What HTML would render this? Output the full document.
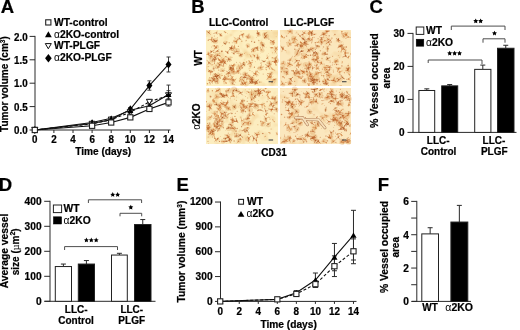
<!DOCTYPE html>
<html><head><meta charset="utf-8"><style>
html,body{margin:0;padding:0;background:#fff;width:520px;height:330px;overflow:hidden}
svg{display:block}
text{stroke:#000;stroke-width:0.22px}
</style></head><body>
<svg width="520" height="330" viewBox="0 0 520 330" font-family="Liberation Sans" font-weight="bold" fill="#000">
<defs><filter id="bl" x="-5%" y="-5%" width="110%" height="110%"><feGaussianBlur stdDeviation="0.45"/></filter><filter id="bl2" x="-5%" y="-5%" width="110%" height="110%"><feGaussianBlur stdDeviation="0.7"/></filter><filter id="gbl" x="0" y="0" width="100%" height="100%"><feGaussianBlur stdDeviation="0.3"/></filter></defs>
<rect width="520" height="330" fill="#fff"/>
<g filter="url(#gbl)">
<rect width="520" height="330" fill="#fff"/>
<text x="0.64" y="12.90" font-size="18.5" text-anchor="start" >A</text>
<text x="191.20" y="12.90" font-size="18.5" text-anchor="start" >B</text>
<text x="369.40" y="12.80" font-size="18.5" text-anchor="start" >C</text>
<text x="-1.24" y="190.60" font-size="18.5" text-anchor="start" >D</text>
<text x="176.40" y="190.90" font-size="18.5" text-anchor="start" >E</text>
<text x="377.80" y="190.90" font-size="18.5" text-anchor="start" >F</text>
<line x1="35.00" y1="35.90" x2="35.00" y2="130.50" stroke="#2a2a2a" stroke-width="1.0" />
<line x1="34.50" y1="130.00" x2="170.50" y2="130.00" stroke="#2a2a2a" stroke-width="1.0" />
<line x1="29.60" y1="36.40" x2="35.00" y2="36.40" stroke="#2a2a2a" stroke-width="1.0" />
<text transform="translate(27.60,40.60) scale(1,1.06)" font-size="9.8" text-anchor="end">2.0</text>
<line x1="29.60" y1="59.80" x2="35.00" y2="59.80" stroke="#2a2a2a" stroke-width="1.0" />
<text transform="translate(27.60,64.00) scale(1,1.06)" font-size="9.8" text-anchor="end">1.5</text>
<line x1="29.60" y1="83.20" x2="35.00" y2="83.20" stroke="#2a2a2a" stroke-width="1.0" />
<text transform="translate(27.60,87.40) scale(1,1.06)" font-size="9.8" text-anchor="end">1.0</text>
<line x1="29.60" y1="106.60" x2="35.00" y2="106.60" stroke="#2a2a2a" stroke-width="1.0" />
<text transform="translate(27.60,110.80) scale(1,1.06)" font-size="9.8" text-anchor="end">0.5</text>
<line x1="29.60" y1="130.00" x2="35.00" y2="130.00" stroke="#2a2a2a" stroke-width="1.0" />
<text transform="translate(27.60,134.20) scale(1,1.06)" font-size="9.8" text-anchor="end">0.0</text>
<line x1="34.80" y1="130.00" x2="34.80" y2="133.00" stroke="#2a2a2a" stroke-width="1.0" />
<text transform="translate(34.80,142.90) scale(1,1.06)" font-size="9.8" text-anchor="middle">0</text>
<line x1="53.90" y1="130.00" x2="53.90" y2="133.00" stroke="#2a2a2a" stroke-width="1.0" />
<text transform="translate(53.90,142.90) scale(1,1.06)" font-size="9.8" text-anchor="middle">2</text>
<line x1="73.00" y1="130.00" x2="73.00" y2="133.00" stroke="#2a2a2a" stroke-width="1.0" />
<text transform="translate(73.00,142.90) scale(1,1.06)" font-size="9.8" text-anchor="middle">4</text>
<line x1="92.10" y1="130.00" x2="92.10" y2="133.00" stroke="#2a2a2a" stroke-width="1.0" />
<text transform="translate(92.10,142.90) scale(1,1.06)" font-size="9.8" text-anchor="middle">6</text>
<line x1="111.20" y1="130.00" x2="111.20" y2="133.00" stroke="#2a2a2a" stroke-width="1.0" />
<text transform="translate(111.20,142.90) scale(1,1.06)" font-size="9.8" text-anchor="middle">8</text>
<line x1="130.30" y1="130.00" x2="130.30" y2="133.00" stroke="#2a2a2a" stroke-width="1.0" />
<text transform="translate(130.30,142.90) scale(1,1.06)" font-size="9.8" text-anchor="middle">10</text>
<line x1="149.40" y1="130.00" x2="149.40" y2="133.00" stroke="#2a2a2a" stroke-width="1.0" />
<text transform="translate(149.40,142.90) scale(1,1.06)" font-size="9.8" text-anchor="middle">12</text>
<line x1="168.50" y1="130.00" x2="168.50" y2="133.00" stroke="#2a2a2a" stroke-width="1.0" />
<text transform="translate(168.50,142.90) scale(1,1.06)" font-size="9.8" text-anchor="middle">14</text>
<text x="103.20" y="155.30" font-size="10.1" text-anchor="middle" >Time (days)</text>
<text transform="translate(8.20,84.10) rotate(-90)" x="0" y="0" font-size="10" text-anchor="middle" >Tumor volume (cm<tspan dy="-3.5" font-size="6.5">3</tspan><tspan dy="3.5">)</tspan></text>
<polyline points="34.80,130.00 92.10,125.79 111.20,122.51 130.30,117.36 149.40,108.94 168.50,102.39" fill="none" stroke="#111" stroke-width="1.1" />
<polyline points="34.80,130.00 92.10,122.51 111.20,118.30 130.30,110.34 149.40,105.66 168.50,94.43" fill="none" stroke="#111" stroke-width="1.1" />
<polyline points="34.80,130.00 92.10,123.92 111.20,119.70 130.30,112.22 149.40,101.92 168.50,95.37" fill="none" stroke="#111" stroke-width="1.1" stroke-dasharray="3,2"/>
<polyline points="34.80,130.00 92.10,123.45 111.20,119.70 130.30,109.41 149.40,85.54 168.50,64.48" fill="none" stroke="#111" stroke-width="1.1" />
<line x1="149.40" y1="106.60" x2="149.40" y2="111.28" stroke="#2a2a2a" stroke-width="0.9" />
<line x1="147.40" y1="106.60" x2="151.40" y2="106.60" stroke="#2a2a2a" stroke-width="0.9" />
<line x1="147.40" y1="111.28" x2="151.40" y2="111.28" stroke="#2a2a2a" stroke-width="0.9" />
<line x1="168.50" y1="98.64" x2="168.50" y2="106.13" stroke="#2a2a2a" stroke-width="0.9" />
<line x1="166.50" y1="98.64" x2="170.50" y2="98.64" stroke="#2a2a2a" stroke-width="0.9" />
<line x1="166.50" y1="106.13" x2="170.50" y2="106.13" stroke="#2a2a2a" stroke-width="0.9" />
<line x1="130.30" y1="108.00" x2="130.30" y2="112.68" stroke="#2a2a2a" stroke-width="0.9" />
<line x1="128.30" y1="108.00" x2="132.30" y2="108.00" stroke="#2a2a2a" stroke-width="0.9" />
<line x1="128.30" y1="112.68" x2="132.30" y2="112.68" stroke="#2a2a2a" stroke-width="0.9" />
<line x1="149.40" y1="102.86" x2="149.40" y2="108.47" stroke="#2a2a2a" stroke-width="0.9" />
<line x1="147.40" y1="102.86" x2="151.40" y2="102.86" stroke="#2a2a2a" stroke-width="0.9" />
<line x1="147.40" y1="108.47" x2="151.40" y2="108.47" stroke="#2a2a2a" stroke-width="0.9" />
<line x1="168.50" y1="85.07" x2="168.50" y2="103.79" stroke="#2a2a2a" stroke-width="0.9" />
<line x1="166.50" y1="85.07" x2="170.50" y2="85.07" stroke="#2a2a2a" stroke-width="0.9" />
<line x1="166.50" y1="103.79" x2="170.50" y2="103.79" stroke="#2a2a2a" stroke-width="0.9" />
<line x1="130.30" y1="110.34" x2="130.30" y2="114.09" stroke="#2a2a2a" stroke-width="0.9" />
<line x1="128.30" y1="110.34" x2="132.30" y2="110.34" stroke="#2a2a2a" stroke-width="0.9" />
<line x1="128.30" y1="114.09" x2="132.30" y2="114.09" stroke="#2a2a2a" stroke-width="0.9" />
<line x1="149.40" y1="99.58" x2="149.40" y2="104.26" stroke="#2a2a2a" stroke-width="0.9" />
<line x1="147.40" y1="99.58" x2="151.40" y2="99.58" stroke="#2a2a2a" stroke-width="0.9" />
<line x1="147.40" y1="104.26" x2="151.40" y2="104.26" stroke="#2a2a2a" stroke-width="0.9" />
<line x1="168.50" y1="90.69" x2="168.50" y2="100.05" stroke="#2a2a2a" stroke-width="0.9" />
<line x1="166.50" y1="90.69" x2="170.50" y2="90.69" stroke="#2a2a2a" stroke-width="0.9" />
<line x1="166.50" y1="100.05" x2="170.50" y2="100.05" stroke="#2a2a2a" stroke-width="0.9" />
<line x1="130.30" y1="107.54" x2="130.30" y2="111.28" stroke="#2a2a2a" stroke-width="0.9" />
<line x1="128.30" y1="107.54" x2="132.30" y2="107.54" stroke="#2a2a2a" stroke-width="0.9" />
<line x1="128.30" y1="111.28" x2="132.30" y2="111.28" stroke="#2a2a2a" stroke-width="0.9" />
<line x1="149.40" y1="80.86" x2="149.40" y2="90.22" stroke="#2a2a2a" stroke-width="0.9" />
<line x1="147.40" y1="80.86" x2="151.40" y2="80.86" stroke="#2a2a2a" stroke-width="0.9" />
<line x1="147.40" y1="90.22" x2="151.40" y2="90.22" stroke="#2a2a2a" stroke-width="0.9" />
<line x1="168.50" y1="56.99" x2="168.50" y2="71.97" stroke="#2a2a2a" stroke-width="0.9" />
<line x1="166.50" y1="56.99" x2="170.50" y2="56.99" stroke="#2a2a2a" stroke-width="0.9" />
<line x1="166.50" y1="71.97" x2="170.50" y2="71.97" stroke="#2a2a2a" stroke-width="0.9" />
<polygon points="34.80,125.90 37.80,130.00 34.80,134.10 31.80,130.00" fill="#000"/>
<polygon points="92.10,119.35 95.10,123.45 92.10,127.55 89.10,123.45" fill="#000"/>
<polygon points="111.20,115.60 114.20,119.70 111.20,123.80 108.20,119.70" fill="#000"/>
<polygon points="130.30,105.31 133.30,109.41 130.30,113.51 127.30,109.41" fill="#000"/>
<polygon points="149.40,81.44 152.40,85.54 149.40,89.64 146.40,85.54" fill="#000"/>
<polygon points="168.50,60.38 171.50,64.48 168.50,68.58 165.50,64.48" fill="#000"/>
<polygon points="31.80,127.39 37.80,127.39 34.80,132.61" fill="#fff" stroke="#111" stroke-width="1"/>
<polygon points="89.10,121.31 95.10,121.31 92.10,126.53" fill="#fff" stroke="#111" stroke-width="1"/>
<polygon points="108.20,117.09 114.20,117.09 111.20,122.31" fill="#fff" stroke="#111" stroke-width="1"/>
<polygon points="127.30,109.61 133.30,109.61 130.30,114.83" fill="#fff" stroke="#111" stroke-width="1"/>
<polygon points="146.40,99.31 152.40,99.31 149.40,104.53" fill="#fff" stroke="#111" stroke-width="1"/>
<polygon points="165.50,92.76 171.50,92.76 168.50,97.98" fill="#fff" stroke="#111" stroke-width="1"/>
<polygon points="31.80,132.61 37.80,132.61 34.80,127.39" fill="#000" stroke="#111" stroke-width="0"/>
<polygon points="89.10,125.12 95.10,125.12 92.10,119.90" fill="#000" stroke="#111" stroke-width="0"/>
<polygon points="108.20,120.91 114.20,120.91 111.20,115.69" fill="#000" stroke="#111" stroke-width="0"/>
<polygon points="127.30,112.95 133.30,112.95 130.30,107.73" fill="#000" stroke="#111" stroke-width="0"/>
<polygon points="146.40,108.27 152.40,108.27 149.40,103.05" fill="#000" stroke="#111" stroke-width="0"/>
<polygon points="165.50,97.04 171.50,97.04 168.50,91.82" fill="#000" stroke="#111" stroke-width="0"/>
<rect x="32.20" y="127.40" width="5.20" height="5.20" fill="#fff" stroke="#222" stroke-width="1.1"/>
<rect x="89.50" y="123.19" width="5.20" height="5.20" fill="#fff" stroke="#222" stroke-width="1.1"/>
<rect x="108.60" y="119.91" width="5.20" height="5.20" fill="#fff" stroke="#222" stroke-width="1.1"/>
<rect x="127.70" y="114.76" width="5.20" height="5.20" fill="#fff" stroke="#222" stroke-width="1.1"/>
<rect x="146.80" y="106.34" width="5.20" height="5.20" fill="#fff" stroke="#222" stroke-width="1.1"/>
<rect x="165.90" y="99.79" width="5.20" height="5.20" fill="#fff" stroke="#222" stroke-width="1.1"/>
<rect x="45.70" y="19.80" width="5.20" height="5.20" fill="#fff" stroke="#222" stroke-width="1.1"/>
<text x="54.00" y="25.80" font-size="10.25" text-anchor="start" >WT-control</text>
<polygon points="45.00,37.26 51.80,37.26 48.40,31.34" fill="#000" stroke="#111" stroke-width="0"/>
<text x="54.00" y="37.50" font-size="10.25" text-anchor="start" ><tspan font-family="Liberation Sans" font-weight="normal" style="stroke-width:0">α</tspan>2KO-control</text>
<polygon points="45.30,43.59 51.30,43.59 48.30,48.81" fill="#fff" stroke="#111" stroke-width="1"/>
<text x="54.00" y="49.30" font-size="10.25" text-anchor="start" >WT-PLGF</text>
<polygon points="48.40,54.00 51.70,58.30 48.40,62.60 45.10,58.30" fill="#000"/>
<text x="54.00" y="61.30" font-size="10.25" text-anchor="start" ><tspan font-family="Liberation Sans" font-weight="normal" style="stroke-width:0">α</tspan>2KO-PLGF</text>
<defs><filter id="tx0" x="0" y="0" width="100%" height="100%" color-interpolation-filters="sRGB">
 <feTurbulence type="fractalNoise" baseFrequency="0.25" numOctaves="2" seed="10" result="n3"/>
 <feColorMatrix in="n3" type="matrix" values="0 0 0 0 0.86  0 0 0 0 0.60  0 0 0 0 0.36  5 -2.5 -2.5 0 -1.2" result="spots2"/>
 <feTurbulence type="fractalNoise" baseFrequency="0.1" numOctaves="2" seed="15" result="n2"/>
 <feColorMatrix in="n2" type="matrix" values="0 0 0 0 0.93  0 0 0 0 0.76  0 0 0 0 0.50  1.6 0 0 0 -0.85" result="mott"/>
 <feFlood flood-color="#fdefc0" result="bg"/>
 <feComposite in="mott" in2="bg" operator="over" result="m1"/>
 <feComposite in="spots2" in2="m1" operator="over" result="m2"/>
 <feGaussianBlur in="m2" stdDeviation="0.35"/>
</filter><filter id="tx1" x="0" y="0" width="100%" height="100%" color-interpolation-filters="sRGB">
 <feTurbulence type="fractalNoise" baseFrequency="0.25" numOctaves="2" seed="17" result="n3"/>
 <feColorMatrix in="n3" type="matrix" values="0 0 0 0 0.86  0 0 0 0 0.60  0 0 0 0 0.36  5 -2.5 -2.5 0 -1.2" result="spots2"/>
 <feTurbulence type="fractalNoise" baseFrequency="0.1" numOctaves="2" seed="22" result="n2"/>
 <feColorMatrix in="n2" type="matrix" values="0 0 0 0 0.93  0 0 0 0 0.76  0 0 0 0 0.50  1.6 0 0 0 -0.85" result="mott"/>
 <feFlood flood-color="#fbe7bc" result="bg"/>
 <feComposite in="mott" in2="bg" operator="over" result="m1"/>
 <feComposite in="spots2" in2="m1" operator="over" result="m2"/>
 <feGaussianBlur in="m2" stdDeviation="0.35"/>
</filter><filter id="tx2" x="0" y="0" width="100%" height="100%" color-interpolation-filters="sRGB">
 <feTurbulence type="fractalNoise" baseFrequency="0.25" numOctaves="2" seed="24" result="n3"/>
 <feColorMatrix in="n3" type="matrix" values="0 0 0 0 0.86  0 0 0 0 0.60  0 0 0 0 0.36  5 -2.5 -2.5 0 -1.2" result="spots2"/>
 <feTurbulence type="fractalNoise" baseFrequency="0.1" numOctaves="2" seed="29" result="n2"/>
 <feColorMatrix in="n2" type="matrix" values="0 0 0 0 0.93  0 0 0 0 0.76  0 0 0 0 0.50  1.6 0 0 0 -0.85" result="mott"/>
 <feFlood flood-color="#fcedc0" result="bg"/>
 <feComposite in="mott" in2="bg" operator="over" result="m1"/>
 <feComposite in="spots2" in2="m1" operator="over" result="m2"/>
 <feGaussianBlur in="m2" stdDeviation="0.35"/>
</filter><filter id="tx3" x="0" y="0" width="100%" height="100%" color-interpolation-filters="sRGB">
 <feTurbulence type="fractalNoise" baseFrequency="0.25" numOctaves="2" seed="31" result="n3"/>
 <feColorMatrix in="n3" type="matrix" values="0 0 0 0 0.86  0 0 0 0 0.60  0 0 0 0 0.36  5 -2.5 -2.5 0 -1.2" result="spots2"/>
 <feTurbulence type="fractalNoise" baseFrequency="0.1" numOctaves="2" seed="36" result="n2"/>
 <feColorMatrix in="n2" type="matrix" values="0 0 0 0 0.93  0 0 0 0 0.76  0 0 0 0 0.50  1.6 0 0 0 -0.85" result="mott"/>
 <feFlood flood-color="#fbe7be" result="bg"/>
 <feComposite in="mott" in2="bg" operator="over" result="m1"/>
 <feComposite in="spots2" in2="m1" operator="over" result="m2"/>
 <feGaussianBlur in="m2" stdDeviation="0.35"/>
</filter></defs>
<rect x="206.5" y="30.2" width="71.10" height="55.00" fill="#fdefc0" filter="url(#tx0)"/>
<g filter="url(#bl2)" fill="#dc9c58" opacity="0.3"><circle cx="216.9" cy="54.7" r="2.1"/><circle cx="252.3" cy="78.8" r="2.3"/><circle cx="216.9" cy="66.4" r="2.3"/><circle cx="250.5" cy="65.4" r="1.7"/><circle cx="221.9" cy="61.7" r="2.0"/><circle cx="276.3" cy="60.5" r="2.7"/><circle cx="217.7" cy="77.7" r="2.4"/><circle cx="248.3" cy="36.7" r="2.5"/><circle cx="262.2" cy="50.4" r="2.4"/><circle cx="260.2" cy="68.2" r="2.5"/><circle cx="237.3" cy="50.7" r="2.7"/><circle cx="231.1" cy="68.2" r="1.7"/><circle cx="275.7" cy="58.5" r="2.0"/><circle cx="243.2" cy="79.8" r="2.1"/><circle cx="219.0" cy="64.6" r="2.6"/><circle cx="275.7" cy="48.9" r="2.2"/><circle cx="214.6" cy="79.4" r="2.4"/><circle cx="225.1" cy="42.7" r="2.1"/><circle cx="275.8" cy="61.8" r="1.6"/><circle cx="244.7" cy="74.0" r="2.5"/><circle cx="238.8" cy="68.3" r="2.8"/><circle cx="241.4" cy="79.7" r="2.2"/><circle cx="271.3" cy="73.4" r="2.1"/><circle cx="214.9" cy="39.9" r="2.1"/><circle cx="243.8" cy="64.3" r="2.2"/><circle cx="235.5" cy="41.5" r="2.4"/><circle cx="222.0" cy="70.0" r="2.0"/><circle cx="210.6" cy="71.5" r="1.9"/><circle cx="210.8" cy="79.4" r="2.5"/><circle cx="231.0" cy="67.4" r="2.7"/><circle cx="222.8" cy="61.1" r="2.9"/><circle cx="251.4" cy="79.6" r="1.6"/><circle cx="269.5" cy="62.8" r="2.5"/><circle cx="238.3" cy="72.0" r="2.0"/><circle cx="258.7" cy="34.7" r="2.1"/><circle cx="231.4" cy="80.1" r="2.9"/><circle cx="216.9" cy="77.0" r="2.7"/><circle cx="232.4" cy="70.8" r="2.3"/><circle cx="248.4" cy="77.3" r="2.8"/><circle cx="242.9" cy="34.8" r="1.7"/><circle cx="253.8" cy="50.0" r="2.5"/><circle cx="256.7" cy="48.7" r="2.3"/><circle cx="233.5" cy="48.8" r="2.7"/><circle cx="211.2" cy="56.9" r="3.0"/><circle cx="217.0" cy="81.8" r="2.5"/><circle cx="213.9" cy="79.1" r="2.2"/><circle cx="220.9" cy="35.4" r="1.6"/><circle cx="263.1" cy="44.3" r="2.1"/><circle cx="233.7" cy="72.7" r="2.2"/><circle cx="215.5" cy="57.8" r="2.4"/><circle cx="241.9" cy="84.1" r="2.0"/><circle cx="215.4" cy="40.9" r="2.9"/><circle cx="250.0" cy="63.3" r="2.0"/><circle cx="256.1" cy="81.7" r="2.4"/><circle cx="232.9" cy="80.7" r="2.1"/><circle cx="266.1" cy="36.6" r="2.9"/><circle cx="219.5" cy="75.5" r="2.3"/><circle cx="251.1" cy="79.0" r="2.6"/><circle cx="245.9" cy="83.6" r="2.9"/><circle cx="264.7" cy="34.4" r="2.5"/><circle cx="258.4" cy="57.7" r="1.9"/><circle cx="215.0" cy="76.0" r="2.9"/><circle cx="240.8" cy="55.0" r="2.5"/><circle cx="221.9" cy="60.7" r="2.8"/><circle cx="231.4" cy="48.5" r="1.8"/><circle cx="229.4" cy="58.6" r="2.0"/><circle cx="247.9" cy="45.6" r="2.3"/><circle cx="262.3" cy="45.1" r="1.9"/><circle cx="272.4" cy="42.5" r="2.7"/><circle cx="251.9" cy="81.0" r="2.9"/><circle cx="274.6" cy="79.9" r="1.9"/><circle cx="211.9" cy="60.0" r="2.6"/><circle cx="269.5" cy="78.0" r="2.7"/><circle cx="217.3" cy="46.9" r="1.9"/><circle cx="232.1" cy="83.4" r="1.9"/><circle cx="225.3" cy="78.4" r="2.4"/></g>
<g filter="url(#bl)" stroke-linecap="round" fill="none"><path d="M217.6,55.3L218.0,54.0M217.6,55.3L218.8,55.6M217.6,55.3L215.3,57.4M217.6,55.3L215.8,55.1" stroke="#bc6832" stroke-width="0.72" opacity="0.58"/><circle cx="217.6" cy="55.3" r="0.77" fill="#bc6832" stroke="none" opacity="0.58"/><path d="M250.8,82.3L251.3,83.6M250.8,82.3L249.2,83.4M250.8,82.3L252.5,80.7" stroke="#ac5826" stroke-width="0.92" opacity="0.65"/><circle cx="250.8" cy="82.3" r="0.57" fill="#ac5826" stroke="none" opacity="0.65"/><path d="M251.6,79.0L251.8,76.8M251.6,79.0L252.6,81.2" stroke="#d07e40" stroke-width="0.62" opacity="0.74"/><circle cx="251.6" cy="79.0" r="0.68" fill="#d07e40" stroke="none" opacity="0.74"/><path d="M217.7,67.0L220.0,67.6M217.7,67.0L216.9,68.7M217.7,67.0L216.1,65.1M217.7,67.0L219.7,65.9" stroke="#b8602a" stroke-width="0.70" opacity="0.42"/><circle cx="217.7" cy="67.0" r="0.62" fill="#b8602a" stroke="none" opacity="0.42"/><path d="M250.2,66.2L251.1,65.2M250.2,66.2L250.3,67.9" stroke="#d07e40" stroke-width="0.76" opacity="0.42"/><circle cx="250.2" cy="66.2" r="0.53" fill="#d07e40" stroke="none" opacity="0.42"/><path d="M220.9,61.9L223.9,60.9M220.9,61.9L219.5,62.8" stroke="#b8602a" stroke-width="0.89" opacity="0.77"/><circle cx="220.9" cy="61.9" r="0.75" fill="#b8602a" stroke="none" opacity="0.77"/><path d="M276.1,60.8L274.6,58.3M276.1,60.8L277.1,60.3M276.1,60.8L277.0,62.7M276.1,60.8L274.6,61.4" stroke="#c4682e" stroke-width="0.68" opacity="0.69"/><circle cx="276.1" cy="60.8" r="0.84" fill="#c4682e" stroke="none" opacity="0.69"/><path d="M217.4,78.4L218.6,80.1M217.4,78.4L216.0,78.9M217.4,78.4L219.3,77.1" stroke="#bc6832" stroke-width="0.71" opacity="0.41"/><circle cx="217.4" cy="78.4" r="0.59" fill="#bc6832" stroke="none" opacity="0.41"/><path d="M247.9,37.1L248.4,35.2M247.9,37.1L248.1,38.4M247.9,37.1L245.9,36.5" stroke="#c4682e" stroke-width="0.68" opacity="0.66"/><circle cx="247.9" cy="37.1" r="0.70" fill="#c4682e" stroke="none" opacity="0.66"/><path d="M245.9,75.6L245.2,72.7M245.9,75.6L248.7,75.5M245.9,75.6L244.4,75.8" stroke="#d07e40" stroke-width="0.66" opacity="0.66"/><circle cx="245.9" cy="75.6" r="0.82" fill="#d07e40" stroke="none" opacity="0.66"/><path d="M261.4,49.7L262.1,50.7M261.4,49.7L259.8,48.1" stroke="#c4682e" stroke-width="0.64" opacity="0.50"/><circle cx="261.4" cy="49.7" r="0.57" fill="#c4682e" stroke="none" opacity="0.50"/><path d="M260.5,67.7L263.4,66.9M260.5,67.7L261.2,69.4M260.5,67.7L257.6,68.2M260.5,67.7L261.4,64.8" stroke="#d07e40" stroke-width="0.76" opacity="0.72"/><circle cx="260.5" cy="67.7" r="0.57" fill="#d07e40" stroke="none" opacity="0.72"/><path d="M272.1,69.0L270.6,66.7M272.1,69.0L274.8,70.3" stroke="#cc7636" stroke-width="0.71" opacity="0.67"/><circle cx="272.1" cy="69.0" r="0.56" fill="#cc7636" stroke="none" opacity="0.67"/><path d="M236.9,51.4L234.9,51.7M236.9,51.4L236.1,48.9M236.9,51.4L239.1,51.7" stroke="#b8602a" stroke-width="0.69" opacity="0.49"/><circle cx="236.9" cy="51.4" r="0.52" fill="#b8602a" stroke="none" opacity="0.49"/><path d="M224.0,81.5L224.2,78.4M224.0,81.5L224.1,83.9" stroke="#cc7636" stroke-width="0.77" opacity="0.42"/><circle cx="224.0" cy="81.5" r="0.70" fill="#cc7636" stroke="none" opacity="0.42"/><path d="M227.4,52.3L225.4,51.3M227.4,52.3L228.6,51.1M227.4,52.3L227.8,53.6" stroke="#b8602a" stroke-width="0.72" opacity="0.73"/><circle cx="227.4" cy="52.3" r="0.72" fill="#b8602a" stroke="none" opacity="0.73"/><path d="M230.6,67.8L229.7,65.1M230.6,67.8L232.6,67.8M230.6,67.8L230.2,69.8M230.6,67.8L228.7,70.3" stroke="#ac5826" stroke-width="0.72" opacity="0.55"/><circle cx="230.6" cy="67.8" r="0.83" fill="#ac5826" stroke="none" opacity="0.55"/><path d="M245.7,77.4L247.8,78.8M245.7,77.4L244.0,75.9" stroke="#bc6832" stroke-width="0.71" opacity="0.68"/><circle cx="245.7" cy="77.4" r="0.62" fill="#bc6832" stroke="none" opacity="0.68"/><path d="M275.8,58.0L277.1,55.9M275.8,58.0L275.2,61.1" stroke="#ac5826" stroke-width="0.80" opacity="0.48"/><circle cx="275.8" cy="58.0" r="0.50" fill="#ac5826" stroke="none" opacity="0.48"/><path d="M244.0,77.6L245.5,77.6M244.0,77.6L241.2,76.6" stroke="#b8602a" stroke-width="0.70" opacity="0.77"/><circle cx="244.0" cy="77.6" r="0.76" fill="#b8602a" stroke="none" opacity="0.77"/><path d="M217.4,75.5L216.6,77.3M217.4,75.5L215.5,73.7M217.4,75.5L218.8,75.6" stroke="#b8602a" stroke-width="0.89" opacity="0.77"/><circle cx="217.4" cy="75.5" r="0.70" fill="#b8602a" stroke="none" opacity="0.77"/><path d="M209.7,70.8L211.1,71.9M209.7,70.8L208.4,70.1" stroke="#ac5826" stroke-width="0.68" opacity="0.57"/><circle cx="209.7" cy="70.8" r="0.72" fill="#ac5826" stroke="none" opacity="0.57"/><path d="M275.6,51.7L274.6,50.3M275.6,51.7L276.9,49.5M275.6,51.7L276.6,53.9M275.6,51.7L274.6,52.7" stroke="#d07e40" stroke-width="0.73" opacity="0.42"/><circle cx="275.6" cy="51.7" r="0.54" fill="#d07e40" stroke="none" opacity="0.42"/><path d="M268.5,66.3L270.9,64.8M268.5,66.3L269.6,69.1M268.5,66.3L265.8,67.6M268.5,66.3L265.7,64.7" stroke="#c4682e" stroke-width="0.78" opacity="0.72"/><circle cx="268.5" cy="66.3" r="0.81" fill="#c4682e" stroke="none" opacity="0.72"/><path d="M243.3,80.6L244.8,82.0M243.3,80.6L242.4,79.2" stroke="#bc6832" stroke-width="0.71" opacity="0.54"/><circle cx="243.3" cy="80.6" r="0.58" fill="#bc6832" stroke="none" opacity="0.54"/><path d="M219.4,64.8L218.5,67.0M219.4,64.8L218.3,63.2M219.4,64.8L221.8,65.1" stroke="#b8602a" stroke-width="0.70" opacity="0.72"/><circle cx="219.4" cy="64.8" r="0.70" fill="#b8602a" stroke="none" opacity="0.72"/><path d="M276.0,48.6L277.1,49.3M276.0,48.6L275.5,49.8M276.0,48.6L274.9,46.6M276.0,48.6L277.1,46.8" stroke="#cc7636" stroke-width="0.80" opacity="0.59"/><circle cx="276.0" cy="48.6" r="0.61" fill="#cc7636" stroke="none" opacity="0.59"/><path d="M210.6,72.5L209.9,71.5M210.6,72.5L210.6,74.9" stroke="#c4682e" stroke-width="0.76" opacity="0.41"/><circle cx="210.6" cy="72.5" r="0.54" fill="#c4682e" stroke="none" opacity="0.41"/><path d="M214.3,78.5L211.6,78.2M214.3,78.5L215.5,78.9" stroke="#bc6832" stroke-width="0.64" opacity="0.65"/><circle cx="214.3" cy="78.5" r="0.77" fill="#bc6832" stroke="none" opacity="0.65"/><path d="M224.9,43.5L225.5,44.6M224.9,43.5L223.5,42.8M224.9,43.5L227.0,42.5" stroke="#ac5826" stroke-width="0.60" opacity="0.74"/><circle cx="224.9" cy="43.5" r="0.61" fill="#ac5826" stroke="none" opacity="0.74"/><path d="M274.9,62.1L272.2,61.4M274.9,62.1L275.4,60.5M274.9,62.1L276.7,61.8M274.9,62.1L276.0,64.7" stroke="#c4682e" stroke-width="0.74" opacity="0.81"/><circle cx="274.9" cy="62.1" r="0.83" fill="#c4682e" stroke="none" opacity="0.81"/><path d="M245.4,74.1L243.2,74.5M245.4,74.1L247.7,73.0M245.4,74.1L246.5,75.3" stroke="#bc6832" stroke-width="0.80" opacity="0.48"/><circle cx="245.4" cy="74.1" r="0.80" fill="#bc6832" stroke="none" opacity="0.48"/><path d="M239.5,68.1L238.3,71.0M239.5,68.1L238.7,65.0M239.5,68.1L242.0,67.8" stroke="#bc6832" stroke-width="0.77" opacity="0.51"/><circle cx="239.5" cy="68.1" r="0.68" fill="#bc6832" stroke="none" opacity="0.51"/><path d="M240.8,79.3L239.6,78.7M240.8,79.3L241.6,82.0" stroke="#cc7636" stroke-width="0.84" opacity="0.44"/><circle cx="240.8" cy="79.3" r="0.55" fill="#cc7636" stroke="none" opacity="0.44"/><path d="M270.7,74.1L271.8,72.4M270.7,74.1L271.3,75.8M270.7,74.1L267.6,73.6" stroke="#bc6832" stroke-width="0.80" opacity="0.71"/><circle cx="270.7" cy="74.1" r="0.51" fill="#bc6832" stroke="none" opacity="0.71"/><path d="M264.0,61.5L265.7,60.9M264.0,61.5L262.0,60.6" stroke="#ac5826" stroke-width="0.65" opacity="0.69"/><circle cx="264.0" cy="61.5" r="0.73" fill="#ac5826" stroke="none" opacity="0.69"/><path d="M214.5,40.6L217.0,40.5M214.5,40.6L212.1,41.9" stroke="#b8602a" stroke-width="0.61" opacity="0.79"/><circle cx="214.5" cy="40.6" r="0.83" fill="#b8602a" stroke="none" opacity="0.79"/><path d="M243.8,64.4L243.9,62.6M243.8,64.4L244.7,65.8M243.8,64.4L242.1,63.9" stroke="#ac5826" stroke-width="0.63" opacity="0.77"/><circle cx="243.8" cy="64.4" r="0.61" fill="#ac5826" stroke="none" opacity="0.77"/><path d="M236.2,41.5L233.8,41.1M236.2,41.5L237.8,38.9M236.2,41.5L236.6,43.2" stroke="#cc7636" stroke-width="0.86" opacity="0.78"/><circle cx="236.2" cy="41.5" r="0.72" fill="#cc7636" stroke="none" opacity="0.78"/><path d="M213.7,68.7L214.1,70.1M213.7,68.7L212.2,69.0M213.7,68.7L215.7,67.7" stroke="#bc6832" stroke-width="0.65" opacity="0.46"/><circle cx="213.7" cy="68.7" r="0.75" fill="#bc6832" stroke="none" opacity="0.46"/><path d="M222.7,70.9L220.3,71.3M222.7,70.9L222.0,70.0M222.7,70.9L224.3,70.4M222.7,70.9L224.1,71.9" stroke="#cc7636" stroke-width="0.70" opacity="0.44"/><circle cx="222.7" cy="70.9" r="0.63" fill="#cc7636" stroke="none" opacity="0.44"/><path d="M250.7,56.1L249.8,54.6M250.7,56.1L251.2,57.2" stroke="#cc7636" stroke-width="0.67" opacity="0.48"/><circle cx="250.7" cy="56.1" r="0.72" fill="#cc7636" stroke="none" opacity="0.48"/><path d="M211.3,71.4L214.4,70.8M211.3,71.4L208.9,71.2" stroke="#d07e40" stroke-width="0.62" opacity="0.45"/><circle cx="211.3" cy="71.4" r="0.79" fill="#d07e40" stroke="none" opacity="0.45"/><path d="M257.0,71.6L259.1,73.0M257.0,71.6L256.0,72.4M257.0,71.6L257.1,70.1" stroke="#d07e40" stroke-width="0.74" opacity="0.50"/><circle cx="257.0" cy="71.6" r="0.68" fill="#d07e40" stroke="none" opacity="0.50"/><path d="M210.1,80.4L211.7,81.1M210.1,80.4L208.3,80.2" stroke="#cc7636" stroke-width="0.91" opacity="0.70"/><circle cx="210.1" cy="80.4" r="0.73" fill="#cc7636" stroke="none" opacity="0.70"/><path d="M231.1,68.2L231.1,70.6M231.1,68.2L229.3,67.5M231.1,68.2L232.6,65.7M231.1,68.2L232.4,69.1" stroke="#ac5826" stroke-width="0.72" opacity="0.46"/><circle cx="231.1" cy="68.2" r="0.63" fill="#ac5826" stroke="none" opacity="0.46"/><path d="M216.6,32.9L217.1,34.1M216.6,32.9L213.6,33.5M216.6,32.9L217.1,31.1" stroke="#bc6832" stroke-width="0.64" opacity="0.54"/><circle cx="216.6" cy="32.9" r="0.67" fill="#bc6832" stroke="none" opacity="0.54"/><path d="M214.6,45.9L215.6,46.7M214.6,45.9L213.0,45.9" stroke="#cc7636" stroke-width="0.70" opacity="0.84"/><circle cx="214.6" cy="45.9" r="0.60" fill="#cc7636" stroke="none" opacity="0.84"/><path d="M222.1,62.1L224.4,60.8M222.1,62.1L223.9,63.2M222.1,62.1L220.5,64.3M222.1,62.1L220.7,60.5" stroke="#c4682e" stroke-width="0.94" opacity="0.43"/><circle cx="222.1" cy="62.1" r="0.75" fill="#c4682e" stroke="none" opacity="0.43"/><path d="M251.9,79.7L253.5,79.4M251.9,79.7L248.9,78.6" stroke="#c4682e" stroke-width="0.70" opacity="0.80"/><circle cx="251.9" cy="79.7" r="0.56" fill="#c4682e" stroke="none" opacity="0.80"/><path d="M211.4,51.7L210.3,50.7M211.4,51.7L214.0,50.4M211.4,51.7L209.3,53.3" stroke="#bc6832" stroke-width="0.62" opacity="0.85"/><circle cx="211.4" cy="51.7" r="0.83" fill="#bc6832" stroke="none" opacity="0.85"/><path d="M269.6,63.7L269.5,61.9M269.6,63.7L271.2,64.6M269.6,63.7L266.7,62.9" stroke="#c4682e" stroke-width="0.69" opacity="0.51"/><circle cx="269.6" cy="63.7" r="0.84" fill="#c4682e" stroke="none" opacity="0.51"/><path d="M255.4,73.9L255.6,71.1M255.4,73.9L256.5,76.2M255.4,73.9L253.7,73.2" stroke="#bc6832" stroke-width="0.83" opacity="0.49"/><circle cx="255.4" cy="73.9" r="0.55" fill="#bc6832" stroke="none" opacity="0.49"/><path d="M237.9,71.3L236.9,70.1M237.9,71.3L240.5,69.6M237.9,71.3L238.4,73.3M237.9,71.3L235.9,73.7" stroke="#c4682e" stroke-width="0.65" opacity="0.73"/><circle cx="237.9" cy="71.3" r="0.78" fill="#c4682e" stroke="none" opacity="0.73"/><path d="M231.5,49.0L231.2,50.5M231.5,49.0L232.4,47.8" stroke="#d07e40" stroke-width="0.92" opacity="0.52"/><circle cx="231.5" cy="49.0" r="0.51" fill="#d07e40" stroke="none" opacity="0.52"/><path d="M219.0,59.7L221.5,61.4M219.0,59.7L218.4,58.0" stroke="#d07e40" stroke-width="0.82" opacity="0.82"/><circle cx="219.0" cy="59.7" r="0.80" fill="#d07e40" stroke="none" opacity="0.82"/><path d="M258.3,34.2L258.5,32.7M258.3,34.2L257.9,36.1" stroke="#c4682e" stroke-width="0.75" opacity="0.60"/><circle cx="258.3" cy="34.2" r="0.50" fill="#c4682e" stroke="none" opacity="0.60"/><path d="M231.0,79.4L232.1,78.0M231.0,79.4L231.3,80.7M231.0,79.4L228.0,78.7" stroke="#d07e40" stroke-width="0.75" opacity="0.51"/><circle cx="231.0" cy="79.4" r="0.60" fill="#d07e40" stroke="none" opacity="0.51"/><path d="M254.4,55.8L254.6,57.0M254.4,55.8L253.0,54.4" stroke="#c4682e" stroke-width="0.69" opacity="0.67"/><circle cx="254.4" cy="55.8" r="0.72" fill="#c4682e" stroke="none" opacity="0.67"/><path d="M215.9,76.4L213.6,76.7M215.9,76.4L214.6,74.2M215.9,76.4L217.7,76.0M215.9,76.4L217.5,79.1" stroke="#ac5826" stroke-width="0.82" opacity="0.76"/><circle cx="215.9" cy="76.4" r="0.65" fill="#ac5826" stroke="none" opacity="0.76"/><path d="M232.0,70.2L230.5,69.4M232.0,70.2L233.9,68.2M232.0,70.2L232.4,72.9M232.0,70.2L231.1,71.3" stroke="#c4682e" stroke-width="0.67" opacity="0.52"/><circle cx="232.0" cy="70.2" r="0.68" fill="#c4682e" stroke="none" opacity="0.52"/><path d="M249.3,76.4L247.8,74.2M249.3,76.4L250.7,77.2M249.3,76.4L247.3,78.0" stroke="#d07e40" stroke-width="0.80" opacity="0.54"/><circle cx="249.3" cy="76.4" r="0.68" fill="#d07e40" stroke="none" opacity="0.54"/><path d="M242.2,34.7L242.9,37.3M242.2,34.7L239.8,35.4M242.2,34.7L243.8,33.9" stroke="#c4682e" stroke-width="0.85" opacity="0.53"/><circle cx="242.2" cy="34.7" r="0.80" fill="#c4682e" stroke="none" opacity="0.53"/><path d="M253.4,50.1L252.5,50.9M253.4,50.1L253.0,48.7M253.4,50.1L255.4,47.8M253.4,50.1L253.6,51.6" stroke="#c4682e" stroke-width="0.94" opacity="0.59"/><circle cx="253.4" cy="50.1" r="0.69" fill="#c4682e" stroke="none" opacity="0.59"/><path d="M255.6,83.6L257.3,83.3M255.6,83.6L254.9,84.7M255.6,83.6L252.9,82.7M255.6,83.6L256.4,81.8" stroke="#c4682e" stroke-width="0.72" opacity="0.79"/><circle cx="255.6" cy="83.6" r="0.75" fill="#c4682e" stroke="none" opacity="0.79"/><path d="M257.0,48.1L254.8,47.9M257.0,48.1L257.6,46.7M257.0,48.1L258.0,50.6" stroke="#bc6832" stroke-width="0.84" opacity="0.78"/><circle cx="257.0" cy="48.1" r="0.80" fill="#bc6832" stroke="none" opacity="0.78"/><path d="M267.4,57.9L268.9,56.6M267.4,57.9L268.7,59.1M267.4,57.9L266.4,58.6M267.4,57.9L267.1,55.1" stroke="#c4682e" stroke-width="0.67" opacity="0.44"/><circle cx="267.4" cy="57.9" r="0.61" fill="#c4682e" stroke="none" opacity="0.44"/><path d="M228.5,73.0L230.3,73.7M228.5,73.0L226.2,74.3M228.5,73.0L226.6,71.1M228.5,73.0L229.5,71.5" stroke="#b8602a" stroke-width="0.70" opacity="0.81"/><circle cx="228.5" cy="73.0" r="0.55" fill="#b8602a" stroke="none" opacity="0.81"/><path d="M233.8,53.4L234.1,54.6M233.8,53.4L231.8,52.6M233.8,53.4L234.4,51.0M233.8,53.4L236.2,51.8" stroke="#b8602a" stroke-width="0.63" opacity="0.54"/><circle cx="233.8" cy="53.4" r="0.60" fill="#b8602a" stroke="none" opacity="0.54"/><path d="M234.1,48.0L234.6,45.1M234.1,48.0L232.8,50.6" stroke="#c4682e" stroke-width="0.64" opacity="0.65"/><circle cx="234.1" cy="48.0" r="0.61" fill="#c4682e" stroke="none" opacity="0.65"/><path d="M211.1,56.5L212.3,56.8M211.1,56.5L209.8,57.9M211.1,56.5L211.4,54.9" stroke="#d07e40" stroke-width="0.65" opacity="0.45"/><circle cx="211.1" cy="56.5" r="0.73" fill="#d07e40" stroke="none" opacity="0.45"/><path d="M217.0,81.3L217.8,80.4M217.0,81.3L217.7,83.2M217.0,81.3L214.4,81.8M217.0,81.3L216.9,78.7" stroke="#bc6832" stroke-width="0.77" opacity="0.54"/><circle cx="217.0" cy="81.3" r="0.73" fill="#bc6832" stroke="none" opacity="0.54"/><path d="M213.3,79.9L211.8,77.5M213.3,79.9L214.9,79.4M213.3,79.9L215.8,81.2M213.3,79.9L212.0,82.5" stroke="#bc6832" stroke-width="0.85" opacity="0.81"/><circle cx="213.3" cy="79.9" r="0.50" fill="#bc6832" stroke="none" opacity="0.81"/><path d="M220.5,35.0L219.0,33.4M220.5,35.0L221.8,35.8" stroke="#b8602a" stroke-width="0.69" opacity="0.79"/><circle cx="220.5" cy="35.0" r="0.69" fill="#b8602a" stroke="none" opacity="0.79"/><path d="M262.9,45.0L262.6,43.7M262.9,45.0L264.0,45.7M262.9,45.0L262.9,46.4M262.9,45.0L261.8,44.3" stroke="#ac5826" stroke-width="0.90" opacity="0.53"/><circle cx="262.9" cy="45.0" r="0.79" fill="#ac5826" stroke="none" opacity="0.53"/><path d="M233.7,71.7L233.1,68.6M233.7,71.7L235.9,72.1M233.7,71.7L234.0,73.8M233.7,71.7L230.9,72.2" stroke="#cc7636" stroke-width="0.89" opacity="0.54"/><circle cx="233.7" cy="71.7" r="0.82" fill="#cc7636" stroke="none" opacity="0.54"/><path d="M215.1,57.7L212.8,58.9M215.1,57.7L214.6,55.4M215.1,57.7L216.0,59.2" stroke="#bc6832" stroke-width="0.75" opacity="0.76"/><circle cx="215.1" cy="57.7" r="0.58" fill="#bc6832" stroke="none" opacity="0.76"/><path d="M242.6,83.7L241.0,84.3M242.6,83.7L242.3,82.3M242.6,83.7L243.9,83.8" stroke="#bc6832" stroke-width="0.89" opacity="0.68"/><circle cx="242.6" cy="83.7" r="0.57" fill="#bc6832" stroke="none" opacity="0.68"/><path d="M239.5,38.7L239.5,35.9M239.5,38.7L240.8,39.4M239.5,38.7L237.8,40.3" stroke="#bc6832" stroke-width="0.73" opacity="0.62"/><circle cx="239.5" cy="38.7" r="0.66" fill="#bc6832" stroke="none" opacity="0.62"/><path d="M215.8,41.5L217.1,40.5M215.8,41.5L213.8,42.0" stroke="#b8602a" stroke-width="0.82" opacity="0.85"/><circle cx="215.8" cy="41.5" r="0.68" fill="#b8602a" stroke="none" opacity="0.85"/><path d="M250.3,63.0L247.7,64.2M250.3,63.0L248.8,60.5M250.3,63.0L252.4,62.6M250.3,63.0L251.0,64.4" stroke="#d07e40" stroke-width="0.69" opacity="0.77"/><circle cx="250.3" cy="63.0" r="0.78" fill="#d07e40" stroke="none" opacity="0.77"/><path d="M256.1,81.8L258.5,79.9M256.1,81.8L257.4,83.0M256.1,81.8L254.4,82.3" stroke="#ac5826" stroke-width="0.67" opacity="0.83"/><circle cx="256.1" cy="81.8" r="0.62" fill="#ac5826" stroke="none" opacity="0.83"/><path d="M233.9,80.6L232.1,80.6M233.9,80.6L236.2,78.7M233.9,80.6L235.3,82.3" stroke="#c4682e" stroke-width="0.69" opacity="0.41"/><circle cx="233.9" cy="80.6" r="0.57" fill="#c4682e" stroke="none" opacity="0.41"/><path d="M265.5,36.5L266.7,35.0M265.5,36.5L266.8,37.2M265.5,36.5L264.8,38.1M265.5,36.5L264.3,34.2" stroke="#b8602a" stroke-width="0.92" opacity="0.84"/><circle cx="265.5" cy="36.5" r="0.60" fill="#b8602a" stroke="none" opacity="0.84"/><path d="M218.6,75.5L220.2,78.1M218.6,75.5L216.9,75.2M218.6,75.5L219.4,74.6" stroke="#b8602a" stroke-width="0.76" opacity="0.73"/><circle cx="218.6" cy="75.5" r="0.56" fill="#b8602a" stroke="none" opacity="0.73"/><path d="M210.9,56.1L213.1,54.6M210.9,56.1L211.9,57.4M210.9,56.1L210.6,58.8M210.9,56.1L208.6,55.7" stroke="#d07e40" stroke-width="0.79" opacity="0.49"/><circle cx="210.9" cy="56.1" r="0.58" fill="#d07e40" stroke="none" opacity="0.49"/><path d="M232.8,69.0L229.8,69.9M232.8,69.0L233.1,67.8M232.8,69.0L234.6,70.2M232.8,69.0L232.1,70.4" stroke="#b8602a" stroke-width="0.61" opacity="0.64"/><circle cx="232.8" cy="69.0" r="0.75" fill="#b8602a" stroke="none" opacity="0.64"/><path d="M251.8,79.5L250.6,77.3M251.8,79.5L252.5,77.1M251.8,79.5L252.6,80.8M251.8,79.5L250.8,82.3" stroke="#bc6832" stroke-width="0.85" opacity="0.82"/><circle cx="251.8" cy="79.5" r="0.60" fill="#bc6832" stroke="none" opacity="0.82"/><path d="M208.4,54.1L208.2,52.1M208.4,54.1L209.1,55.2M208.4,54.1L207.0,54.4" stroke="#cc7636" stroke-width="0.94" opacity="0.74"/><circle cx="208.4" cy="54.1" r="0.77" fill="#cc7636" stroke="none" opacity="0.74"/><path d="M211.3,39.8L212.0,41.3M211.3,39.8L208.9,39.4M211.3,39.8L211.7,38.1M211.3,39.8L212.5,39.8" stroke="#d07e40" stroke-width="0.73" opacity="0.70"/><circle cx="211.3" cy="39.8" r="0.59" fill="#d07e40" stroke="none" opacity="0.70"/><path d="M233.0,79.7L234.3,79.9M233.0,79.7L232.9,82.7M233.0,79.7L231.6,78.1" stroke="#bc6832" stroke-width="0.76" opacity="0.71"/><circle cx="233.0" cy="79.7" r="0.69" fill="#bc6832" stroke="none" opacity="0.71"/><path d="M245.0,83.1L243.7,82.2M245.0,83.1L246.5,82.2M245.0,83.1L245.7,84.7M245.0,83.1L243.2,84.7" stroke="#cc7636" stroke-width="0.94" opacity="0.74"/><circle cx="245.0" cy="83.1" r="0.83" fill="#cc7636" stroke="none" opacity="0.74"/><path d="M264.9,33.5L267.1,32.3M264.9,33.5L264.8,35.6" stroke="#b8602a" stroke-width="0.64" opacity="0.53"/><circle cx="264.9" cy="33.5" r="0.78" fill="#b8602a" stroke="none" opacity="0.53"/><path d="M255.7,73.8L257.9,75.0M255.7,73.8L254.1,75.4M255.7,73.8L253.9,73.3M255.7,73.8L255.9,72.3" stroke="#d07e40" stroke-width="0.82" opacity="0.81"/><circle cx="255.7" cy="73.8" r="0.54" fill="#d07e40" stroke="none" opacity="0.81"/><path d="M257.8,57.5L257.5,54.8M257.8,57.5L259.4,60.1M257.8,57.5L256.6,57.5" stroke="#b8602a" stroke-width="0.79" opacity="0.49"/><circle cx="257.8" cy="57.5" r="0.74" fill="#b8602a" stroke="none" opacity="0.49"/><path d="M209.0,62.8L207.6,60.7M209.0,62.8L211.1,64.2M209.0,62.8L208.0,64.3" stroke="#b8602a" stroke-width="0.86" opacity="0.53"/><circle cx="209.0" cy="62.8" r="0.82" fill="#b8602a" stroke="none" opacity="0.53"/><path d="M215.4,75.8L215.4,73.9M215.4,75.8L216.3,77.0" stroke="#bc6832" stroke-width="0.85" opacity="0.51"/><circle cx="215.4" cy="75.8" r="0.57" fill="#bc6832" stroke="none" opacity="0.51"/><path d="M217.3,51.0L218.7,51.3M217.3,51.0L214.8,52.6M217.3,51.0L218.7,49.6" stroke="#bc6832" stroke-width="0.89" opacity="0.59"/><circle cx="217.3" cy="51.0" r="0.85" fill="#bc6832" stroke="none" opacity="0.59"/><path d="M240.7,54.9L240.1,53.7M240.7,54.9L242.5,54.2M240.7,54.9L241.3,56.1M240.7,54.9L239.4,55.6" stroke="#bc6832" stroke-width="0.78" opacity="0.68"/><circle cx="240.7" cy="54.9" r="0.85" fill="#bc6832" stroke="none" opacity="0.68"/><path d="M222.8,59.9L222.3,61.1M222.8,59.9L224.1,58.0" stroke="#d07e40" stroke-width="0.75" opacity="0.76"/><circle cx="222.8" cy="59.9" r="0.81" fill="#d07e40" stroke="none" opacity="0.76"/><path d="M231.2,48.1L232.5,48.5M231.2,48.1L229.4,50.0M231.2,48.1L229.6,47.8M231.2,48.1L232.0,45.8" stroke="#ac5826" stroke-width="0.91" opacity="0.80"/><circle cx="231.2" cy="48.1" r="0.81" fill="#ac5826" stroke="none" opacity="0.80"/><path d="M228.0,79.3L229.4,79.3M228.0,79.3L225.4,79.7" stroke="#cc7636" stroke-width="0.87" opacity="0.52"/><circle cx="228.0" cy="79.3" r="0.51" fill="#cc7636" stroke="none" opacity="0.52"/><path d="M228.9,59.2L228.1,57.9M228.9,59.2L230.4,59.3M228.9,59.2L227.5,61.4" stroke="#bc6832" stroke-width="0.94" opacity="0.74"/><circle cx="228.9" cy="59.2" r="0.82" fill="#bc6832" stroke="none" opacity="0.74"/><path d="M247.7,46.1L246.7,45.1M247.7,46.1L249.1,46.7M247.7,46.1L247.4,47.8" stroke="#c4682e" stroke-width="0.63" opacity="0.56"/><circle cx="247.7" cy="46.1" r="0.76" fill="#c4682e" stroke="none" opacity="0.56"/><path d="M232.9,65.7L231.3,65.2M232.9,65.7L234.0,63.9M232.9,65.7L234.7,64.6M232.9,65.7L233.6,68.8" stroke="#cc7636" stroke-width="0.84" opacity="0.82"/><circle cx="232.9" cy="65.7" r="0.79" fill="#cc7636" stroke="none" opacity="0.82"/><path d="M241.1,66.1L240.0,66.8M241.1,66.1L240.5,63.1M241.1,66.1L242.3,65.4M241.1,66.1L242.3,67.2" stroke="#d07e40" stroke-width="0.82" opacity="0.44"/><circle cx="241.1" cy="66.1" r="0.75" fill="#d07e40" stroke="none" opacity="0.44"/><path d="M214.8,59.7L217.0,58.7M214.8,59.7L214.6,62.5M214.8,59.7L213.5,59.3" stroke="#ac5826" stroke-width="0.77" opacity="0.58"/><circle cx="214.8" cy="59.7" r="0.59" fill="#ac5826" stroke="none" opacity="0.58"/><path d="M263.1,45.5L261.1,44.8M263.1,45.5L264.8,47.0" stroke="#bc6832" stroke-width="0.79" opacity="0.51"/><circle cx="263.1" cy="45.5" r="0.83" fill="#bc6832" stroke="none" opacity="0.51"/><path d="M272.9,41.8L273.3,44.4M272.9,41.8L270.3,40.3M272.9,41.8L274.0,40.3M272.9,41.8L274.7,42.8" stroke="#c4682e" stroke-width="0.84" opacity="0.72"/><circle cx="272.9" cy="41.8" r="0.63" fill="#c4682e" stroke="none" opacity="0.72"/><path d="M252.3,81.8L250.3,79.5M252.3,81.8L255.0,82.3M252.3,81.8L252.4,83.1" stroke="#ac5826" stroke-width="0.81" opacity="0.84"/><circle cx="252.3" cy="81.8" r="0.51" fill="#ac5826" stroke="none" opacity="0.84"/><path d="M274.3,79.6L272.2,80.2M274.3,79.6L276.1,79.0" stroke="#c4682e" stroke-width="0.91" opacity="0.61"/><circle cx="274.3" cy="79.6" r="0.66" fill="#c4682e" stroke="none" opacity="0.61"/><path d="M212.6,60.0L214.7,59.4M212.6,60.0L211.8,60.9" stroke="#ac5826" stroke-width="0.70" opacity="0.56"/><circle cx="212.6" cy="60.0" r="0.58" fill="#ac5826" stroke="none" opacity="0.56"/><path d="M271.8,47.8L270.3,47.5M271.8,47.8L273.3,47.9" stroke="#d07e40" stroke-width="0.69" opacity="0.79"/><circle cx="271.8" cy="47.8" r="0.69" fill="#d07e40" stroke="none" opacity="0.79"/><path d="M258.0,33.4L257.3,30.8M258.0,33.4L259.7,32.9M258.0,33.4L259.6,35.0M258.0,33.4L256.6,33.2" stroke="#b8602a" stroke-width="0.80" opacity="0.75"/><circle cx="258.0" cy="33.4" r="0.82" fill="#b8602a" stroke="none" opacity="0.75"/><path d="M208.7,32.6L210.2,34.2M208.7,32.6L207.0,31.5M208.7,32.6L209.7,30.7" stroke="#bc6832" stroke-width="0.79" opacity="0.80"/><circle cx="208.7" cy="32.6" r="0.57" fill="#bc6832" stroke="none" opacity="0.80"/><path d="M269.1,77.1L271.7,76.7M269.1,77.1L267.0,79.4M269.1,77.1L267.1,75.2M269.1,77.1L269.7,74.5" stroke="#cc7636" stroke-width="0.79" opacity="0.71"/><circle cx="269.1" cy="77.1" r="0.69" fill="#cc7636" stroke="none" opacity="0.71"/><path d="M224.5,62.5L226.1,63.8M224.5,62.5L223.5,64.6M224.5,62.5L223.2,60.3M224.5,62.5L225.5,61.2" stroke="#b8602a" stroke-width="0.90" opacity="0.69"/><circle cx="224.5" cy="62.5" r="0.75" fill="#b8602a" stroke="none" opacity="0.69"/><path d="M216.3,47.8L214.4,48.8M216.3,47.8L216.9,45.8" stroke="#c4682e" stroke-width="0.86" opacity="0.75"/><circle cx="216.3" cy="47.8" r="0.52" fill="#c4682e" stroke="none" opacity="0.75"/><path d="M232.4,83.7L232.0,82.5M232.4,83.7L234.7,84.7" stroke="#bc6832" stroke-width="0.69" opacity="0.62"/><circle cx="232.4" cy="83.7" r="0.55" fill="#bc6832" stroke="none" opacity="0.62"/><path d="M225.7,78.4L224.7,79.7M225.7,78.4L224.7,75.8M225.7,78.4L227.4,78.2" stroke="#d07e40" stroke-width="0.77" opacity="0.77"/><circle cx="225.7" cy="78.4" r="0.81" fill="#d07e40" stroke="none" opacity="0.77"/><circle cx="235.5" cy="79.8" r="0.57" fill="#d08848" opacity="0.77"/><circle cx="272.2" cy="47.5" r="0.48" fill="#c8783c" opacity="0.85"/><circle cx="228.4" cy="76.5" r="0.74" fill="#c06c38" opacity="0.53"/><circle cx="227.0" cy="59.6" r="0.53" fill="#d08848" opacity="0.76"/><circle cx="219.6" cy="55.5" r="0.77" fill="#c06c38" opacity="0.75"/><circle cx="213.6" cy="52.3" r="0.66" fill="#b86430" opacity="0.54"/><circle cx="268.9" cy="39.0" r="0.60" fill="#b86430" opacity="0.75"/><circle cx="249.0" cy="34.1" r="0.57" fill="#d08848" opacity="0.58"/><circle cx="251.4" cy="49.4" r="0.52" fill="#c06c38" opacity="0.47"/><circle cx="222.0" cy="51.0" r="0.64" fill="#d08848" opacity="0.76"/><circle cx="240.6" cy="77.4" r="0.72" fill="#d08848" opacity="0.80"/><circle cx="221.1" cy="33.6" r="0.59" fill="#d08848" opacity="0.57"/><circle cx="241.8" cy="41.2" r="0.72" fill="#d08848" opacity="0.69"/><circle cx="212.2" cy="71.7" r="0.69" fill="#b86430" opacity="0.81"/><circle cx="212.6" cy="41.2" r="0.65" fill="#c06c38" opacity="0.67"/><circle cx="251.6" cy="41.5" r="0.67" fill="#c06c38" opacity="0.63"/><circle cx="232.5" cy="57.3" r="0.48" fill="#d08848" opacity="0.44"/><circle cx="242.3" cy="68.0" r="0.80" fill="#c06c38" opacity="0.58"/><circle cx="251.6" cy="51.7" r="0.52" fill="#c06c38" opacity="0.71"/><circle cx="213.7" cy="77.9" r="0.50" fill="#d08848" opacity="0.72"/><circle cx="224.5" cy="31.8" r="0.71" fill="#b86430" opacity="0.52"/><circle cx="226.6" cy="56.8" r="0.64" fill="#c8783c" opacity="0.64"/><circle cx="224.4" cy="77.7" r="0.59" fill="#b86430" opacity="0.81"/><circle cx="213.7" cy="67.1" r="0.65" fill="#c06c38" opacity="0.45"/><circle cx="258.7" cy="40.6" r="0.74" fill="#b86430" opacity="0.42"/><circle cx="272.0" cy="82.4" r="0.77" fill="#b86430" opacity="0.68"/><circle cx="259.5" cy="82.0" r="0.56" fill="#b86430" opacity="0.83"/><circle cx="212.8" cy="61.6" r="0.66" fill="#d08848" opacity="0.51"/><circle cx="273.2" cy="57.9" r="0.51" fill="#b86430" opacity="0.55"/><circle cx="221.8" cy="57.6" r="0.50" fill="#c06c38" opacity="0.44"/><circle cx="213.6" cy="39.5" r="0.78" fill="#c8783c" opacity="0.76"/><circle cx="260.6" cy="47.2" r="0.53" fill="#d08848" opacity="0.82"/><circle cx="210.2" cy="83.8" r="0.60" fill="#b86430" opacity="0.62"/><circle cx="251.4" cy="64.5" r="0.48" fill="#c06c38" opacity="0.42"/><circle cx="260.9" cy="82.1" r="0.72" fill="#d08848" opacity="0.58"/><circle cx="219.3" cy="60.4" r="0.58" fill="#c06c38" opacity="0.80"/><circle cx="238.2" cy="37.9" r="0.73" fill="#c06c38" opacity="0.51"/><circle cx="229.2" cy="42.7" r="0.69" fill="#c8783c" opacity="0.55"/><circle cx="218.1" cy="73.0" r="0.53" fill="#d08848" opacity="0.68"/><circle cx="214.3" cy="60.7" r="0.58" fill="#c06c38" opacity="0.66"/><circle cx="264.6" cy="37.4" r="0.67" fill="#c06c38" opacity="0.70"/><circle cx="253.5" cy="75.3" r="0.50" fill="#c06c38" opacity="0.72"/><circle cx="260.9" cy="63.2" r="0.58" fill="#b86430" opacity="0.52"/><circle cx="250.3" cy="79.1" r="0.60" fill="#c06c38" opacity="0.77"/><circle cx="231.8" cy="76.5" r="0.69" fill="#c8783c" opacity="0.63"/><circle cx="224.1" cy="70.1" r="0.58" fill="#b86430" opacity="0.46"/><circle cx="224.6" cy="79.7" r="0.76" fill="#b86430" opacity="0.42"/><circle cx="219.6" cy="53.2" r="0.72" fill="#d08848" opacity="0.53"/><circle cx="210.3" cy="54.0" r="0.71" fill="#c8783c" opacity="0.46"/><circle cx="242.8" cy="67.4" r="0.43" fill="#c8783c" opacity="0.78"/><circle cx="269.1" cy="62.1" r="0.57" fill="#c8783c" opacity="0.67"/><circle cx="243.5" cy="33.7" r="0.51" fill="#c06c38" opacity="0.55"/><circle cx="209.6" cy="82.4" r="0.75" fill="#b86430" opacity="0.48"/><circle cx="211.8" cy="54.5" r="0.58" fill="#b86430" opacity="0.53"/><circle cx="212.5" cy="83.3" r="0.49" fill="#c8783c" opacity="0.53"/><circle cx="213.1" cy="67.4" r="0.43" fill="#b86430" opacity="0.41"/><circle cx="218.8" cy="70.1" r="0.59" fill="#c8783c" opacity="0.81"/><circle cx="223.6" cy="78.9" r="0.78" fill="#b86430" opacity="0.71"/><circle cx="224.9" cy="79.5" r="0.53" fill="#b86430" opacity="0.76"/><circle cx="246.6" cy="62.0" r="0.79" fill="#d08848" opacity="0.68"/><circle cx="213.3" cy="77.4" r="0.77" fill="#d08848" opacity="0.43"/><circle cx="242.3" cy="79.2" r="0.59" fill="#d08848" opacity="0.69"/><circle cx="269.2" cy="65.0" r="0.76" fill="#c06c38" opacity="0.52"/><circle cx="249.5" cy="77.8" r="0.66" fill="#d08848" opacity="0.49"/><circle cx="225.5" cy="56.6" r="0.62" fill="#c8783c" opacity="0.81"/><circle cx="215.4" cy="82.8" r="0.41" fill="#b86430" opacity="0.73"/><circle cx="239.6" cy="81.0" r="0.73" fill="#c8783c" opacity="0.62"/><circle cx="231.1" cy="60.1" r="0.66" fill="#b86430" opacity="0.62"/><circle cx="224.8" cy="68.4" r="0.44" fill="#b86430" opacity="0.49"/><circle cx="217.4" cy="37.7" r="0.56" fill="#c8783c" opacity="0.57"/><circle cx="229.7" cy="61.0" r="0.78" fill="#c8783c" opacity="0.57"/><circle cx="224.8" cy="61.5" r="0.69" fill="#d08848" opacity="0.73"/><circle cx="256.0" cy="82.3" r="0.49" fill="#b86430" opacity="0.76"/><circle cx="212.0" cy="38.6" r="0.74" fill="#d08848" opacity="0.49"/><circle cx="217.3" cy="63.0" r="0.54" fill="#d08848" opacity="0.78"/><circle cx="249.7" cy="37.1" r="0.60" fill="#c06c38" opacity="0.55"/><circle cx="225.3" cy="62.9" r="0.73" fill="#c8783c" opacity="0.56"/><circle cx="236.9" cy="68.2" r="0.48" fill="#b86430" opacity="0.63"/><circle cx="270.2" cy="76.9" r="0.63" fill="#c06c38" opacity="0.46"/><circle cx="275.0" cy="61.8" r="0.64" fill="#c06c38" opacity="0.48"/><circle cx="234.3" cy="46.5" r="0.71" fill="#d08848" opacity="0.47"/><circle cx="208.2" cy="66.6" r="0.51" fill="#c8783c" opacity="0.68"/><circle cx="270.7" cy="48.2" r="0.41" fill="#d08848" opacity="0.55"/><circle cx="222.8" cy="79.6" r="0.73" fill="#c06c38" opacity="0.49"/><circle cx="252.2" cy="60.5" r="0.69" fill="#c8783c" opacity="0.58"/><circle cx="257.1" cy="58.7" r="0.55" fill="#b86430" opacity="0.62"/><circle cx="215.0" cy="61.0" r="0.48" fill="#c06c38" opacity="0.60"/><circle cx="222.2" cy="65.9" r="0.77" fill="#d08848" opacity="0.48"/><circle cx="228.1" cy="53.0" r="0.73" fill="#c8783c" opacity="0.48"/><circle cx="240.8" cy="74.0" r="0.54" fill="#c06c38" opacity="0.65"/><circle cx="246.7" cy="79.8" r="0.56" fill="#c06c38" opacity="0.72"/><circle cx="207.5" cy="83.8" r="0.75" fill="#d08848" opacity="0.83"/><circle cx="230.1" cy="68.9" r="0.43" fill="#b86430" opacity="0.43"/><circle cx="208.3" cy="40.3" r="0.71" fill="#c06c38" opacity="0.61"/><circle cx="266.8" cy="58.4" r="0.52" fill="#c06c38" opacity="0.55"/><circle cx="232.5" cy="69.5" r="0.78" fill="#d08848" opacity="0.65"/><circle cx="221.8" cy="51.5" r="0.72" fill="#b86430" opacity="0.82"/><circle cx="212.0" cy="37.4" r="0.43" fill="#c8783c" opacity="0.45"/><circle cx="242.0" cy="65.7" r="0.78" fill="#c06c38" opacity="0.47"/><circle cx="215.4" cy="47.5" r="0.60" fill="#b86430" opacity="0.76"/><circle cx="232.3" cy="42.8" r="0.41" fill="#b86430" opacity="0.73"/><circle cx="220.3" cy="78.1" r="0.69" fill="#c8783c" opacity="0.58"/><circle cx="233.3" cy="48.0" r="0.51" fill="#d08848" opacity="0.42"/><circle cx="222.1" cy="75.4" r="0.64" fill="#d08848" opacity="0.78"/><circle cx="225.8" cy="77.0" r="0.45" fill="#c8783c" opacity="0.73"/><circle cx="224.5" cy="79.6" r="0.79" fill="#c06c38" opacity="0.65"/><circle cx="231.0" cy="34.9" r="0.40" fill="#c06c38" opacity="0.59"/><circle cx="238.4" cy="46.2" r="0.56" fill="#c06c38" opacity="0.79"/><circle cx="251.6" cy="81.2" r="0.49" fill="#d08848" opacity="0.64"/><circle cx="244.3" cy="77.1" r="0.76" fill="#b86430" opacity="0.65"/><circle cx="249.3" cy="61.2" r="0.79" fill="#d08848" opacity="0.52"/><circle cx="212.0" cy="37.4" r="0.63" fill="#c06c38" opacity="0.50"/><circle cx="220.3" cy="56.6" r="0.71" fill="#d08848" opacity="0.55"/><circle cx="240.1" cy="56.2" r="0.62" fill="#c8783c" opacity="0.41"/><circle cx="236.6" cy="71.8" r="0.51" fill="#d08848" opacity="0.84"/><circle cx="254.4" cy="67.2" r="0.61" fill="#b86430" opacity="0.79"/><circle cx="239.8" cy="62.3" r="0.60" fill="#d08848" opacity="0.43"/><circle cx="231.7" cy="73.7" r="0.53" fill="#d08848" opacity="0.58"/><circle cx="214.5" cy="63.6" r="0.65" fill="#d08848" opacity="0.83"/><circle cx="273.9" cy="79.6" r="0.66" fill="#d08848" opacity="0.52"/><circle cx="252.1" cy="71.8" r="0.45" fill="#b86430" opacity="0.58"/><circle cx="254.5" cy="42.3" r="0.76" fill="#b86430" opacity="0.79"/><circle cx="209.5" cy="77.3" r="0.42" fill="#b86430" opacity="0.74"/><circle cx="211.6" cy="46.9" r="0.49" fill="#b86430" opacity="0.56"/><circle cx="218.1" cy="68.0" r="0.50" fill="#b86430" opacity="0.43"/><circle cx="250.5" cy="83.7" r="0.41" fill="#d08848" opacity="0.61"/><circle cx="240.8" cy="39.3" r="0.45" fill="#c8783c" opacity="0.45"/><circle cx="276.1" cy="65.1" r="0.68" fill="#c8783c" opacity="0.75"/><circle cx="237.2" cy="53.2" r="0.50" fill="#d08848" opacity="0.77"/><circle cx="229.5" cy="72.7" r="0.70" fill="#c06c38" opacity="0.65"/><circle cx="263.2" cy="74.1" r="0.57" fill="#d08848" opacity="0.57"/><circle cx="224.6" cy="75.9" r="0.45" fill="#b86430" opacity="0.80"/><circle cx="221.9" cy="73.2" r="0.49" fill="#d08848" opacity="0.55"/><circle cx="223.4" cy="65.9" r="0.72" fill="#c06c38" opacity="0.82"/><circle cx="214.4" cy="36.1" r="0.50" fill="#b86430" opacity="0.55"/><circle cx="262.7" cy="47.6" r="0.60" fill="#d08848" opacity="0.63"/><circle cx="269.9" cy="75.6" r="0.66" fill="#c8783c" opacity="0.59"/><circle cx="228.2" cy="74.9" r="0.72" fill="#d08848" opacity="0.73"/><circle cx="276.2" cy="36.8" r="0.44" fill="#c8783c" opacity="0.48"/><circle cx="249.1" cy="68.7" r="0.53" fill="#c06c38" opacity="0.54"/><circle cx="255.5" cy="61.8" r="0.41" fill="#c8783c" opacity="0.62"/><circle cx="241.5" cy="55.9" r="0.42" fill="#b86430" opacity="0.42"/><circle cx="243.7" cy="62.5" r="0.65" fill="#c8783c" opacity="0.78"/><circle cx="249.8" cy="81.2" r="0.74" fill="#c06c38" opacity="0.62"/><circle cx="236.5" cy="62.3" r="0.54" fill="#c06c38" opacity="0.53"/><circle cx="230.5" cy="75.4" r="0.80" fill="#c06c38" opacity="0.41"/><circle cx="246.2" cy="40.5" r="0.65" fill="#b86430" opacity="0.47"/><circle cx="221.0" cy="62.4" r="0.54" fill="#c8783c" opacity="0.46"/><circle cx="238.5" cy="53.3" r="0.46" fill="#c06c38" opacity="0.67"/><circle cx="208.7" cy="71.4" r="0.77" fill="#c8783c" opacity="0.69"/></g>
<line x1="268.60" y1="81.70" x2="273.10" y2="81.70" stroke="#444" stroke-width="1.1" />
<rect x="280.4" y="30.2" width="70.60" height="55.00" fill="#fbe7bc" filter="url(#tx1)"/>
<g filter="url(#bl2)" fill="#dc9c58" opacity="0.3"><circle cx="320.6" cy="41.4" r="2.4"/><circle cx="294.4" cy="73.2" r="1.6"/><circle cx="313.5" cy="59.5" r="2.3"/><circle cx="343.5" cy="48.2" r="2.3"/><circle cx="304.1" cy="81.2" r="2.4"/><circle cx="290.3" cy="59.5" r="1.6"/><circle cx="327.2" cy="71.2" r="2.3"/><circle cx="293.6" cy="38.7" r="2.6"/><circle cx="311.8" cy="79.9" r="3.0"/><circle cx="339.5" cy="79.6" r="2.8"/><circle cx="282.9" cy="68.0" r="2.7"/><circle cx="341.5" cy="77.7" r="2.2"/><circle cx="317.3" cy="67.9" r="1.7"/><circle cx="296.4" cy="73.2" r="1.8"/><circle cx="327.2" cy="59.1" r="1.9"/><circle cx="308.1" cy="78.7" r="1.8"/><circle cx="318.1" cy="46.6" r="1.9"/><circle cx="348.3" cy="70.8" r="2.7"/><circle cx="317.5" cy="53.3" r="1.7"/><circle cx="303.5" cy="38.3" r="2.2"/><circle cx="301.6" cy="46.8" r="2.7"/><circle cx="316.5" cy="75.0" r="2.4"/><circle cx="312.6" cy="78.7" r="3.0"/><circle cx="323.5" cy="33.6" r="2.1"/><circle cx="325.3" cy="81.7" r="3.0"/><circle cx="305.7" cy="42.5" r="2.1"/><circle cx="334.3" cy="81.1" r="2.3"/><circle cx="325.6" cy="82.9" r="2.5"/><circle cx="309.5" cy="74.5" r="2.8"/><circle cx="345.5" cy="34.0" r="2.1"/><circle cx="289.1" cy="43.7" r="2.6"/><circle cx="316.3" cy="60.8" r="2.9"/><circle cx="297.2" cy="51.7" r="2.6"/><circle cx="343.6" cy="36.3" r="2.1"/><circle cx="340.7" cy="45.9" r="2.3"/><circle cx="303.7" cy="55.5" r="3.0"/><circle cx="312.1" cy="48.9" r="2.4"/><circle cx="348.2" cy="69.1" r="2.8"/><circle cx="326.2" cy="31.6" r="1.9"/><circle cx="328.7" cy="75.3" r="3.0"/><circle cx="308.8" cy="68.0" r="2.2"/><circle cx="312.6" cy="83.3" r="2.2"/><circle cx="328.7" cy="39.3" r="1.9"/><circle cx="283.2" cy="84.4" r="2.2"/><circle cx="309.4" cy="50.5" r="2.2"/><circle cx="290.8" cy="30.9" r="1.8"/><circle cx="309.5" cy="64.8" r="2.8"/><circle cx="286.2" cy="72.0" r="2.8"/><circle cx="294.1" cy="42.2" r="1.8"/><circle cx="303.2" cy="72.0" r="2.6"/><circle cx="313.1" cy="79.8" r="2.7"/><circle cx="297.3" cy="53.5" r="2.9"/><circle cx="325.4" cy="66.8" r="1.9"/><circle cx="327.3" cy="48.8" r="1.9"/><circle cx="313.2" cy="83.5" r="1.8"/><circle cx="311.4" cy="33.6" r="2.4"/><circle cx="321.5" cy="43.1" r="1.7"/><circle cx="283.4" cy="63.4" r="2.6"/><circle cx="311.4" cy="77.5" r="1.9"/><circle cx="317.2" cy="79.1" r="2.8"/><circle cx="313.6" cy="80.3" r="2.8"/><circle cx="323.9" cy="53.5" r="2.2"/><circle cx="305.6" cy="64.7" r="2.8"/><circle cx="308.8" cy="39.9" r="2.2"/><circle cx="314.8" cy="54.5" r="2.3"/><circle cx="290.8" cy="30.9" r="2.4"/><circle cx="336.3" cy="60.9" r="2.6"/><circle cx="289.6" cy="82.8" r="2.5"/><circle cx="289.0" cy="64.7" r="2.7"/><circle cx="338.5" cy="68.8" r="1.9"/><circle cx="298.1" cy="73.3" r="2.8"/></g>
<g filter="url(#bl)" stroke-linecap="round" fill="none"><path d="M321.3,41.5L320.4,39.5M321.3,41.5L322.3,43.1" stroke="#cc7636" stroke-width="0.83" opacity="0.61"/><circle cx="321.3" cy="41.5" r="0.65" fill="#cc7636" stroke="none" opacity="0.61"/><path d="M294.5,72.9L294.9,75.7M294.5,72.9L293.4,70.6M294.5,72.9L296.5,73.4" stroke="#ac5826" stroke-width="0.62" opacity="0.59"/><circle cx="294.5" cy="72.9" r="0.63" fill="#ac5826" stroke="none" opacity="0.59"/><path d="M313.2,59.6L312.0,59.6M313.2,59.6L313.9,58.4M313.2,59.6L314.6,61.8" stroke="#c4682e" stroke-width="0.73" opacity="0.57"/><circle cx="313.2" cy="59.6" r="0.75" fill="#c4682e" stroke="none" opacity="0.57"/><path d="M328.8,67.4L331.7,67.7M328.8,67.4L330.7,69.3M328.8,67.4L326.0,67.4M328.8,67.4L328.8,65.9" stroke="#c4682e" stroke-width="0.80" opacity="0.43"/><circle cx="328.8" cy="67.4" r="0.56" fill="#c4682e" stroke="none" opacity="0.43"/><path d="M342.1,49.1L344.9,49.4M342.1,49.1L340.9,51.9M342.1,49.1L341.4,47.7" stroke="#d07e40" stroke-width="0.95" opacity="0.65"/><circle cx="342.1" cy="49.1" r="0.54" fill="#d07e40" stroke="none" opacity="0.65"/><path d="M343.2,48.1L342.6,46.1M343.2,48.1L344.9,50.3" stroke="#bc6832" stroke-width="0.66" opacity="0.84"/><circle cx="343.2" cy="48.1" r="0.58" fill="#bc6832" stroke="none" opacity="0.84"/><path d="M304.3,80.9L305.7,80.9M304.3,80.9L304.5,82.3M304.3,80.9L302.4,80.6M304.3,80.9L305.0,78.4" stroke="#bc6832" stroke-width="0.74" opacity="0.56"/><circle cx="304.3" cy="80.9" r="0.74" fill="#bc6832" stroke="none" opacity="0.56"/><path d="M290.1,60.1L289.4,62.7M290.1,60.1L287.8,60.3M290.1,60.1L291.7,57.6" stroke="#bc6832" stroke-width="0.69" opacity="0.54"/><circle cx="290.1" cy="60.1" r="0.65" fill="#bc6832" stroke="none" opacity="0.54"/><path d="M327.2,72.0L329.1,73.5M327.2,72.0L325.8,72.3" stroke="#ac5826" stroke-width="0.90" opacity="0.74"/><circle cx="327.2" cy="72.0" r="0.72" fill="#ac5826" stroke="none" opacity="0.74"/><path d="M348.3,37.0L350.5,37.4M348.3,37.0L345.7,38.4" stroke="#cc7636" stroke-width="0.88" opacity="0.50"/><circle cx="348.3" cy="37.0" r="0.77" fill="#cc7636" stroke="none" opacity="0.50"/><path d="M294.6,38.5L292.3,39.1M294.6,38.5L295.6,36.9M294.6,38.5L297.1,40.1M294.6,38.5L294.2,40.6" stroke="#d07e40" stroke-width="0.88" opacity="0.82"/><circle cx="294.6" cy="38.5" r="0.55" fill="#d07e40" stroke="none" opacity="0.82"/><path d="M309.0,38.3L309.1,40.9M309.0,38.3L309.4,36.0" stroke="#cc7636" stroke-width="0.62" opacity="0.71"/><circle cx="309.0" cy="38.3" r="0.55" fill="#cc7636" stroke="none" opacity="0.71"/><path d="M304.2,32.9L302.4,31.7M304.2,32.9L305.9,33.4" stroke="#b8602a" stroke-width="0.67" opacity="0.61"/><circle cx="304.2" cy="32.9" r="0.51" fill="#b8602a" stroke="none" opacity="0.61"/><path d="M304.0,33.2L302.9,35.7M304.0,33.2L305.3,31.2" stroke="#cc7636" stroke-width="0.91" opacity="0.42"/><circle cx="304.0" cy="33.2" r="0.77" fill="#cc7636" stroke="none" opacity="0.42"/><path d="M312.8,80.7L310.9,78.5M312.8,80.7L315.6,82.1" stroke="#c4682e" stroke-width="0.71" opacity="0.60"/><circle cx="312.8" cy="80.7" r="0.52" fill="#c4682e" stroke="none" opacity="0.60"/><path d="M338.7,79.8L337.0,81.8M338.7,79.8L337.6,78.4M338.7,79.8L341.0,78.4" stroke="#bc6832" stroke-width="0.86" opacity="0.70"/><circle cx="338.7" cy="79.8" r="0.68" fill="#bc6832" stroke="none" opacity="0.70"/><path d="M282.1,68.1L283.3,67.2M282.1,68.1L282.0,69.4M282.1,68.1L280.9,67.5" stroke="#bc6832" stroke-width="0.70" opacity="0.57"/><circle cx="282.1" cy="68.1" r="0.53" fill="#bc6832" stroke="none" opacity="0.57"/><path d="M338.4,39.9L336.6,38.8M338.4,39.9L338.6,38.4M338.4,39.9L340.1,40.8M338.4,39.9L337.5,41.0" stroke="#b8602a" stroke-width="0.90" opacity="0.79"/><circle cx="338.4" cy="39.9" r="0.56" fill="#b8602a" stroke="none" opacity="0.79"/><path d="M317.7,62.0L318.9,63.0M317.7,62.0L316.8,59.8" stroke="#b8602a" stroke-width="0.86" opacity="0.65"/><circle cx="317.7" cy="62.0" r="0.67" fill="#b8602a" stroke="none" opacity="0.65"/><path d="M314.4,34.4L315.9,34.1M314.4,34.4L311.5,35.2" stroke="#c4682e" stroke-width="0.66" opacity="0.66"/><circle cx="314.4" cy="34.4" r="0.56" fill="#c4682e" stroke="none" opacity="0.66"/><path d="M303.4,72.2L302.5,73.7M303.4,72.2L301.0,70.2M303.4,72.2L304.7,72.9" stroke="#cc7636" stroke-width="0.90" opacity="0.82"/><circle cx="303.4" cy="72.2" r="0.82" fill="#cc7636" stroke="none" opacity="0.82"/><path d="M342.3,77.5L344.5,78.8M342.3,77.5L340.9,74.9" stroke="#ac5826" stroke-width="0.80" opacity="0.62"/><circle cx="342.3" cy="77.5" r="0.50" fill="#ac5826" stroke="none" opacity="0.62"/><path d="M328.5,42.1L331.0,40.0M328.5,42.1L326.2,43.5" stroke="#bc6832" stroke-width="0.87" opacity="0.77"/><circle cx="328.5" cy="42.1" r="0.72" fill="#bc6832" stroke="none" opacity="0.77"/><path d="M317.7,68.3L316.2,66.7M317.7,68.3L319.0,66.1M317.7,68.3L319.6,70.6M317.7,68.3L315.8,68.8" stroke="#cc7636" stroke-width="0.77" opacity="0.48"/><circle cx="317.7" cy="68.3" r="0.51" fill="#cc7636" stroke="none" opacity="0.48"/><path d="M296.7,73.5L293.8,74.1M296.7,73.5L295.7,71.1M296.7,73.5L299.1,73.3M296.7,73.5L295.3,75.5" stroke="#d07e40" stroke-width="0.94" opacity="0.49"/><circle cx="296.7" cy="73.5" r="0.73" fill="#d07e40" stroke="none" opacity="0.49"/><path d="M327.5,58.7L330.0,57.6M327.5,58.7L326.5,59.6M327.5,58.7L326.9,56.9" stroke="#ac5826" stroke-width="0.61" opacity="0.85"/><circle cx="327.5" cy="58.7" r="0.61" fill="#ac5826" stroke="none" opacity="0.85"/><path d="M308.9,78.7L308.6,81.4M308.9,78.7L308.2,77.2" stroke="#cc7636" stroke-width="0.62" opacity="0.73"/><circle cx="308.9" cy="78.7" r="0.51" fill="#cc7636" stroke="none" opacity="0.73"/><path d="M317.5,46.1L314.7,47.5M317.5,46.1L315.3,44.5M317.5,46.1L319.8,46.7" stroke="#ac5826" stroke-width="0.66" opacity="0.43"/><circle cx="317.5" cy="46.1" r="0.75" fill="#ac5826" stroke="none" opacity="0.43"/><path d="M347.7,70.1L348.7,67.3M347.7,70.1L349.0,69.3M347.7,70.1L348.9,71.6M347.7,70.1L345.8,70.6" stroke="#c4682e" stroke-width="0.75" opacity="0.70"/><circle cx="347.7" cy="70.1" r="0.79" fill="#c4682e" stroke="none" opacity="0.70"/><path d="M316.6,52.9L315.0,51.2M316.6,52.9L317.4,54.1" stroke="#ac5826" stroke-width="0.83" opacity="0.70"/><circle cx="316.6" cy="52.9" r="0.54" fill="#ac5826" stroke="none" opacity="0.70"/><path d="M281.8,47.6L280.9,46.0M281.8,47.6L282.9,48.6" stroke="#ac5826" stroke-width="0.62" opacity="0.44"/><circle cx="281.8" cy="47.6" r="0.79" fill="#ac5826" stroke="none" opacity="0.44"/><path d="M339.8,71.9L342.1,71.0M339.8,71.9L339.8,74.8M339.8,71.9L338.5,72.3" stroke="#cc7636" stroke-width="0.81" opacity="0.48"/><circle cx="339.8" cy="71.9" r="0.81" fill="#cc7636" stroke="none" opacity="0.48"/><path d="M340.3,46.3L341.7,47.3M340.3,46.3L337.9,47.6M340.3,46.3L339.0,45.6M340.3,46.3L341.3,44.5" stroke="#c4682e" stroke-width="0.65" opacity="0.80"/><circle cx="340.3" cy="46.3" r="0.71" fill="#c4682e" stroke="none" opacity="0.80"/><path d="M303.4,39.0L302.2,38.1M303.4,39.0L304.7,40.0" stroke="#ac5826" stroke-width="0.69" opacity="0.83"/><circle cx="303.4" cy="39.0" r="0.67" fill="#ac5826" stroke="none" opacity="0.83"/><path d="M300.6,45.9L302.2,46.0M300.6,45.9L301.1,47.8M300.6,45.9L298.7,44.1" stroke="#ac5826" stroke-width="0.81" opacity="0.55"/><circle cx="300.6" cy="45.9" r="0.71" fill="#ac5826" stroke="none" opacity="0.55"/><path d="M298.7,71.9L297.1,69.3M298.7,71.9L299.7,71.1M298.7,71.9L299.9,74.1M298.7,71.9L295.9,72.4" stroke="#bc6832" stroke-width="0.68" opacity="0.56"/><circle cx="298.7" cy="71.9" r="0.74" fill="#bc6832" stroke="none" opacity="0.56"/><path d="M346.1,34.7L347.3,35.3M346.1,34.7L344.9,36.3M346.1,34.7L343.4,33.8M346.1,34.7L347.3,32.9" stroke="#cc7636" stroke-width="0.80" opacity="0.72"/><circle cx="346.1" cy="34.7" r="0.58" fill="#cc7636" stroke="none" opacity="0.72"/><path d="M345.3,53.0L343.7,51.2M345.3,53.0L345.9,50.0M345.3,53.0L348.4,53.0M345.3,53.0L344.3,54.4" stroke="#cc7636" stroke-width="0.94" opacity="0.65"/><circle cx="345.3" cy="53.0" r="0.85" fill="#cc7636" stroke="none" opacity="0.65"/><path d="M316.3,74.1L315.9,71.9M316.3,74.1L318.1,73.7M316.3,74.1L314.2,75.5" stroke="#cc7636" stroke-width="0.71" opacity="0.59"/><circle cx="316.3" cy="74.1" r="0.77" fill="#cc7636" stroke="none" opacity="0.59"/><path d="M326.1,83.8L328.3,83.1M326.1,83.8L326.5,84.7M326.1,83.8L323.5,83.5" stroke="#bc6832" stroke-width="0.94" opacity="0.74"/><circle cx="326.1" cy="83.8" r="0.58" fill="#bc6832" stroke="none" opacity="0.74"/><path d="M312.6,78.7L313.7,76.7M312.6,78.7L314.7,81.1M312.6,78.7L310.7,79.1" stroke="#ac5826" stroke-width="0.79" opacity="0.57"/><circle cx="312.6" cy="78.7" r="0.70" fill="#ac5826" stroke="none" opacity="0.57"/><path d="M286.8,68.5L288.1,69.5M286.8,68.5L285.1,68.4" stroke="#c4682e" stroke-width="0.68" opacity="0.50"/><circle cx="286.8" cy="68.5" r="0.67" fill="#c4682e" stroke="none" opacity="0.50"/><path d="M298.8,77.1L295.9,76.0M298.8,77.1L300.8,77.9" stroke="#cc7636" stroke-width="0.80" opacity="0.42"/><circle cx="298.8" cy="77.1" r="0.74" fill="#cc7636" stroke="none" opacity="0.42"/><path d="M324.2,33.7L327.3,33.1M324.2,33.7L323.5,36.4M324.2,33.7L322.5,34.1M324.2,33.7L323.1,32.4" stroke="#d07e40" stroke-width="0.85" opacity="0.48"/><circle cx="324.2" cy="33.7" r="0.67" fill="#d07e40" stroke="none" opacity="0.48"/><path d="M325.6,80.8L324.7,78.7M325.6,80.8L325.9,79.5M325.6,80.8L327.1,82.3M325.6,80.8L325.5,82.7" stroke="#cc7636" stroke-width="0.78" opacity="0.68"/><circle cx="325.6" cy="80.8" r="0.78" fill="#cc7636" stroke="none" opacity="0.68"/><path d="M304.7,42.5L304.8,43.8M304.7,42.5L303.0,43.2M304.7,42.5L305.0,39.8M304.7,42.5L306.8,41.2" stroke="#ac5826" stroke-width="0.86" opacity="0.67"/><circle cx="304.7" cy="42.5" r="0.56" fill="#ac5826" stroke="none" opacity="0.67"/><path d="M321.4,38.0L322.4,38.8M321.4,38.0L320.6,39.7M321.4,38.0L319.5,36.8M321.4,38.0L323.7,37.3" stroke="#b8602a" stroke-width="0.60" opacity="0.59"/><circle cx="321.4" cy="38.0" r="0.66" fill="#b8602a" stroke="none" opacity="0.59"/><path d="M312.6,68.3L312.6,66.4M312.6,68.3L314.9,67.4M312.6,68.3L312.2,70.2" stroke="#bc6832" stroke-width="0.80" opacity="0.44"/><circle cx="312.6" cy="68.3" r="0.78" fill="#bc6832" stroke="none" opacity="0.44"/><path d="M333.6,80.5L334.3,77.9M333.6,80.5L335.8,81.4M333.6,80.5L331.0,80.3" stroke="#c4682e" stroke-width="0.89" opacity="0.84"/><circle cx="333.6" cy="80.5" r="0.56" fill="#c4682e" stroke="none" opacity="0.84"/><path d="M325.9,82.8L327.6,84.7M325.9,82.8L324.4,84.1M325.9,82.8L323.2,81.3M325.9,82.8L326.2,81.4" stroke="#bc6832" stroke-width="0.70" opacity="0.51"/><circle cx="325.9" cy="82.8" r="0.76" fill="#bc6832" stroke="none" opacity="0.51"/><path d="M299.0,65.0L298.5,67.5M299.0,65.0L297.5,63.8M299.0,65.0L301.0,64.1" stroke="#c4682e" stroke-width="0.93" opacity="0.61"/><circle cx="299.0" cy="65.0" r="0.65" fill="#c4682e" stroke="none" opacity="0.61"/><path d="M311.2,76.6L310.8,78.1M311.2,76.6L309.8,76.7M311.2,76.6L310.1,73.8M311.2,76.6L313.0,74.9" stroke="#c4682e" stroke-width="0.69" opacity="0.54"/><circle cx="311.2" cy="76.6" r="0.82" fill="#c4682e" stroke="none" opacity="0.54"/><path d="M310.5,74.5L309.6,71.6M310.5,74.5L312.2,73.9M310.5,74.5L309.4,76.0" stroke="#c4682e" stroke-width="0.84" opacity="0.79"/><circle cx="310.5" cy="74.5" r="0.71" fill="#c4682e" stroke="none" opacity="0.79"/><path d="M346.3,34.9L346.8,36.3M346.3,34.9L345.4,32.8" stroke="#cc7636" stroke-width="0.87" opacity="0.51"/><circle cx="346.3" cy="34.9" r="0.65" fill="#cc7636" stroke="none" opacity="0.51"/><path d="M289.7,43.8L291.0,43.3M289.7,43.8L290.8,45.2M289.7,43.8L288.4,42.6" stroke="#d07e40" stroke-width="0.85" opacity="0.54"/><circle cx="289.7" cy="43.8" r="0.52" fill="#d07e40" stroke="none" opacity="0.54"/><path d="M315.9,59.9L318.6,58.4M315.9,59.9L314.3,59.8" stroke="#bc6832" stroke-width="0.78" opacity="0.82"/><circle cx="315.9" cy="59.9" r="0.78" fill="#bc6832" stroke="none" opacity="0.82"/><path d="M298.2,50.9L299.4,49.3M298.2,50.9L297.0,53.8" stroke="#ac5826" stroke-width="0.77" opacity="0.62"/><circle cx="298.2" cy="50.9" r="0.53" fill="#ac5826" stroke="none" opacity="0.62"/><path d="M343.5,35.9L342.1,33.7M343.5,35.9L343.9,37.2" stroke="#c4682e" stroke-width="0.68" opacity="0.49"/><circle cx="343.5" cy="35.9" r="0.51" fill="#c4682e" stroke="none" opacity="0.49"/><path d="M327.9,79.5L326.9,78.2M327.9,79.5L329.0,80.6" stroke="#b8602a" stroke-width="0.74" opacity="0.73"/><circle cx="327.9" cy="79.5" r="0.71" fill="#b8602a" stroke="none" opacity="0.73"/><path d="M341.3,45.9L338.5,46.8M341.3,45.9L343.1,44.9" stroke="#b8602a" stroke-width="0.75" opacity="0.81"/><circle cx="341.3" cy="45.9" r="0.61" fill="#b8602a" stroke="none" opacity="0.81"/><path d="M304.5,56.4L306.6,54.4M304.5,56.4L302.7,58.9M304.5,56.4L302.9,55.8" stroke="#c4682e" stroke-width="0.64" opacity="0.79"/><circle cx="304.5" cy="56.4" r="0.76" fill="#c4682e" stroke="none" opacity="0.79"/><path d="M306.8,71.4L306.8,69.1M306.8,71.4L307.1,72.9" stroke="#bc6832" stroke-width="0.80" opacity="0.77"/><circle cx="306.8" cy="71.4" r="0.60" fill="#bc6832" stroke="none" opacity="0.77"/><path d="M297.0,45.4L295.0,46.5M297.0,45.4L296.8,43.2M297.0,45.4L298.3,44.2M297.0,45.4L297.8,46.9" stroke="#d07e40" stroke-width="0.67" opacity="0.52"/><circle cx="297.0" cy="45.4" r="0.82" fill="#d07e40" stroke="none" opacity="0.52"/><path d="M323.5,34.2L322.9,33.0M323.5,34.2L326.4,35.4M323.5,34.2L320.9,35.3" stroke="#b8602a" stroke-width="0.73" opacity="0.71"/><circle cx="323.5" cy="34.2" r="0.54" fill="#b8602a" stroke="none" opacity="0.71"/><path d="M345.7,55.8L342.8,57.0M345.7,55.8L345.4,54.3M345.7,55.8L347.8,58.1" stroke="#b8602a" stroke-width="0.76" opacity="0.78"/><circle cx="345.7" cy="55.8" r="0.64" fill="#b8602a" stroke="none" opacity="0.78"/><path d="M312.6,48.5L314.0,48.2M312.6,48.5L310.7,47.9" stroke="#cc7636" stroke-width="0.67" opacity="0.58"/><circle cx="312.6" cy="48.5" r="0.84" fill="#cc7636" stroke="none" opacity="0.58"/><path d="M348.1,68.9L347.7,70.7M348.1,68.9L346.3,68.2M348.1,68.9L349.4,68.2" stroke="#b8602a" stroke-width="0.79" opacity="0.80"/><circle cx="348.1" cy="68.9" r="0.63" fill="#b8602a" stroke="none" opacity="0.80"/><path d="M326.9,31.4L329.1,30.7M326.9,31.4L329.1,31.4M326.9,31.4L325.5,33.3M326.9,31.4L325.6,31.1" stroke="#c4682e" stroke-width="0.68" opacity="0.82"/><circle cx="326.9" cy="31.4" r="0.78" fill="#c4682e" stroke="none" opacity="0.82"/><path d="M328.7,75.3L326.2,74.3M328.7,75.3L331.5,74.6M328.7,75.3L329.6,77.8M328.7,75.3L326.8,76.0" stroke="#d07e40" stroke-width="0.81" opacity="0.71"/><circle cx="328.7" cy="75.3" r="0.52" fill="#d07e40" stroke="none" opacity="0.71"/><path d="M301.4,51.2L300.0,52.3M301.4,51.2L303.2,50.8" stroke="#ac5826" stroke-width="0.80" opacity="0.79"/><circle cx="301.4" cy="51.2" r="0.84" fill="#ac5826" stroke="none" opacity="0.79"/><path d="M308.3,67.9L308.9,70.2M308.3,67.9L306.8,68.6M308.3,67.9L308.2,65.8M308.3,67.9L310.4,67.2" stroke="#b8602a" stroke-width="0.92" opacity="0.71"/><circle cx="308.3" cy="67.9" r="0.60" fill="#b8602a" stroke="none" opacity="0.71"/><path d="M312.7,82.4L313.5,84.7M312.7,82.4L310.5,81.0" stroke="#bc6832" stroke-width="0.78" opacity="0.59"/><circle cx="312.7" cy="82.4" r="0.54" fill="#bc6832" stroke="none" opacity="0.59"/><path d="M326.5,69.5L328.2,71.7M326.5,69.5L324.6,70.0M326.5,69.5L325.9,68.2M326.5,69.5L328.3,69.2" stroke="#cc7636" stroke-width="0.73" opacity="0.46"/><circle cx="326.5" cy="69.5" r="0.52" fill="#cc7636" stroke="none" opacity="0.46"/><path d="M328.2,39.4L330.4,40.2M328.2,39.4L326.7,41.8M328.2,39.4L326.8,37.8" stroke="#c4682e" stroke-width="0.73" opacity="0.51"/><circle cx="328.2" cy="39.4" r="0.62" fill="#c4682e" stroke="none" opacity="0.51"/><path d="M282.5,83.8L280.9,84.7M282.5,83.8L281.5,81.1M282.5,83.8L284.1,84.4" stroke="#cc7636" stroke-width="0.65" opacity="0.83"/><circle cx="282.5" cy="83.8" r="0.51" fill="#cc7636" stroke="none" opacity="0.83"/><path d="M308.9,50.2L307.4,52.0M308.9,50.2L308.1,49.2M308.9,50.2L311.5,49.4" stroke="#ac5826" stroke-width="0.94" opacity="0.85"/><circle cx="308.9" cy="50.2" r="0.56" fill="#ac5826" stroke="none" opacity="0.85"/><path d="M290.7,79.1L292.7,77.3M290.7,79.1L292.0,81.3M290.7,79.1L289.1,78.8" stroke="#b8602a" stroke-width="0.83" opacity="0.78"/><circle cx="290.7" cy="79.1" r="0.75" fill="#b8602a" stroke="none" opacity="0.78"/><path d="M318.8,72.8L321.3,72.1M318.8,72.8L317.3,72.7" stroke="#cc7636" stroke-width="0.75" opacity="0.78"/><circle cx="318.8" cy="72.8" r="0.62" fill="#cc7636" stroke="none" opacity="0.78"/><path d="M289.9,31.4L290.9,30.7M289.9,31.4L292.0,31.1M289.9,31.4L288.1,33.8M289.9,31.4L287.5,30.8" stroke="#d07e40" stroke-width="0.72" opacity="0.62"/><circle cx="289.9" cy="31.4" r="0.74" fill="#d07e40" stroke="none" opacity="0.62"/><path d="M309.8,64.8L311.2,63.2M309.8,64.8L311.0,67.7M309.8,64.8L307.6,64.8" stroke="#cc7636" stroke-width="0.61" opacity="0.53"/><circle cx="309.8" cy="64.8" r="0.74" fill="#cc7636" stroke="none" opacity="0.53"/><path d="M300.0,35.9L298.1,34.1M300.0,35.9L301.2,35.5M300.0,35.9L301.5,37.8" stroke="#b8602a" stroke-width="0.72" opacity="0.44"/><circle cx="300.0" cy="35.9" r="0.77" fill="#b8602a" stroke="none" opacity="0.44"/><path d="M286.7,72.2L283.9,71.6M286.7,72.2L287.6,71.3M286.7,72.2L287.5,73.8M286.7,72.2L286.6,74.8" stroke="#b8602a" stroke-width="0.62" opacity="0.77"/><circle cx="286.7" cy="72.2" r="0.70" fill="#b8602a" stroke="none" opacity="0.77"/><path d="M293.3,42.3L291.8,43.4M293.3,42.3L295.9,41.7" stroke="#cc7636" stroke-width="0.83" opacity="0.46"/><circle cx="293.3" cy="42.3" r="0.82" fill="#cc7636" stroke="none" opacity="0.46"/><path d="M304.0,44.3L306.0,43.0M304.0,44.3L302.7,45.3" stroke="#c4682e" stroke-width="0.91" opacity="0.51"/><circle cx="304.0" cy="44.3" r="0.81" fill="#c4682e" stroke="none" opacity="0.51"/><path d="M329.7,67.1L329.6,70.1M329.7,67.1L330.7,65.6" stroke="#bc6832" stroke-width="0.87" opacity="0.51"/><circle cx="329.7" cy="67.1" r="0.76" fill="#bc6832" stroke="none" opacity="0.51"/><path d="M302.9,71.3L300.5,70.9M302.9,71.3L304.9,71.5" stroke="#c4682e" stroke-width="0.94" opacity="0.58"/><circle cx="302.9" cy="71.3" r="0.65" fill="#c4682e" stroke="none" opacity="0.58"/><path d="M282.7,49.1L285.4,50.6M282.7,49.1L281.8,51.7M282.7,49.1L281.9,46.4M282.7,49.1L284.0,46.4" stroke="#cc7636" stroke-width="0.70" opacity="0.46"/><circle cx="282.7" cy="49.1" r="0.84" fill="#cc7636" stroke="none" opacity="0.46"/><path d="M311.6,32.3L309.0,30.7M311.6,32.3L312.5,30.7M311.6,32.3L311.7,33.6" stroke="#c4682e" stroke-width="0.66" opacity="0.84"/><circle cx="311.6" cy="32.3" r="0.58" fill="#c4682e" stroke="none" opacity="0.84"/><path d="M312.7,80.3L314.0,79.0M312.7,80.3L314.2,82.9M312.7,80.3L310.5,81.3M312.7,80.3L310.3,79.0" stroke="#b8602a" stroke-width="0.85" opacity="0.81"/><circle cx="312.7" cy="80.3" r="0.55" fill="#b8602a" stroke="none" opacity="0.81"/><path d="M296.9,54.4L297.9,53.1M296.9,54.4L295.7,55.5" stroke="#c4682e" stroke-width="0.90" opacity="0.62"/><circle cx="296.9" cy="54.4" r="0.52" fill="#c4682e" stroke="none" opacity="0.62"/><path d="M325.0,67.7L323.8,67.5M325.0,67.7L327.6,67.8M325.0,67.7L324.7,70.0" stroke="#d07e40" stroke-width="0.79" opacity="0.58"/><circle cx="325.0" cy="67.7" r="0.66" fill="#d07e40" stroke="none" opacity="0.58"/><path d="M314.0,52.8L316.2,54.4M314.0,52.8L312.7,55.0M314.0,52.8L312.1,50.4M314.0,52.8L315.2,51.9" stroke="#ac5826" stroke-width="0.78" opacity="0.60"/><circle cx="314.0" cy="52.8" r="0.69" fill="#ac5826" stroke="none" opacity="0.60"/><path d="M296.7,60.8L295.7,59.8M296.7,60.8L298.1,60.6M296.7,60.8L294.6,63.1" stroke="#bc6832" stroke-width="0.75" opacity="0.78"/><circle cx="296.7" cy="60.8" r="0.73" fill="#bc6832" stroke="none" opacity="0.78"/><path d="M327.8,48.7L327.5,51.3M327.8,48.7L327.3,46.7" stroke="#bc6832" stroke-width="0.89" opacity="0.47"/><circle cx="327.8" cy="48.7" r="0.82" fill="#bc6832" stroke="none" opacity="0.47"/><path d="M313.7,82.6L312.3,82.9M313.7,82.6L313.6,80.2M313.7,82.6L315.9,82.7M313.7,82.6L314.1,84.6" stroke="#bc6832" stroke-width="0.84" opacity="0.64"/><circle cx="313.7" cy="82.6" r="0.84" fill="#bc6832" stroke="none" opacity="0.64"/><path d="M329.7,44.3L328.0,46.9M329.7,44.3L328.5,41.7M329.7,44.3L330.8,45.4" stroke="#bc6832" stroke-width="0.62" opacity="0.52"/><circle cx="329.7" cy="44.3" r="0.65" fill="#bc6832" stroke="none" opacity="0.52"/><path d="M311.3,33.0L312.4,31.6M311.3,33.0L312.8,33.9M311.3,33.0L311.6,35.3M311.3,33.0L309.7,31.6" stroke="#ac5826" stroke-width="0.72" opacity="0.77"/><circle cx="311.3" cy="33.0" r="0.74" fill="#ac5826" stroke="none" opacity="0.77"/><path d="M321.4,42.5L320.6,41.0M321.4,42.5L324.0,41.5M321.4,42.5L321.3,44.9" stroke="#bc6832" stroke-width="0.71" opacity="0.56"/><circle cx="321.4" cy="42.5" r="0.70" fill="#bc6832" stroke="none" opacity="0.56"/><path d="M283.3,63.2L283.6,61.2M283.3,63.2L285.1,64.8M283.3,63.2L280.9,64.0" stroke="#d07e40" stroke-width="0.80" opacity="0.45"/><circle cx="283.3" cy="63.2" r="0.76" fill="#d07e40" stroke="none" opacity="0.45"/><path d="M312.2,77.1L309.9,76.7M312.2,77.1L313.4,76.4M312.2,77.1L313.4,78.7" stroke="#cc7636" stroke-width="0.73" opacity="0.44"/><circle cx="312.2" cy="77.1" r="0.81" fill="#cc7636" stroke="none" opacity="0.44"/><path d="M289.2,83.1L290.2,84.1M289.2,83.1L288.5,84.7M289.2,83.1L290.1,80.6" stroke="#c4682e" stroke-width="0.95" opacity="0.45"/><circle cx="289.2" cy="83.1" r="0.60" fill="#c4682e" stroke="none" opacity="0.45"/><path d="M316.4,65.2L317.3,64.2M316.4,65.2L316.4,66.5" stroke="#c4682e" stroke-width="0.90" opacity="0.48"/><circle cx="316.4" cy="65.2" r="0.77" fill="#c4682e" stroke="none" opacity="0.48"/><path d="M321.3,62.9L320.3,64.6M321.3,62.9L319.6,62.5M321.3,62.9L321.3,61.6M321.3,62.9L322.1,64.4" stroke="#cc7636" stroke-width="0.65" opacity="0.80"/><circle cx="321.3" cy="62.9" r="0.72" fill="#cc7636" stroke="none" opacity="0.80"/><path d="M316.9,80.1L317.7,82.2M316.9,80.1L315.9,82.3M316.9,80.1L315.1,79.5M316.9,80.1L319.1,79.2" stroke="#b8602a" stroke-width="0.61" opacity="0.51"/><circle cx="316.9" cy="80.1" r="0.72" fill="#b8602a" stroke="none" opacity="0.51"/><path d="M309.6,63.9L309.0,61.5M309.6,63.9L311.2,64.9M309.6,63.9L307.9,64.3" stroke="#c4682e" stroke-width="0.71" opacity="0.52"/><circle cx="309.6" cy="63.9" r="0.76" fill="#c4682e" stroke="none" opacity="0.52"/><path d="M314.4,79.7L317.6,79.8M314.4,79.7L311.5,80.9" stroke="#ac5826" stroke-width="0.69" opacity="0.75"/><circle cx="314.4" cy="79.7" r="0.85" fill="#ac5826" stroke="none" opacity="0.75"/><path d="M324.7,53.8L327.7,54.6M324.7,53.8L322.1,54.1M324.7,53.8L325.8,52.1" stroke="#b8602a" stroke-width="0.70" opacity="0.74"/><circle cx="324.7" cy="53.8" r="0.59" fill="#b8602a" stroke="none" opacity="0.74"/><path d="M306.1,65.6L305.7,64.3M306.1,65.6L306.9,67.6" stroke="#d07e40" stroke-width="0.69" opacity="0.81"/><circle cx="306.1" cy="65.6" r="0.51" fill="#d07e40" stroke="none" opacity="0.81"/><path d="M308.7,39.0L307.5,38.8M308.7,39.0L311.2,40.8" stroke="#b8602a" stroke-width="0.92" opacity="0.55"/><circle cx="308.7" cy="39.0" r="0.63" fill="#b8602a" stroke="none" opacity="0.55"/><path d="M315.2,55.4L312.7,55.3M315.2,55.4L316.4,53.4M315.2,55.4L317.5,57.0M315.2,55.4L312.8,56.9" stroke="#c4682e" stroke-width="0.68" opacity="0.55"/><circle cx="315.2" cy="55.4" r="0.68" fill="#c4682e" stroke="none" opacity="0.55"/><path d="M290.3,31.7L289.0,31.5M290.3,31.7L290.4,30.7M290.3,31.7L292.3,32.6" stroke="#d07e40" stroke-width="0.79" opacity="0.44"/><circle cx="290.3" cy="31.7" r="0.77" fill="#d07e40" stroke="none" opacity="0.44"/><path d="M336.1,61.0L335.5,63.0M336.1,61.0L334.8,61.1M336.1,61.0L337.6,60.0M336.1,61.0L337.9,61.3" stroke="#d07e40" stroke-width="0.85" opacity="0.72"/><circle cx="336.1" cy="61.0" r="0.67" fill="#d07e40" stroke="none" opacity="0.72"/><path d="M306.1,44.0L308.0,44.2M306.1,44.0L306.5,46.8M306.1,44.0L303.7,43.2M306.1,44.0L306.0,41.2" stroke="#bc6832" stroke-width="0.66" opacity="0.56"/><circle cx="306.1" cy="44.0" r="0.60" fill="#bc6832" stroke="none" opacity="0.56"/><path d="M290.5,83.4L288.7,84.2M290.5,83.4L290.1,81.9M290.5,83.4L291.9,83.9M290.5,83.4L290.1,84.7" stroke="#cc7636" stroke-width="0.69" opacity="0.82"/><circle cx="290.5" cy="83.4" r="0.62" fill="#cc7636" stroke="none" opacity="0.82"/><path d="M289.7,64.2L287.7,66.0M289.7,64.2L287.7,63.1M289.7,64.2L292.6,65.3" stroke="#cc7636" stroke-width="0.86" opacity="0.81"/><circle cx="289.7" cy="64.2" r="0.79" fill="#cc7636" stroke="none" opacity="0.81"/><path d="M338.5,68.8L336.1,67.6M338.5,68.8L339.0,67.6M338.5,68.8L341.0,68.0M338.5,68.8L337.6,71.2" stroke="#d07e40" stroke-width="0.78" opacity="0.80"/><circle cx="338.5" cy="68.8" r="0.64" fill="#d07e40" stroke="none" opacity="0.80"/><path d="M311.8,39.8L312.4,41.1M311.8,39.8L310.8,38.2" stroke="#d07e40" stroke-width="0.85" opacity="0.58"/><circle cx="311.8" cy="39.8" r="0.68" fill="#d07e40" stroke="none" opacity="0.58"/><path d="M297.9,72.6L299.7,74.5M297.9,72.6L296.7,70.6" stroke="#b8602a" stroke-width="0.76" opacity="0.64"/><circle cx="297.9" cy="72.6" r="0.58" fill="#b8602a" stroke="none" opacity="0.64"/><path d="M348.7,79.1L350.2,80.3M348.7,79.1L346.4,79.4M348.7,79.1L350.5,77.0" stroke="#cc7636" stroke-width="0.70" opacity="0.59"/><circle cx="348.7" cy="79.1" r="0.81" fill="#cc7636" stroke="none" opacity="0.59"/><path d="M301.2,78.3L303.2,76.7M301.2,78.3L298.6,78.0" stroke="#cc7636" stroke-width="0.63" opacity="0.69"/><circle cx="301.2" cy="78.3" r="0.71" fill="#cc7636" stroke="none" opacity="0.69"/><circle cx="305.2" cy="45.2" r="0.79" fill="#c06c38" opacity="0.63"/><circle cx="311.8" cy="42.2" r="0.52" fill="#d08848" opacity="0.65"/><circle cx="321.8" cy="63.2" r="0.53" fill="#b86430" opacity="0.61"/><circle cx="338.3" cy="55.6" r="0.46" fill="#b86430" opacity="0.81"/><circle cx="307.9" cy="44.4" r="0.54" fill="#b86430" opacity="0.57"/><circle cx="320.4" cy="50.7" r="0.74" fill="#c8783c" opacity="0.53"/><circle cx="288.2" cy="46.1" r="0.55" fill="#b86430" opacity="0.72"/><circle cx="315.5" cy="80.1" r="0.69" fill="#d08848" opacity="0.67"/><circle cx="331.9" cy="38.1" r="0.63" fill="#c8783c" opacity="0.84"/><circle cx="341.8" cy="52.0" r="0.44" fill="#d08848" opacity="0.60"/><circle cx="295.1" cy="67.1" r="0.48" fill="#c06c38" opacity="0.54"/><circle cx="304.7" cy="58.2" r="0.52" fill="#c06c38" opacity="0.68"/><circle cx="345.5" cy="56.1" r="0.67" fill="#b86430" opacity="0.64"/><circle cx="281.4" cy="71.7" r="0.72" fill="#b86430" opacity="0.60"/><circle cx="309.2" cy="51.2" r="0.51" fill="#c06c38" opacity="0.79"/><circle cx="294.8" cy="49.2" r="0.75" fill="#b86430" opacity="0.61"/><circle cx="307.4" cy="74.9" r="0.66" fill="#c8783c" opacity="0.80"/><circle cx="291.8" cy="70.7" r="0.66" fill="#b86430" opacity="0.59"/><circle cx="296.7" cy="65.9" r="0.53" fill="#b86430" opacity="0.70"/><circle cx="309.5" cy="80.6" r="0.45" fill="#c8783c" opacity="0.53"/><circle cx="315.4" cy="49.6" r="0.54" fill="#b86430" opacity="0.48"/><circle cx="325.7" cy="41.0" r="0.49" fill="#c8783c" opacity="0.67"/><circle cx="327.7" cy="66.6" r="0.79" fill="#d08848" opacity="0.46"/><circle cx="299.1" cy="48.7" r="0.64" fill="#d08848" opacity="0.78"/><circle cx="302.3" cy="67.8" r="0.41" fill="#b86430" opacity="0.41"/><circle cx="312.9" cy="67.3" r="0.46" fill="#c8783c" opacity="0.76"/><circle cx="302.1" cy="46.0" r="0.71" fill="#c06c38" opacity="0.63"/><circle cx="294.7" cy="81.3" r="0.61" fill="#c8783c" opacity="0.73"/><circle cx="306.3" cy="54.6" r="0.73" fill="#c8783c" opacity="0.67"/><circle cx="332.7" cy="62.7" r="0.57" fill="#b86430" opacity="0.55"/><circle cx="297.8" cy="44.5" r="0.75" fill="#b86430" opacity="0.74"/><circle cx="298.2" cy="34.1" r="0.59" fill="#d08848" opacity="0.69"/><circle cx="321.8" cy="39.6" r="0.73" fill="#b86430" opacity="0.77"/><circle cx="302.6" cy="38.5" r="0.67" fill="#c06c38" opacity="0.78"/><circle cx="315.3" cy="42.8" r="0.70" fill="#c06c38" opacity="0.76"/><circle cx="333.3" cy="70.1" r="0.62" fill="#c06c38" opacity="0.44"/><circle cx="324.8" cy="52.8" r="0.69" fill="#c06c38" opacity="0.58"/><circle cx="284.2" cy="37.6" r="0.80" fill="#d08848" opacity="0.70"/><circle cx="324.3" cy="53.4" r="0.67" fill="#d08848" opacity="0.77"/><circle cx="311.7" cy="32.8" r="0.70" fill="#b86430" opacity="0.41"/><circle cx="323.4" cy="75.8" r="0.70" fill="#c8783c" opacity="0.71"/><circle cx="313.2" cy="78.9" r="0.75" fill="#d08848" opacity="0.42"/><circle cx="309.3" cy="68.3" r="0.49" fill="#c8783c" opacity="0.50"/><circle cx="329.4" cy="80.4" r="0.69" fill="#d08848" opacity="0.45"/><circle cx="307.1" cy="71.4" r="0.52" fill="#c8783c" opacity="0.55"/><circle cx="289.3" cy="40.2" r="0.69" fill="#c8783c" opacity="0.53"/><circle cx="341.9" cy="65.9" r="0.65" fill="#c06c38" opacity="0.81"/><circle cx="327.9" cy="51.5" r="0.47" fill="#c06c38" opacity="0.43"/><circle cx="310.8" cy="33.4" r="0.41" fill="#d08848" opacity="0.77"/><circle cx="311.4" cy="43.0" r="0.43" fill="#b86430" opacity="0.60"/><circle cx="305.1" cy="68.5" r="0.76" fill="#c8783c" opacity="0.61"/><circle cx="328.0" cy="79.0" r="0.68" fill="#b86430" opacity="0.66"/><circle cx="322.0" cy="58.5" r="0.70" fill="#d08848" opacity="0.63"/><circle cx="316.1" cy="72.0" r="0.56" fill="#d08848" opacity="0.71"/><circle cx="306.8" cy="74.5" r="0.40" fill="#c06c38" opacity="0.73"/><circle cx="299.2" cy="60.7" r="0.62" fill="#c06c38" opacity="0.84"/><circle cx="343.1" cy="42.9" r="0.48" fill="#d08848" opacity="0.41"/><circle cx="329.4" cy="69.7" r="0.79" fill="#c06c38" opacity="0.79"/><circle cx="317.0" cy="45.9" r="0.55" fill="#b86430" opacity="0.69"/><circle cx="295.8" cy="70.8" r="0.69" fill="#c06c38" opacity="0.69"/><circle cx="343.6" cy="78.3" r="0.58" fill="#b86430" opacity="0.58"/><circle cx="324.0" cy="82.3" r="0.44" fill="#d08848" opacity="0.41"/><circle cx="325.4" cy="80.5" r="0.50" fill="#c06c38" opacity="0.45"/><circle cx="300.6" cy="69.3" r="0.45" fill="#b86430" opacity="0.43"/><circle cx="292.3" cy="56.2" r="0.49" fill="#b86430" opacity="0.48"/><circle cx="322.5" cy="41.1" r="0.45" fill="#c06c38" opacity="0.44"/><circle cx="317.0" cy="83.8" r="0.68" fill="#c8783c" opacity="0.74"/><circle cx="323.8" cy="76.9" r="0.71" fill="#c8783c" opacity="0.44"/><circle cx="292.0" cy="33.5" r="0.61" fill="#c06c38" opacity="0.53"/><circle cx="307.7" cy="83.8" r="0.78" fill="#d08848" opacity="0.55"/><circle cx="308.0" cy="55.5" r="0.70" fill="#b86430" opacity="0.79"/><circle cx="329.2" cy="35.8" r="0.66" fill="#b86430" opacity="0.77"/><circle cx="296.5" cy="68.9" r="0.55" fill="#b86430" opacity="0.64"/><circle cx="289.7" cy="44.6" r="0.64" fill="#c06c38" opacity="0.47"/><circle cx="310.3" cy="48.8" r="0.65" fill="#c06c38" opacity="0.76"/><circle cx="319.6" cy="81.3" r="0.68" fill="#c06c38" opacity="0.60"/><circle cx="286.6" cy="36.1" r="0.71" fill="#c06c38" opacity="0.75"/><circle cx="302.3" cy="34.6" r="0.75" fill="#b86430" opacity="0.85"/><circle cx="318.1" cy="38.7" r="0.65" fill="#b86430" opacity="0.43"/><circle cx="314.1" cy="37.3" r="0.59" fill="#b86430" opacity="0.49"/><circle cx="311.1" cy="75.9" r="0.63" fill="#c06c38" opacity="0.47"/><circle cx="316.4" cy="67.2" r="0.40" fill="#c8783c" opacity="0.56"/><circle cx="295.8" cy="45.6" r="0.68" fill="#d08848" opacity="0.42"/><circle cx="321.7" cy="75.4" r="0.73" fill="#d08848" opacity="0.62"/><circle cx="295.0" cy="45.6" r="0.52" fill="#c8783c" opacity="0.74"/><circle cx="338.2" cy="64.2" r="0.43" fill="#b86430" opacity="0.48"/><circle cx="282.3" cy="63.7" r="0.62" fill="#d08848" opacity="0.60"/><circle cx="298.2" cy="62.8" r="0.80" fill="#d08848" opacity="0.76"/><circle cx="300.5" cy="45.9" r="0.79" fill="#c8783c" opacity="0.45"/><circle cx="319.8" cy="60.5" r="0.55" fill="#d08848" opacity="0.42"/><circle cx="319.5" cy="81.8" r="0.50" fill="#b86430" opacity="0.81"/><circle cx="322.9" cy="81.2" r="0.58" fill="#d08848" opacity="0.66"/><circle cx="327.5" cy="53.2" r="0.48" fill="#c8783c" opacity="0.61"/><circle cx="314.6" cy="65.2" r="0.68" fill="#d08848" opacity="0.47"/><circle cx="310.5" cy="55.3" r="0.80" fill="#c06c38" opacity="0.80"/><circle cx="296.0" cy="33.1" r="0.47" fill="#c06c38" opacity="0.50"/><circle cx="312.4" cy="38.9" r="0.69" fill="#c8783c" opacity="0.64"/><circle cx="321.8" cy="39.7" r="0.41" fill="#c06c38" opacity="0.50"/><circle cx="302.8" cy="51.5" r="0.55" fill="#b86430" opacity="0.76"/><circle cx="301.2" cy="53.9" r="0.68" fill="#c06c38" opacity="0.45"/><circle cx="299.7" cy="73.5" r="0.48" fill="#b86430" opacity="0.80"/><circle cx="294.7" cy="56.4" r="0.53" fill="#d08848" opacity="0.70"/><circle cx="312.5" cy="37.5" r="0.56" fill="#d08848" opacity="0.79"/><circle cx="328.8" cy="70.3" r="0.65" fill="#c06c38" opacity="0.60"/><circle cx="323.1" cy="81.7" r="0.64" fill="#b86430" opacity="0.71"/><circle cx="348.2" cy="65.6" r="0.76" fill="#b86430" opacity="0.68"/><circle cx="324.5" cy="41.1" r="0.47" fill="#d08848" opacity="0.60"/><circle cx="332.5" cy="64.9" r="0.53" fill="#c06c38" opacity="0.46"/><circle cx="309.4" cy="76.2" r="0.58" fill="#b86430" opacity="0.47"/><circle cx="317.4" cy="64.9" r="0.68" fill="#b86430" opacity="0.42"/><circle cx="305.6" cy="82.6" r="0.72" fill="#d08848" opacity="0.58"/><circle cx="309.2" cy="64.0" r="0.63" fill="#c8783c" opacity="0.63"/><circle cx="318.9" cy="46.3" r="0.70" fill="#d08848" opacity="0.76"/><circle cx="315.9" cy="45.6" r="0.49" fill="#b86430" opacity="0.65"/><circle cx="316.5" cy="48.1" r="0.55" fill="#b86430" opacity="0.56"/><circle cx="331.1" cy="42.0" r="0.68" fill="#c06c38" opacity="0.82"/><circle cx="337.3" cy="71.5" r="0.41" fill="#d08848" opacity="0.68"/><circle cx="283.0" cy="48.2" r="0.79" fill="#b86430" opacity="0.83"/><circle cx="333.4" cy="71.9" r="0.55" fill="#c8783c" opacity="0.62"/><circle cx="297.8" cy="46.2" r="0.58" fill="#c06c38" opacity="0.41"/><circle cx="323.5" cy="46.9" r="0.71" fill="#d08848" opacity="0.72"/><circle cx="301.2" cy="57.3" r="0.41" fill="#c8783c" opacity="0.42"/><circle cx="307.0" cy="39.6" r="0.79" fill="#b86430" opacity="0.41"/><circle cx="299.6" cy="77.4" r="0.45" fill="#d08848" opacity="0.65"/><circle cx="324.3" cy="33.1" r="0.58" fill="#d08848" opacity="0.83"/><circle cx="332.6" cy="56.3" r="0.56" fill="#c8783c" opacity="0.71"/><circle cx="322.5" cy="69.2" r="0.65" fill="#c8783c" opacity="0.50"/><circle cx="349.1" cy="67.6" r="0.44" fill="#d08848" opacity="0.45"/><circle cx="334.4" cy="61.9" r="0.76" fill="#d08848" opacity="0.44"/><circle cx="315.5" cy="52.6" r="0.60" fill="#c06c38" opacity="0.53"/><circle cx="329.9" cy="43.0" r="0.46" fill="#c8783c" opacity="0.63"/><circle cx="315.2" cy="49.0" r="0.65" fill="#b86430" opacity="0.40"/><circle cx="302.3" cy="76.2" r="0.59" fill="#b86430" opacity="0.55"/><circle cx="330.2" cy="62.0" r="0.66" fill="#c8783c" opacity="0.50"/><circle cx="309.1" cy="65.8" r="0.78" fill="#b86430" opacity="0.48"/><circle cx="346.3" cy="47.0" r="0.78" fill="#b86430" opacity="0.73"/><circle cx="311.7" cy="65.8" r="0.44" fill="#c06c38" opacity="0.43"/><circle cx="325.9" cy="54.2" r="0.75" fill="#b86430" opacity="0.81"/><circle cx="296.8" cy="32.2" r="0.59" fill="#d08848" opacity="0.47"/><circle cx="283.0" cy="76.8" r="0.79" fill="#c8783c" opacity="0.84"/><circle cx="300.5" cy="42.4" r="0.64" fill="#c8783c" opacity="0.76"/><circle cx="292.3" cy="61.1" r="0.45" fill="#d08848" opacity="0.82"/><circle cx="310.1" cy="64.4" r="0.69" fill="#c8783c" opacity="0.41"/><circle cx="336.6" cy="64.6" r="0.76" fill="#c06c38" opacity="0.80"/><circle cx="289.7" cy="40.2" r="0.60" fill="#d08848" opacity="0.51"/><circle cx="321.1" cy="73.8" r="0.54" fill="#d08848" opacity="0.65"/><circle cx="318.9" cy="68.5" r="0.47" fill="#c06c38" opacity="0.55"/><circle cx="334.9" cy="34.5" r="0.68" fill="#b86430" opacity="0.74"/><circle cx="335.7" cy="61.9" r="0.59" fill="#c8783c" opacity="0.59"/><circle cx="324.1" cy="64.1" r="0.61" fill="#c06c38" opacity="0.46"/></g>
<line x1="342.00" y1="81.70" x2="346.50" y2="81.70" stroke="#444" stroke-width="1.1" />
<rect x="206.5" y="88.2" width="71.10" height="55.30" fill="#fcedc0" filter="url(#tx2)"/>
<g filter="url(#bl2)" fill="#dc9c58" opacity="0.3"><circle cx="217.2" cy="121.3" r="2.7"/><circle cx="242.9" cy="100.4" r="1.9"/><circle cx="248.7" cy="123.1" r="2.9"/><circle cx="272.8" cy="97.4" r="1.9"/><circle cx="225.9" cy="95.8" r="2.0"/><circle cx="228.9" cy="128.4" r="2.7"/><circle cx="252.1" cy="103.3" r="1.9"/><circle cx="209.2" cy="126.3" r="2.9"/><circle cx="218.0" cy="139.3" r="1.6"/><circle cx="208.4" cy="129.4" r="2.6"/><circle cx="219.6" cy="107.5" r="2.5"/><circle cx="233.0" cy="95.5" r="1.7"/><circle cx="222.0" cy="118.1" r="2.3"/><circle cx="222.8" cy="141.9" r="1.9"/><circle cx="275.6" cy="103.1" r="2.4"/><circle cx="230.2" cy="139.4" r="2.2"/><circle cx="236.7" cy="135.5" r="2.8"/><circle cx="211.6" cy="130.3" r="2.4"/><circle cx="276.4" cy="109.8" r="2.1"/><circle cx="234.4" cy="107.5" r="2.4"/><circle cx="262.7" cy="104.3" r="1.7"/><circle cx="228.8" cy="90.7" r="2.8"/><circle cx="232.6" cy="120.2" r="2.1"/><circle cx="233.5" cy="128.8" r="2.9"/><circle cx="249.0" cy="105.6" r="1.7"/><circle cx="268.7" cy="91.6" r="1.7"/><circle cx="217.1" cy="119.1" r="2.3"/><circle cx="243.6" cy="106.5" r="1.9"/><circle cx="255.9" cy="92.2" r="1.9"/><circle cx="231.4" cy="124.2" r="2.4"/><circle cx="256.2" cy="134.2" r="2.0"/><circle cx="222.6" cy="104.0" r="2.7"/><circle cx="215.6" cy="113.1" r="2.6"/><circle cx="211.9" cy="132.0" r="3.0"/><circle cx="239.0" cy="140.8" r="2.5"/><circle cx="245.2" cy="130.7" r="1.6"/><circle cx="224.2" cy="95.5" r="1.9"/><circle cx="228.2" cy="137.8" r="2.0"/><circle cx="237.2" cy="90.8" r="2.3"/><circle cx="246.2" cy="131.5" r="1.6"/><circle cx="212.4" cy="134.1" r="2.2"/><circle cx="228.1" cy="108.2" r="2.7"/><circle cx="210.1" cy="132.1" r="2.3"/><circle cx="214.8" cy="124.6" r="2.5"/><circle cx="242.5" cy="110.2" r="2.2"/><circle cx="220.1" cy="105.0" r="2.5"/><circle cx="225.0" cy="138.2" r="1.8"/><circle cx="247.6" cy="139.1" r="2.5"/><circle cx="219.2" cy="129.5" r="1.8"/><circle cx="218.6" cy="89.9" r="2.5"/><circle cx="221.1" cy="125.6" r="2.9"/><circle cx="207.9" cy="91.3" r="1.6"/><circle cx="209.4" cy="118.1" r="2.3"/><circle cx="226.1" cy="116.6" r="2.6"/><circle cx="222.2" cy="95.7" r="2.3"/><circle cx="217.0" cy="96.4" r="2.6"/><circle cx="263.1" cy="123.8" r="2.8"/><circle cx="247.2" cy="106.6" r="2.1"/><circle cx="219.0" cy="109.1" r="2.3"/><circle cx="249.3" cy="114.7" r="2.0"/><circle cx="257.9" cy="93.2" r="2.7"/><circle cx="209.2" cy="105.4" r="2.9"/><circle cx="247.4" cy="118.9" r="2.3"/><circle cx="268.8" cy="124.9" r="2.3"/><circle cx="244.2" cy="123.3" r="2.9"/><circle cx="213.0" cy="129.6" r="1.9"/><circle cx="252.0" cy="93.6" r="2.8"/><circle cx="216.8" cy="116.8" r="2.1"/><circle cx="218.6" cy="119.8" r="2.6"/><circle cx="252.6" cy="99.1" r="2.3"/><circle cx="265.4" cy="119.1" r="1.9"/><circle cx="234.0" cy="89.6" r="3.0"/><circle cx="241.7" cy="103.5" r="2.3"/><circle cx="256.2" cy="106.5" r="3.0"/><circle cx="222.8" cy="122.2" r="1.6"/><circle cx="222.2" cy="112.7" r="2.8"/><circle cx="270.7" cy="105.0" r="1.8"/><circle cx="250.1" cy="109.8" r="2.9"/><circle cx="230.3" cy="141.1" r="1.7"/></g>
<g filter="url(#bl)" stroke-linecap="round" fill="none"><path d="M217.7,122.0L216.9,121.1M217.7,122.0L220.1,121.4M217.7,122.0L217.0,124.9" stroke="#bc6832" stroke-width="0.66" opacity="0.70"/><circle cx="217.7" cy="122.0" r="0.76" fill="#bc6832" stroke="none" opacity="0.70"/><path d="M242.1,101.0L241.1,100.1M242.1,101.0L244.7,100.6M242.1,101.0L240.7,103.3" stroke="#b8602a" stroke-width="0.74" opacity="0.62"/><circle cx="242.1" cy="101.0" r="0.65" fill="#b8602a" stroke="none" opacity="0.62"/><path d="M248.2,122.9L249.5,121.1M248.2,122.9L248.3,124.9M248.2,122.9L245.3,122.6" stroke="#d07e40" stroke-width="0.94" opacity="0.68"/><circle cx="248.2" cy="122.9" r="0.74" fill="#d07e40" stroke="none" opacity="0.68"/><path d="M272.7,98.4L271.2,98.5M272.7,98.4L272.4,96.8M272.7,98.4L275.0,98.6" stroke="#d07e40" stroke-width="0.73" opacity="0.80"/><circle cx="272.7" cy="98.4" r="0.55" fill="#d07e40" stroke="none" opacity="0.80"/><path d="M226.5,95.4L224.5,95.5M226.5,95.4L226.2,92.5M226.5,95.4L227.8,95.2M226.5,95.4L228.4,97.4" stroke="#c4682e" stroke-width="0.71" opacity="0.59"/><circle cx="226.5" cy="95.4" r="0.78" fill="#c4682e" stroke="none" opacity="0.59"/><path d="M254.6,96.6L255.8,95.7M254.6,96.6L255.7,97.6M254.6,96.6L253.5,97.7M254.6,96.6L254.4,95.1" stroke="#ac5826" stroke-width="0.83" opacity="0.50"/><circle cx="254.6" cy="96.6" r="0.57" fill="#ac5826" stroke="none" opacity="0.50"/><path d="M216.9,127.0L214.2,126.4M216.9,127.0L219.3,125.6M216.9,127.0L216.9,128.8" stroke="#bc6832" stroke-width="0.93" opacity="0.80"/><circle cx="216.9" cy="127.0" r="0.84" fill="#bc6832" stroke="none" opacity="0.80"/><path d="M221.1,94.0L219.5,94.0M221.1,94.0L220.5,92.7M221.1,94.0L223.7,94.3M221.1,94.0L221.9,95.5" stroke="#b8602a" stroke-width="0.61" opacity="0.83"/><circle cx="221.1" cy="94.0" r="0.82" fill="#b8602a" stroke="none" opacity="0.83"/><path d="M255.6,95.7L255.8,93.7M255.6,95.7L255.8,97.7" stroke="#bc6832" stroke-width="0.65" opacity="0.49"/><circle cx="255.6" cy="95.7" r="0.78" fill="#bc6832" stroke="none" opacity="0.49"/><path d="M226.5,103.1L228.2,103.9M226.5,103.1L223.9,102.3" stroke="#b8602a" stroke-width="0.67" opacity="0.62"/><circle cx="226.5" cy="103.1" r="0.71" fill="#b8602a" stroke="none" opacity="0.62"/><path d="M228.3,127.9L226.5,128.8M228.3,127.9L231.4,127.9" stroke="#ac5826" stroke-width="0.85" opacity="0.83"/><circle cx="228.3" cy="127.9" r="0.58" fill="#ac5826" stroke="none" opacity="0.83"/><path d="M251.3,104.3L250.9,105.8M251.3,104.3L248.7,103.6M251.3,104.3L252.9,104.0" stroke="#d07e40" stroke-width="0.91" opacity="0.79"/><circle cx="251.3" cy="104.3" r="0.71" fill="#d07e40" stroke="none" opacity="0.79"/><path d="M263.4,90.4L260.4,90.9M263.4,90.4L264.5,88.7M263.4,90.4L264.9,92.1" stroke="#d07e40" stroke-width="0.78" opacity="0.43"/><circle cx="263.4" cy="90.4" r="0.58" fill="#d07e40" stroke="none" opacity="0.43"/><path d="M208.5,125.8L207.0,125.5M208.5,125.8L209.2,124.3M208.5,125.8L210.3,127.2M208.5,125.8L207.0,126.5" stroke="#c4682e" stroke-width="0.89" opacity="0.55"/><circle cx="208.5" cy="125.8" r="0.53" fill="#c4682e" stroke="none" opacity="0.55"/><path d="M271.8,109.5L268.7,109.0M271.8,109.5L272.4,107.9M271.8,109.5L273.2,109.6M271.8,109.5L271.2,111.2" stroke="#c4682e" stroke-width="0.91" opacity="0.78"/><circle cx="271.8" cy="109.5" r="0.57" fill="#c4682e" stroke="none" opacity="0.78"/><path d="M217.3,139.2L214.9,141.1M217.3,139.2L218.9,137.7" stroke="#bc6832" stroke-width="0.88" opacity="0.55"/><circle cx="217.3" cy="139.2" r="0.79" fill="#bc6832" stroke="none" opacity="0.55"/><path d="M208.0,128.9L207.0,129.2M208.0,128.9L208.2,127.7M208.0,128.9L210.1,130.7M208.0,128.9L208.2,131.4" stroke="#b8602a" stroke-width="0.66" opacity="0.63"/><circle cx="208.0" cy="128.9" r="0.79" fill="#b8602a" stroke="none" opacity="0.63"/><path d="M220.1,107.2L222.0,109.0M220.1,107.2L220.3,110.3M220.1,107.2L218.3,105.8M220.1,107.2L220.7,104.9" stroke="#d07e40" stroke-width="0.65" opacity="0.55"/><circle cx="220.1" cy="107.2" r="0.79" fill="#d07e40" stroke="none" opacity="0.55"/><path d="M228.2,114.1L226.6,116.0M228.2,114.1L230.9,112.9" stroke="#b8602a" stroke-width="0.70" opacity="0.49"/><circle cx="228.2" cy="114.1" r="0.70" fill="#b8602a" stroke="none" opacity="0.49"/><path d="M214.9,138.4L216.4,141.1M214.9,138.4L214.0,135.4" stroke="#cc7636" stroke-width="0.89" opacity="0.62"/><circle cx="214.9" cy="138.4" r="0.70" fill="#cc7636" stroke="none" opacity="0.62"/><path d="M233.4,95.8L232.3,92.9M233.4,95.8L234.7,96.7M233.4,95.8L230.6,96.9" stroke="#d07e40" stroke-width="0.76" opacity="0.81"/><circle cx="233.4" cy="95.8" r="0.66" fill="#d07e40" stroke="none" opacity="0.81"/><path d="M222.4,117.6L224.1,115.1M222.4,117.6L224.7,118.3M222.4,117.6L220.7,119.5M222.4,117.6L220.8,116.4" stroke="#ac5826" stroke-width="0.63" opacity="0.81"/><circle cx="222.4" cy="117.6" r="0.58" fill="#ac5826" stroke="none" opacity="0.81"/><path d="M223.6,141.4L221.1,141.2M223.6,141.4L226.7,141.0" stroke="#d07e40" stroke-width="0.85" opacity="0.72"/><circle cx="223.6" cy="141.4" r="0.75" fill="#d07e40" stroke="none" opacity="0.72"/><path d="M242.3,110.5L240.6,109.3M242.3,110.5L244.1,109.7M242.3,110.5L240.6,112.3" stroke="#d07e40" stroke-width="0.64" opacity="0.41"/><circle cx="242.3" cy="110.5" r="0.72" fill="#d07e40" stroke="none" opacity="0.41"/><path d="M276.5,102.6L274.9,103.3M276.5,102.6L277.1,101.7" stroke="#bc6832" stroke-width="0.91" opacity="0.47"/><circle cx="276.5" cy="102.6" r="0.84" fill="#bc6832" stroke="none" opacity="0.47"/><path d="M229.8,139.3L228.4,140.2M229.8,139.3L228.4,136.5M229.8,139.3L231.6,140.3" stroke="#ac5826" stroke-width="0.88" opacity="0.75"/><circle cx="229.8" cy="139.3" r="0.69" fill="#ac5826" stroke="none" opacity="0.75"/><path d="M236.5,136.1L236.5,133.6M236.5,136.1L238.8,136.2M236.5,136.1L234.5,136.8" stroke="#b8602a" stroke-width="0.64" opacity="0.54"/><circle cx="236.5" cy="136.1" r="0.64" fill="#b8602a" stroke="none" opacity="0.54"/><path d="M212.0,130.4L211.9,132.2M212.0,130.4L209.8,131.7M212.0,130.4L213.5,129.6" stroke="#cc7636" stroke-width="0.61" opacity="0.70"/><circle cx="212.0" cy="130.4" r="0.58" fill="#cc7636" stroke="none" opacity="0.70"/><path d="M276.5,109.3L274.3,109.8M276.5,109.3L275.9,107.2M276.5,109.3L277.1,108.2M276.5,109.3L277.1,112.0" stroke="#bc6832" stroke-width="0.92" opacity="0.45"/><circle cx="276.5" cy="109.3" r="0.68" fill="#bc6832" stroke="none" opacity="0.45"/><path d="M234.5,107.1L235.3,105.1M234.5,107.1L235.2,108.1M234.5,107.1L232.9,105.9" stroke="#ac5826" stroke-width="0.69" opacity="0.80"/><circle cx="234.5" cy="107.1" r="0.79" fill="#ac5826" stroke="none" opacity="0.80"/><path d="M217.2,123.9L217.9,125.6M217.2,123.9L216.0,123.3M217.2,123.9L217.0,122.7M217.2,123.9L219.5,124.3" stroke="#ac5826" stroke-width="0.60" opacity="0.75"/><circle cx="217.2" cy="123.9" r="0.76" fill="#ac5826" stroke="none" opacity="0.75"/><path d="M262.0,104.7L262.3,107.8M262.0,104.7L259.6,104.5M262.0,104.7L264.5,103.5" stroke="#cc7636" stroke-width="0.89" opacity="0.48"/><circle cx="262.0" cy="104.7" r="0.66" fill="#cc7636" stroke="none" opacity="0.48"/><path d="M228.2,90.7L229.2,88.7M228.2,90.7L225.7,91.2" stroke="#b8602a" stroke-width="0.65" opacity="0.74"/><circle cx="228.2" cy="90.7" r="0.54" fill="#b8602a" stroke="none" opacity="0.74"/><path d="M232.3,120.1L232.4,122.8M232.3,120.1L230.7,119.4M232.3,120.1L235.1,121.3" stroke="#c4682e" stroke-width="0.93" opacity="0.77"/><circle cx="232.3" cy="120.1" r="0.55" fill="#c4682e" stroke="none" opacity="0.77"/><path d="M233.0,128.3L235.0,128.2M233.0,128.3L235.0,130.2M233.0,128.3L230.5,128.8M233.0,128.3L231.5,126.3" stroke="#c4682e" stroke-width="0.65" opacity="0.79"/><circle cx="233.0" cy="128.3" r="0.52" fill="#c4682e" stroke="none" opacity="0.79"/><path d="M249.9,106.3L250.3,103.7M249.9,106.3L252.7,106.5M249.9,106.3L249.6,107.6" stroke="#bc6832" stroke-width="0.61" opacity="0.79"/><circle cx="249.9" cy="106.3" r="0.60" fill="#bc6832" stroke="none" opacity="0.79"/><path d="M268.6,92.3L270.6,91.9M268.6,92.3L267.3,95.2M268.6,92.3L266.5,91.8" stroke="#cc7636" stroke-width="0.88" opacity="0.79"/><circle cx="268.6" cy="92.3" r="0.55" fill="#cc7636" stroke="none" opacity="0.79"/><path d="M247.6,118.8L249.5,118.6M247.6,118.8L244.9,119.1M247.6,118.8L248.5,116.2" stroke="#c4682e" stroke-width="0.77" opacity="0.60"/><circle cx="247.6" cy="118.8" r="0.54" fill="#c4682e" stroke="none" opacity="0.60"/><path d="M253.8,138.4L253.0,141.0M253.8,138.4L252.4,135.7M253.8,138.4L253.9,136.9M253.8,138.4L256.2,139.7" stroke="#b8602a" stroke-width="0.91" opacity="0.55"/><circle cx="253.8" cy="138.4" r="0.77" fill="#b8602a" stroke="none" opacity="0.55"/><path d="M216.1,119.0L214.6,118.3M216.1,119.0L218.9,117.8M216.1,119.0L217.3,121.4" stroke="#bc6832" stroke-width="0.66" opacity="0.46"/><circle cx="216.1" cy="119.0" r="0.75" fill="#bc6832" stroke="none" opacity="0.46"/><path d="M226.2,141.4L224.4,142.0M226.2,141.4L227.7,141.5" stroke="#ac5826" stroke-width="0.77" opacity="0.54"/><circle cx="226.2" cy="141.4" r="0.70" fill="#ac5826" stroke="none" opacity="0.54"/><path d="M243.9,106.2L243.0,108.3M243.9,106.2L242.2,104.7M243.9,106.2L243.9,104.3M243.9,106.2L246.6,106.6" stroke="#d07e40" stroke-width="0.77" opacity="0.75"/><circle cx="243.9" cy="106.2" r="0.77" fill="#d07e40" stroke="none" opacity="0.75"/><path d="M241.1,107.6L239.9,105.4M241.1,107.6L241.6,108.8" stroke="#bc6832" stroke-width="0.83" opacity="0.42"/><circle cx="241.1" cy="107.6" r="0.78" fill="#bc6832" stroke="none" opacity="0.42"/><path d="M256.4,140.4L256.8,142.4M256.4,140.4L256.3,137.3" stroke="#c4682e" stroke-width="0.66" opacity="0.77"/><circle cx="256.4" cy="140.4" r="0.71" fill="#c4682e" stroke="none" opacity="0.77"/><path d="M255.2,91.3L256.9,91.9M255.2,91.3L254.0,90.3" stroke="#ac5826" stroke-width="0.66" opacity="0.66"/><circle cx="255.2" cy="91.3" r="0.62" fill="#ac5826" stroke="none" opacity="0.66"/><path d="M230.6,124.6L233.2,126.0M230.6,124.6L228.5,124.4" stroke="#ac5826" stroke-width="0.62" opacity="0.62"/><circle cx="230.6" cy="124.6" r="0.63" fill="#ac5826" stroke="none" opacity="0.62"/><path d="M260.9,110.1L263.2,111.1M260.9,110.1L258.7,109.7" stroke="#bc6832" stroke-width="0.67" opacity="0.76"/><circle cx="260.9" cy="110.1" r="0.57" fill="#bc6832" stroke="none" opacity="0.76"/><path d="M257.0,134.7L254.9,133.0M257.0,134.7L259.3,134.4M257.0,134.7L257.7,137.6" stroke="#c4682e" stroke-width="0.64" opacity="0.84"/><circle cx="257.0" cy="134.7" r="0.84" fill="#c4682e" stroke="none" opacity="0.84"/><path d="M222.0,103.8L222.8,104.6M222.0,103.8L220.6,102.7" stroke="#c4682e" stroke-width="0.94" opacity="0.74"/><circle cx="222.0" cy="103.8" r="0.78" fill="#c4682e" stroke="none" opacity="0.74"/><path d="M214.9,114.1L211.9,113.1M214.9,114.1L214.7,112.0M214.9,114.1L215.8,113.2M214.9,114.1L214.3,116.1" stroke="#cc7636" stroke-width="0.69" opacity="0.50"/><circle cx="214.9" cy="114.1" r="0.73" fill="#cc7636" stroke="none" opacity="0.50"/><path d="M212.9,131.6L211.0,129.3M212.9,131.6L215.7,130.4M212.9,131.6L212.8,134.5M212.9,131.6L211.7,132.2" stroke="#ac5826" stroke-width="0.75" opacity="0.71"/><circle cx="212.9" cy="131.6" r="0.71" fill="#ac5826" stroke="none" opacity="0.71"/><path d="M238.3,141.5L238.4,140.2M238.3,141.5L240.0,141.0M238.3,141.5L237.0,143.0" stroke="#b8602a" stroke-width="0.60" opacity="0.44"/><circle cx="238.3" cy="141.5" r="0.57" fill="#b8602a" stroke="none" opacity="0.44"/><path d="M236.8,121.1L237.4,122.3M236.8,121.1L233.7,121.6M236.8,121.1L236.1,118.8" stroke="#bc6832" stroke-width="0.92" opacity="0.77"/><circle cx="236.8" cy="121.1" r="0.78" fill="#bc6832" stroke="none" opacity="0.77"/><path d="M244.7,129.9L245.0,131.4M244.7,129.9L243.4,130.4M244.7,129.9L246.0,128.5" stroke="#bc6832" stroke-width="0.63" opacity="0.45"/><circle cx="244.7" cy="129.9" r="0.70" fill="#bc6832" stroke="none" opacity="0.45"/><path d="M224.1,95.8L223.7,94.5M224.1,95.8L226.8,94.9M224.1,95.8L223.8,96.9M224.1,95.8L221.6,95.4" stroke="#ac5826" stroke-width="0.64" opacity="0.68"/><circle cx="224.1" cy="95.8" r="0.61" fill="#ac5826" stroke="none" opacity="0.68"/><path d="M228.4,137.4L229.4,136.4M228.4,137.4L229.3,138.8M228.4,137.4L227.1,137.5M228.4,137.4L227.2,135.8" stroke="#c4682e" stroke-width="0.95" opacity="0.55"/><circle cx="228.4" cy="137.4" r="0.64" fill="#c4682e" stroke="none" opacity="0.55"/><path d="M236.5,90.6L235.1,90.5M236.5,90.6L236.1,88.7M236.5,90.6L238.9,91.8" stroke="#ac5826" stroke-width="0.89" opacity="0.56"/><circle cx="236.5" cy="90.6" r="0.76" fill="#ac5826" stroke="none" opacity="0.56"/><path d="M246.9,130.5L249.2,128.5M246.9,130.5L248.6,132.6M246.9,130.5L245.3,132.0M246.9,130.5L246.4,129.2" stroke="#ac5826" stroke-width="0.64" opacity="0.58"/><circle cx="246.9" cy="130.5" r="0.72" fill="#ac5826" stroke="none" opacity="0.58"/><path d="M275.0,97.3L273.8,99.3M275.0,97.3L276.7,95.6" stroke="#d07e40" stroke-width="0.68" opacity="0.40"/><circle cx="275.0" cy="97.3" r="0.76" fill="#d07e40" stroke="none" opacity="0.40"/><path d="M255.2,104.7L252.9,103.2M255.2,104.7L258.3,104.6M255.2,104.7L255.6,107.3M255.2,104.7L254.0,107.3" stroke="#bc6832" stroke-width="0.77" opacity="0.47"/><circle cx="255.2" cy="104.7" r="0.69" fill="#bc6832" stroke="none" opacity="0.47"/><path d="M212.7,133.8L211.5,132.0M212.7,133.8L214.6,134.2" stroke="#cc7636" stroke-width="0.87" opacity="0.65"/><circle cx="212.7" cy="133.8" r="0.75" fill="#cc7636" stroke="none" opacity="0.65"/><path d="M228.3,108.4L228.3,109.7M228.3,108.4L226.8,106.1M228.3,108.4L230.7,110.0" stroke="#cc7636" stroke-width="0.65" opacity="0.82"/><circle cx="228.3" cy="108.4" r="0.84" fill="#cc7636" stroke="none" opacity="0.82"/><path d="M259.9,93.4L258.5,92.4M259.9,93.4L260.3,91.6M259.9,93.4L262.3,93.0M259.9,93.4L259.0,96.3" stroke="#bc6832" stroke-width="0.94" opacity="0.67"/><circle cx="259.9" cy="93.4" r="0.80" fill="#bc6832" stroke="none" opacity="0.67"/><path d="M210.3,133.1L211.4,134.5M210.3,133.1L208.8,134.7M210.3,133.1L211.2,130.8" stroke="#bc6832" stroke-width="0.89" opacity="0.76"/><circle cx="210.3" cy="133.1" r="0.64" fill="#bc6832" stroke="none" opacity="0.76"/><path d="M214.6,125.2L215.4,128.2M214.6,125.2L214.1,123.3M214.6,125.2L216.9,125.3" stroke="#cc7636" stroke-width="0.94" opacity="0.54"/><circle cx="214.6" cy="125.2" r="0.81" fill="#cc7636" stroke="none" opacity="0.54"/><path d="M208.1,127.9L209.7,127.6M208.1,127.9L207.0,127.7" stroke="#c4682e" stroke-width="0.92" opacity="0.79"/><circle cx="208.1" cy="127.9" r="0.81" fill="#c4682e" stroke="none" opacity="0.79"/><path d="M272.8,106.7L270.9,104.6M272.8,106.7L275.2,108.0" stroke="#ac5826" stroke-width="0.90" opacity="0.41"/><circle cx="272.8" cy="106.7" r="0.62" fill="#ac5826" stroke="none" opacity="0.41"/><path d="M243.3,110.2L241.3,108.4M243.3,110.2L244.4,109.8M243.3,110.2L242.8,113.4" stroke="#bc6832" stroke-width="0.66" opacity="0.48"/><circle cx="243.3" cy="110.2" r="0.75" fill="#bc6832" stroke="none" opacity="0.48"/><path d="M219.5,105.3L217.4,104.1M219.5,105.3L221.1,104.3M219.5,105.3L220.6,106.5M219.5,105.3L219.8,108.0" stroke="#c4682e" stroke-width="0.74" opacity="0.55"/><circle cx="219.5" cy="105.3" r="0.80" fill="#c4682e" stroke="none" opacity="0.55"/><path d="M268.2,96.9L268.1,99.8M268.2,96.9L266.5,95.3M268.2,96.9L267.4,93.9M268.2,96.9L270.0,98.7" stroke="#cc7636" stroke-width="0.72" opacity="0.48"/><circle cx="268.2" cy="96.9" r="0.62" fill="#cc7636" stroke="none" opacity="0.48"/><path d="M225.6,138.5L224.9,141.0M225.6,138.5L223.5,138.6M225.6,138.5L228.4,137.1" stroke="#ac5826" stroke-width="0.66" opacity="0.58"/><circle cx="225.6" cy="138.5" r="0.68" fill="#ac5826" stroke="none" opacity="0.58"/><path d="M227.2,102.7L226.3,105.3M227.2,102.7L227.8,100.7" stroke="#d07e40" stroke-width="0.92" opacity="0.82"/><circle cx="227.2" cy="102.7" r="0.64" fill="#d07e40" stroke="none" opacity="0.82"/><path d="M248.5,138.3L248.3,141.4M248.5,138.3L247.7,136.9M248.5,138.3L250.9,136.3M248.5,138.3L249.8,139.3" stroke="#c4682e" stroke-width="0.84" opacity="0.63"/><circle cx="248.5" cy="138.3" r="0.53" fill="#c4682e" stroke="none" opacity="0.63"/><path d="M219.3,128.6L218.2,130.5M219.3,128.6L219.8,127.5" stroke="#ac5826" stroke-width="0.73" opacity="0.54"/><circle cx="219.3" cy="128.6" r="0.54" fill="#ac5826" stroke="none" opacity="0.54"/><path d="M218.1,90.4L219.7,89.1M218.1,90.4L215.7,91.7" stroke="#c4682e" stroke-width="0.93" opacity="0.80"/><circle cx="218.1" cy="90.4" r="0.58" fill="#c4682e" stroke="none" opacity="0.80"/><path d="M227.4,135.4L224.9,135.0M227.4,135.4L229.8,134.8M227.4,135.4L227.1,137.1" stroke="#cc7636" stroke-width="0.82" opacity="0.55"/><circle cx="227.4" cy="135.4" r="0.83" fill="#cc7636" stroke="none" opacity="0.55"/><path d="M210.1,107.5L209.0,110.0M210.1,107.5L208.1,105.5M210.1,107.5L211.9,105.1M210.1,107.5L211.1,109.0" stroke="#c4682e" stroke-width="0.92" opacity="0.49"/><circle cx="210.1" cy="107.5" r="0.59" fill="#c4682e" stroke="none" opacity="0.49"/><path d="M224.5,112.3L226.8,112.2M224.5,112.3L223.8,113.4" stroke="#b8602a" stroke-width="0.78" opacity="0.73"/><circle cx="224.5" cy="112.3" r="0.57" fill="#b8602a" stroke="none" opacity="0.73"/><path d="M220.6,125.8L217.9,126.3M220.6,125.8L223.0,123.8M220.6,125.8L222.2,126.6" stroke="#d07e40" stroke-width="0.61" opacity="0.78"/><circle cx="220.6" cy="125.8" r="0.75" fill="#d07e40" stroke="none" opacity="0.78"/><path d="M274.9,99.0L271.8,99.0M274.9,99.0L275.5,97.0M274.9,99.0L275.0,100.8" stroke="#bc6832" stroke-width="0.64" opacity="0.82"/><circle cx="274.9" cy="99.0" r="0.55" fill="#bc6832" stroke="none" opacity="0.82"/><path d="M247.4,127.9L244.5,128.3M247.4,127.9L248.7,127.5" stroke="#cc7636" stroke-width="0.61" opacity="0.73"/><circle cx="247.4" cy="127.9" r="0.81" fill="#cc7636" stroke="none" opacity="0.73"/><path d="M225.5,105.3L226.7,103.4M225.5,105.3L226.3,108.1M225.5,105.3L224.1,106.1M225.5,105.3L223.4,104.4" stroke="#cc7636" stroke-width="0.94" opacity="0.83"/><circle cx="225.5" cy="105.3" r="0.70" fill="#cc7636" stroke="none" opacity="0.83"/><path d="M241.8,120.4L244.1,120.9M241.8,120.4L241.3,121.8M241.8,120.4L241.2,118.5" stroke="#d07e40" stroke-width="0.92" opacity="0.43"/><circle cx="241.8" cy="120.4" r="0.69" fill="#d07e40" stroke="none" opacity="0.43"/><path d="M260.5,91.6L259.6,93.1M260.5,91.6L258.6,89.1M260.5,91.6L263.0,89.8" stroke="#c4682e" stroke-width="0.70" opacity="0.72"/><circle cx="260.5" cy="91.6" r="0.65" fill="#c4682e" stroke="none" opacity="0.72"/><path d="M208.0,90.3L208.3,88.7M208.0,90.3L208.1,91.5" stroke="#cc7636" stroke-width="0.80" opacity="0.59"/><circle cx="208.0" cy="90.3" r="0.68" fill="#cc7636" stroke="none" opacity="0.59"/><path d="M210.2,117.5L209.2,116.9M210.2,117.5L212.2,115.2M210.2,117.5L212.8,117.0M210.2,117.5L207.8,119.5" stroke="#d07e40" stroke-width="0.67" opacity="0.46"/><circle cx="210.2" cy="117.5" r="0.57" fill="#d07e40" stroke="none" opacity="0.46"/><path d="M225.2,115.8L227.4,117.5M225.2,115.8L225.6,113.3" stroke="#b8602a" stroke-width="0.66" opacity="0.79"/><circle cx="225.2" cy="115.8" r="0.62" fill="#b8602a" stroke="none" opacity="0.79"/><path d="M222.8,96.3L224.4,97.4M222.8,96.3L221.8,97.1M222.8,96.3L221.6,93.7" stroke="#b8602a" stroke-width="0.64" opacity="0.84"/><circle cx="222.8" cy="96.3" r="0.77" fill="#b8602a" stroke="none" opacity="0.84"/><path d="M216.8,96.8L219.7,97.2M216.8,96.8L214.7,98.5M216.8,96.8L216.0,95.1" stroke="#d07e40" stroke-width="0.72" opacity="0.76"/><circle cx="216.8" cy="96.8" r="0.65" fill="#d07e40" stroke="none" opacity="0.76"/><path d="M240.2,135.3L238.7,136.5M240.2,135.3L239.0,134.8M240.2,135.3L240.8,134.1M240.2,135.3L242.4,136.9" stroke="#ac5826" stroke-width="0.64" opacity="0.77"/><circle cx="240.2" cy="135.3" r="0.56" fill="#ac5826" stroke="none" opacity="0.77"/><path d="M263.1,123.0L262.1,125.9M263.1,123.0L262.6,121.6M263.1,123.0L265.3,122.0" stroke="#d07e40" stroke-width="0.78" opacity="0.57"/><circle cx="263.1" cy="123.0" r="0.84" fill="#d07e40" stroke="none" opacity="0.57"/><path d="M246.2,107.5L245.2,108.8M246.2,107.5L247.4,105.3M246.2,107.5L248.0,107.9" stroke="#c4682e" stroke-width="0.75" opacity="0.54"/><circle cx="246.2" cy="107.5" r="0.65" fill="#c4682e" stroke="none" opacity="0.54"/><path d="M218.6,109.1L216.5,107.9M218.6,109.1L220.1,107.8M218.6,109.1L219.7,111.2" stroke="#d07e40" stroke-width="0.68" opacity="0.69"/><circle cx="218.6" cy="109.1" r="0.82" fill="#d07e40" stroke="none" opacity="0.69"/><path d="M265.6,110.9L264.5,108.1M265.6,110.9L267.8,110.7M265.6,110.9L266.3,113.7" stroke="#bc6832" stroke-width="0.74" opacity="0.56"/><circle cx="265.6" cy="110.9" r="0.56" fill="#bc6832" stroke="none" opacity="0.56"/><path d="M244.2,107.3L244.7,108.6M244.2,107.3L241.5,106.9M244.2,107.3L245.9,105.4" stroke="#d07e40" stroke-width="0.75" opacity="0.48"/><circle cx="244.2" cy="107.3" r="0.76" fill="#d07e40" stroke="none" opacity="0.48"/><path d="M240.3,139.0L238.7,139.7M240.3,139.0L240.0,137.7M240.3,139.0L241.3,139.6" stroke="#d07e40" stroke-width="0.72" opacity="0.64"/><circle cx="240.3" cy="139.0" r="0.81" fill="#d07e40" stroke="none" opacity="0.64"/><path d="M249.6,115.3L248.3,114.9M249.6,115.3L249.5,113.7M249.6,115.3L251.9,115.7M249.6,115.3L249.8,116.7" stroke="#b8602a" stroke-width="0.77" opacity="0.41"/><circle cx="249.6" cy="115.3" r="0.54" fill="#b8602a" stroke="none" opacity="0.41"/><path d="M258.6,91.1L256.1,90.8M258.6,91.1L258.3,88.7M258.6,91.1L260.6,89.0M258.6,91.1L258.3,93.1" stroke="#b8602a" stroke-width="0.77" opacity="0.80"/><circle cx="258.6" cy="91.1" r="0.77" fill="#b8602a" stroke="none" opacity="0.80"/><path d="M258.3,93.4L259.4,93.0M258.3,93.4L257.5,95.0" stroke="#b8602a" stroke-width="0.88" opacity="0.66"/><circle cx="258.3" cy="93.4" r="0.73" fill="#b8602a" stroke="none" opacity="0.66"/><path d="M209.3,106.4L207.0,106.4M209.3,106.4L209.5,104.6M209.3,106.4L210.9,104.7M209.3,106.4L211.2,108.8" stroke="#bc6832" stroke-width="0.82" opacity="0.78"/><circle cx="209.3" cy="106.4" r="0.85" fill="#bc6832" stroke="none" opacity="0.78"/><path d="M247.9,118.2L246.3,119.4M247.9,118.2L249.8,118.3" stroke="#bc6832" stroke-width="0.66" opacity="0.61"/><circle cx="247.9" cy="118.2" r="0.83" fill="#bc6832" stroke="none" opacity="0.61"/><path d="M268.2,124.2L267.0,123.7M268.2,124.2L270.4,122.7M268.2,124.2L266.1,126.1" stroke="#ac5826" stroke-width="0.68" opacity="0.52"/><circle cx="268.2" cy="124.2" r="0.71" fill="#ac5826" stroke="none" opacity="0.52"/><path d="M243.5,123.7L244.6,122.4M243.5,123.7L242.5,125.1" stroke="#c4682e" stroke-width="0.87" opacity="0.69"/><circle cx="243.5" cy="123.7" r="0.53" fill="#c4682e" stroke="none" opacity="0.69"/><path d="M213.7,129.7L212.4,129.7M213.7,129.7L213.1,127.7M213.7,129.7L216.2,129.6M213.7,129.7L213.3,131.2" stroke="#cc7636" stroke-width="0.66" opacity="0.40"/><circle cx="213.7" cy="129.7" r="0.65" fill="#cc7636" stroke="none" opacity="0.40"/><path d="M251.6,94.5L251.3,91.9M251.6,94.5L252.3,97.1" stroke="#c4682e" stroke-width="0.69" opacity="0.71"/><circle cx="251.6" cy="94.5" r="0.65" fill="#c4682e" stroke="none" opacity="0.71"/><path d="M216.0,116.1L218.1,117.8M216.0,116.1L214.6,117.4M216.0,116.1L216.9,115.0" stroke="#cc7636" stroke-width="0.66" opacity="0.45"/><circle cx="216.0" cy="116.1" r="0.71" fill="#cc7636" stroke="none" opacity="0.45"/><path d="M219.6,120.1L218.1,120.4M219.6,120.1L219.6,118.7M219.6,120.1L221.5,120.1M219.6,120.1L219.3,122.5" stroke="#d07e40" stroke-width="0.69" opacity="0.81"/><circle cx="219.6" cy="120.1" r="0.50" fill="#d07e40" stroke="none" opacity="0.81"/><path d="M251.6,99.4L254.4,98.1M251.6,99.4L251.0,101.1M251.6,99.4L250.6,96.9" stroke="#c4682e" stroke-width="0.64" opacity="0.67"/><circle cx="251.6" cy="99.4" r="0.64" fill="#c4682e" stroke="none" opacity="0.67"/><path d="M265.8,118.7L265.6,120.5M265.8,118.7L264.1,116.0M265.8,118.7L268.3,117.2M265.8,118.7L266.7,121.1" stroke="#b8602a" stroke-width="0.63" opacity="0.55"/><circle cx="265.8" cy="118.7" r="0.72" fill="#b8602a" stroke="none" opacity="0.55"/><path d="M233.4,90.6L232.3,93.2M233.4,90.6L234.4,89.3" stroke="#b8602a" stroke-width="0.90" opacity="0.58"/><circle cx="233.4" cy="90.6" r="0.84" fill="#b8602a" stroke="none" opacity="0.58"/><path d="M241.9,103.8L243.6,105.5M241.9,103.8L240.3,103.7" stroke="#cc7636" stroke-width="0.76" opacity="0.65"/><circle cx="241.9" cy="103.8" r="0.61" fill="#cc7636" stroke="none" opacity="0.65"/><path d="M240.4,92.8L242.6,92.1M240.4,92.8L242.3,94.9M240.4,92.8L238.9,93.8M240.4,92.8L239.6,91.2" stroke="#bc6832" stroke-width="0.69" opacity="0.84"/><circle cx="240.4" cy="92.8" r="0.56" fill="#bc6832" stroke="none" opacity="0.84"/><path d="M218.3,115.6L219.1,117.6M218.3,115.6L216.4,114.8" stroke="#cc7636" stroke-width="0.93" opacity="0.55"/><circle cx="218.3" cy="115.6" r="0.65" fill="#cc7636" stroke="none" opacity="0.55"/><path d="M256.6,105.6L258.0,105.6M256.6,105.6L258.3,106.8M256.6,105.6L254.1,106.5M256.6,105.6L255.4,103.4" stroke="#b8602a" stroke-width="0.63" opacity="0.56"/><circle cx="256.6" cy="105.6" r="0.54" fill="#b8602a" stroke="none" opacity="0.56"/><path d="M216.5,104.5L218.5,106.2M216.5,104.5L214.4,104.7M216.5,104.5L216.0,102.4" stroke="#ac5826" stroke-width="0.69" opacity="0.75"/><circle cx="216.5" cy="104.5" r="0.77" fill="#ac5826" stroke="none" opacity="0.75"/><path d="M222.1,121.5L222.9,120.5M222.1,121.5L221.7,123.7M222.1,121.5L220.0,121.1" stroke="#b8602a" stroke-width="0.83" opacity="0.44"/><circle cx="222.1" cy="121.5" r="0.54" fill="#b8602a" stroke="none" opacity="0.44"/><path d="M222.0,113.6L220.6,112.5M222.0,113.6L223.6,114.2M222.0,113.6L220.9,116.2" stroke="#c4682e" stroke-width="0.95" opacity="0.74"/><circle cx="222.0" cy="113.6" r="0.54" fill="#c4682e" stroke="none" opacity="0.74"/><path d="M271.3,104.1L269.2,106.0M271.3,104.1L270.3,101.5M271.3,104.1L273.5,103.1" stroke="#b8602a" stroke-width="0.65" opacity="0.62"/><circle cx="271.3" cy="104.1" r="0.78" fill="#b8602a" stroke="none" opacity="0.62"/><path d="M249.4,110.3L249.7,112.1M249.4,110.3L249.2,107.8" stroke="#c4682e" stroke-width="0.64" opacity="0.50"/><circle cx="249.4" cy="110.3" r="0.78" fill="#c4682e" stroke="none" opacity="0.50"/><path d="M229.5,140.4L230.1,138.4M229.5,140.4L230.4,142.8M229.5,140.4L226.6,140.9" stroke="#bc6832" stroke-width="0.78" opacity="0.56"/><circle cx="229.5" cy="140.4" r="0.52" fill="#bc6832" stroke="none" opacity="0.56"/><circle cx="271.1" cy="129.0" r="0.62" fill="#c8783c" opacity="0.55"/><circle cx="254.9" cy="101.4" r="0.69" fill="#c8783c" opacity="0.47"/><circle cx="266.4" cy="121.3" r="0.65" fill="#d08848" opacity="0.57"/><circle cx="226.2" cy="134.9" r="0.45" fill="#c8783c" opacity="0.68"/><circle cx="244.8" cy="131.7" r="0.61" fill="#c06c38" opacity="0.80"/><circle cx="253.4" cy="93.8" r="0.45" fill="#b86430" opacity="0.60"/><circle cx="251.6" cy="90.0" r="0.59" fill="#c8783c" opacity="0.66"/><circle cx="253.1" cy="112.6" r="0.54" fill="#c8783c" opacity="0.83"/><circle cx="223.3" cy="103.0" r="0.63" fill="#c06c38" opacity="0.81"/><circle cx="247.2" cy="115.9" r="0.53" fill="#c06c38" opacity="0.71"/><circle cx="218.2" cy="128.4" r="0.50" fill="#d08848" opacity="0.81"/><circle cx="258.9" cy="110.2" r="0.70" fill="#c06c38" opacity="0.61"/><circle cx="212.5" cy="136.9" r="0.74" fill="#c06c38" opacity="0.42"/><circle cx="243.9" cy="104.2" r="0.80" fill="#b86430" opacity="0.41"/><circle cx="220.8" cy="96.9" r="0.47" fill="#c06c38" opacity="0.75"/><circle cx="231.5" cy="123.0" r="0.41" fill="#d08848" opacity="0.45"/><circle cx="269.9" cy="133.5" r="0.73" fill="#c06c38" opacity="0.42"/><circle cx="237.8" cy="135.7" r="0.43" fill="#b86430" opacity="0.68"/><circle cx="232.6" cy="119.1" r="0.76" fill="#d08848" opacity="0.76"/><circle cx="260.8" cy="121.4" r="0.78" fill="#c8783c" opacity="0.71"/><circle cx="217.1" cy="111.7" r="0.72" fill="#c06c38" opacity="0.59"/><circle cx="217.6" cy="126.6" r="0.63" fill="#b86430" opacity="0.49"/><circle cx="231.9" cy="113.4" r="0.74" fill="#b86430" opacity="0.77"/><circle cx="253.9" cy="98.3" r="0.50" fill="#c06c38" opacity="0.48"/><circle cx="228.2" cy="102.2" r="0.74" fill="#b86430" opacity="0.45"/><circle cx="228.3" cy="126.2" r="0.48" fill="#d08848" opacity="0.63"/><circle cx="269.5" cy="98.4" r="0.69" fill="#d08848" opacity="0.70"/><circle cx="214.0" cy="101.0" r="0.49" fill="#c8783c" opacity="0.73"/><circle cx="236.4" cy="100.2" r="0.54" fill="#d08848" opacity="0.73"/><circle cx="261.0" cy="125.6" r="0.47" fill="#c8783c" opacity="0.70"/><circle cx="235.3" cy="113.3" r="0.50" fill="#b86430" opacity="0.61"/><circle cx="245.3" cy="89.8" r="0.48" fill="#b86430" opacity="0.42"/><circle cx="243.1" cy="111.3" r="0.59" fill="#b86430" opacity="0.58"/><circle cx="237.2" cy="128.5" r="0.67" fill="#b86430" opacity="0.66"/><circle cx="246.4" cy="130.5" r="0.57" fill="#d08848" opacity="0.49"/><circle cx="270.5" cy="109.9" r="0.65" fill="#c06c38" opacity="0.43"/><circle cx="272.9" cy="105.8" r="0.62" fill="#d08848" opacity="0.58"/><circle cx="267.1" cy="101.7" r="0.62" fill="#c06c38" opacity="0.61"/><circle cx="219.4" cy="141.4" r="0.60" fill="#c06c38" opacity="0.81"/><circle cx="228.3" cy="133.2" r="0.58" fill="#c06c38" opacity="0.46"/><circle cx="256.1" cy="104.2" r="0.62" fill="#d08848" opacity="0.50"/><circle cx="248.5" cy="134.3" r="0.70" fill="#d08848" opacity="0.69"/><circle cx="222.5" cy="96.6" r="0.59" fill="#b86430" opacity="0.52"/><circle cx="258.7" cy="100.7" r="0.40" fill="#d08848" opacity="0.75"/><circle cx="232.4" cy="118.0" r="0.59" fill="#c06c38" opacity="0.47"/><circle cx="209.2" cy="128.3" r="0.48" fill="#c8783c" opacity="0.44"/><circle cx="240.9" cy="130.0" r="0.48" fill="#c8783c" opacity="0.55"/><circle cx="226.2" cy="91.7" r="0.50" fill="#d08848" opacity="0.76"/><circle cx="247.7" cy="98.0" r="0.63" fill="#d08848" opacity="0.46"/><circle cx="218.5" cy="122.4" r="0.76" fill="#d08848" opacity="0.50"/><circle cx="242.2" cy="130.6" r="0.57" fill="#b86430" opacity="0.81"/><circle cx="216.2" cy="105.5" r="0.52" fill="#d08848" opacity="0.58"/><circle cx="211.4" cy="116.0" r="0.59" fill="#c06c38" opacity="0.78"/><circle cx="217.7" cy="138.4" r="0.59" fill="#c06c38" opacity="0.72"/><circle cx="249.1" cy="89.2" r="0.48" fill="#c8783c" opacity="0.48"/><circle cx="217.9" cy="128.9" r="0.62" fill="#d08848" opacity="0.51"/><circle cx="220.0" cy="93.4" r="0.74" fill="#b86430" opacity="0.51"/><circle cx="233.2" cy="122.5" r="0.51" fill="#c06c38" opacity="0.68"/><circle cx="250.5" cy="123.6" r="0.76" fill="#b86430" opacity="0.77"/><circle cx="233.5" cy="93.5" r="0.69" fill="#b86430" opacity="0.59"/><circle cx="247.1" cy="124.1" r="0.73" fill="#d08848" opacity="0.84"/><circle cx="238.5" cy="106.9" r="0.46" fill="#c06c38" opacity="0.41"/><circle cx="254.3" cy="97.3" r="0.50" fill="#d08848" opacity="0.60"/><circle cx="209.8" cy="123.1" r="0.72" fill="#c8783c" opacity="0.84"/><circle cx="259.1" cy="131.0" r="0.42" fill="#d08848" opacity="0.44"/><circle cx="209.8" cy="107.8" r="0.72" fill="#d08848" opacity="0.80"/><circle cx="228.8" cy="108.0" r="0.42" fill="#c8783c" opacity="0.58"/><circle cx="236.6" cy="130.3" r="0.48" fill="#c06c38" opacity="0.55"/><circle cx="269.1" cy="117.5" r="0.55" fill="#d08848" opacity="0.77"/><circle cx="223.5" cy="127.7" r="0.56" fill="#b86430" opacity="0.82"/><circle cx="209.3" cy="110.2" r="0.53" fill="#d08848" opacity="0.76"/><circle cx="213.8" cy="124.0" r="0.79" fill="#c06c38" opacity="0.44"/><circle cx="229.1" cy="107.9" r="0.68" fill="#d08848" opacity="0.43"/><circle cx="208.9" cy="123.0" r="0.47" fill="#b86430" opacity="0.47"/><circle cx="234.6" cy="127.2" r="0.50" fill="#c06c38" opacity="0.69"/><circle cx="217.7" cy="131.0" r="0.69" fill="#c06c38" opacity="0.62"/><circle cx="235.3" cy="136.0" r="0.74" fill="#c8783c" opacity="0.54"/><circle cx="257.9" cy="124.7" r="0.51" fill="#d08848" opacity="0.74"/><circle cx="232.2" cy="117.0" r="0.55" fill="#d08848" opacity="0.57"/><circle cx="207.5" cy="123.3" r="0.60" fill="#d08848" opacity="0.79"/><circle cx="217.6" cy="119.6" r="0.49" fill="#c8783c" opacity="0.80"/><circle cx="248.8" cy="138.6" r="0.60" fill="#c8783c" opacity="0.42"/><circle cx="274.2" cy="113.7" r="0.52" fill="#c06c38" opacity="0.64"/><circle cx="249.0" cy="92.3" r="0.73" fill="#d08848" opacity="0.46"/><circle cx="228.6" cy="125.9" r="0.46" fill="#d08848" opacity="0.73"/><circle cx="252.0" cy="94.4" r="0.59" fill="#c8783c" opacity="0.70"/><circle cx="257.8" cy="110.5" r="0.75" fill="#b86430" opacity="0.70"/><circle cx="242.6" cy="102.0" r="0.71" fill="#d08848" opacity="0.82"/><circle cx="254.3" cy="103.4" r="0.48" fill="#c06c38" opacity="0.78"/><circle cx="273.6" cy="105.6" r="0.77" fill="#b86430" opacity="0.69"/><circle cx="231.4" cy="125.5" r="0.63" fill="#c06c38" opacity="0.71"/><circle cx="241.6" cy="126.7" r="0.63" fill="#c06c38" opacity="0.76"/><circle cx="214.6" cy="120.9" r="0.51" fill="#c06c38" opacity="0.52"/><circle cx="265.2" cy="92.0" r="0.47" fill="#c06c38" opacity="0.71"/><circle cx="210.8" cy="96.7" r="0.75" fill="#c06c38" opacity="0.74"/><circle cx="235.6" cy="128.3" r="0.67" fill="#b86430" opacity="0.44"/><circle cx="268.0" cy="126.7" r="0.43" fill="#b86430" opacity="0.55"/><circle cx="229.5" cy="107.8" r="0.44" fill="#d08848" opacity="0.79"/><circle cx="267.5" cy="113.2" r="0.78" fill="#b86430" opacity="0.54"/><circle cx="208.2" cy="137.0" r="0.61" fill="#c06c38" opacity="0.51"/><circle cx="247.0" cy="108.9" r="0.52" fill="#c06c38" opacity="0.43"/><circle cx="276.2" cy="97.9" r="0.62" fill="#d08848" opacity="0.42"/><circle cx="271.6" cy="103.2" r="0.78" fill="#c06c38" opacity="0.52"/><circle cx="259.7" cy="93.6" r="0.42" fill="#b86430" opacity="0.83"/><circle cx="262.9" cy="133.6" r="0.76" fill="#c06c38" opacity="0.70"/><circle cx="210.2" cy="96.2" r="0.68" fill="#b86430" opacity="0.54"/><circle cx="226.9" cy="104.6" r="0.52" fill="#c06c38" opacity="0.61"/><circle cx="210.1" cy="97.8" r="0.40" fill="#c8783c" opacity="0.79"/><circle cx="230.7" cy="99.9" r="0.41" fill="#d08848" opacity="0.41"/><circle cx="227.8" cy="99.1" r="0.42" fill="#c8783c" opacity="0.41"/><circle cx="233.6" cy="119.9" r="0.66" fill="#c8783c" opacity="0.42"/><circle cx="222.0" cy="139.4" r="0.41" fill="#d08848" opacity="0.71"/><circle cx="224.9" cy="107.1" r="0.55" fill="#c06c38" opacity="0.72"/><circle cx="224.8" cy="114.3" r="0.53" fill="#c8783c" opacity="0.45"/><circle cx="208.0" cy="141.2" r="0.57" fill="#b86430" opacity="0.61"/><circle cx="247.2" cy="91.5" r="0.70" fill="#c8783c" opacity="0.52"/><circle cx="234.1" cy="141.0" r="0.67" fill="#c8783c" opacity="0.72"/><circle cx="230.2" cy="98.6" r="0.66" fill="#d08848" opacity="0.43"/><circle cx="234.7" cy="99.1" r="0.43" fill="#d08848" opacity="0.77"/><circle cx="262.3" cy="133.4" r="0.48" fill="#b86430" opacity="0.56"/><circle cx="270.0" cy="119.1" r="0.70" fill="#d08848" opacity="0.54"/><circle cx="243.8" cy="119.2" r="0.79" fill="#d08848" opacity="0.48"/><circle cx="272.7" cy="119.8" r="0.71" fill="#c8783c" opacity="0.47"/><circle cx="233.0" cy="119.4" r="0.52" fill="#c8783c" opacity="0.68"/><circle cx="210.2" cy="109.2" r="0.48" fill="#b86430" opacity="0.42"/><circle cx="212.4" cy="90.7" r="0.68" fill="#d08848" opacity="0.80"/><circle cx="208.6" cy="131.6" r="0.70" fill="#d08848" opacity="0.81"/><circle cx="245.4" cy="111.6" r="0.79" fill="#c06c38" opacity="0.67"/><circle cx="215.0" cy="122.3" r="0.69" fill="#d08848" opacity="0.81"/><circle cx="257.9" cy="90.2" r="0.73" fill="#c06c38" opacity="0.79"/><circle cx="248.6" cy="92.2" r="0.73" fill="#c8783c" opacity="0.84"/><circle cx="216.0" cy="120.7" r="0.58" fill="#b86430" opacity="0.44"/><circle cx="240.8" cy="117.3" r="0.69" fill="#d08848" opacity="0.54"/><circle cx="239.9" cy="129.9" r="0.42" fill="#c8783c" opacity="0.70"/><circle cx="266.6" cy="92.3" r="0.72" fill="#d08848" opacity="0.74"/><circle cx="239.1" cy="131.0" r="0.57" fill="#d08848" opacity="0.41"/><circle cx="247.2" cy="101.4" r="0.53" fill="#b86430" opacity="0.53"/><circle cx="264.3" cy="91.1" r="0.75" fill="#b86430" opacity="0.73"/><circle cx="243.4" cy="130.3" r="0.50" fill="#c06c38" opacity="0.71"/><circle cx="236.0" cy="131.4" r="0.77" fill="#c8783c" opacity="0.61"/><circle cx="243.3" cy="105.1" r="0.78" fill="#b86430" opacity="0.59"/><circle cx="271.9" cy="103.1" r="0.54" fill="#d08848" opacity="0.54"/><circle cx="234.9" cy="116.4" r="0.71" fill="#c8783c" opacity="0.72"/><circle cx="272.1" cy="111.9" r="0.45" fill="#c06c38" opacity="0.51"/><circle cx="252.4" cy="103.3" r="0.40" fill="#b86430" opacity="0.72"/><circle cx="237.2" cy="111.3" r="0.52" fill="#c06c38" opacity="0.73"/><circle cx="273.3" cy="97.2" r="0.51" fill="#c06c38" opacity="0.44"/><circle cx="243.5" cy="129.3" r="0.59" fill="#d08848" opacity="0.48"/><circle cx="222.7" cy="121.1" r="0.40" fill="#b86430" opacity="0.50"/><circle cx="213.8" cy="118.2" r="0.56" fill="#c06c38" opacity="0.63"/></g>
<line x1="268.60" y1="140.00" x2="273.10" y2="140.00" stroke="#444" stroke-width="1.1" />
<rect x="280.4" y="88.2" width="70.60" height="55.30" fill="#fbe7be" filter="url(#tx3)"/>
<g filter="url(#bl2)" fill="#dc9c58" opacity="0.3"><circle cx="330.9" cy="137.1" r="2.5"/><circle cx="289.4" cy="137.3" r="1.9"/><circle cx="344.9" cy="96.9" r="2.3"/><circle cx="333.9" cy="119.2" r="2.0"/><circle cx="346.4" cy="121.2" r="2.5"/><circle cx="332.0" cy="133.4" r="2.0"/><circle cx="334.3" cy="118.9" r="2.6"/><circle cx="287.8" cy="126.9" r="1.9"/><circle cx="311.5" cy="101.5" r="2.6"/><circle cx="342.9" cy="140.9" r="1.7"/><circle cx="293.2" cy="122.2" r="2.0"/><circle cx="293.4" cy="140.8" r="1.7"/><circle cx="318.0" cy="142.0" r="2.1"/><circle cx="312.7" cy="131.9" r="2.8"/><circle cx="342.9" cy="115.0" r="2.6"/><circle cx="336.7" cy="111.0" r="1.9"/><circle cx="335.2" cy="98.2" r="1.8"/><circle cx="307.5" cy="95.2" r="2.6"/><circle cx="313.2" cy="138.8" r="2.7"/><circle cx="341.0" cy="141.9" r="1.7"/><circle cx="349.5" cy="98.9" r="2.4"/><circle cx="346.5" cy="141.0" r="1.8"/><circle cx="315.3" cy="89.7" r="2.2"/><circle cx="315.9" cy="140.7" r="2.7"/><circle cx="326.7" cy="98.3" r="2.5"/><circle cx="292.0" cy="114.5" r="2.1"/><circle cx="341.2" cy="103.6" r="2.7"/><circle cx="325.8" cy="116.3" r="2.1"/><circle cx="341.6" cy="122.3" r="2.0"/><circle cx="320.0" cy="95.0" r="3.0"/><circle cx="300.7" cy="123.9" r="2.4"/><circle cx="306.6" cy="134.7" r="1.8"/><circle cx="335.5" cy="109.0" r="1.9"/><circle cx="315.2" cy="101.0" r="1.7"/><circle cx="285.9" cy="139.3" r="2.9"/><circle cx="341.0" cy="117.5" r="2.1"/><circle cx="332.8" cy="97.5" r="1.9"/><circle cx="306.5" cy="96.3" r="1.9"/><circle cx="289.6" cy="118.0" r="1.7"/><circle cx="331.1" cy="94.8" r="3.0"/><circle cx="347.0" cy="116.5" r="2.8"/><circle cx="340.7" cy="124.9" r="2.2"/><circle cx="339.0" cy="113.9" r="2.0"/><circle cx="291.1" cy="129.4" r="1.8"/><circle cx="302.1" cy="101.8" r="1.9"/><circle cx="292.8" cy="93.7" r="2.9"/><circle cx="296.9" cy="129.1" r="2.7"/><circle cx="322.1" cy="117.1" r="2.0"/><circle cx="296.5" cy="94.9" r="1.9"/><circle cx="284.9" cy="141.7" r="2.3"/><circle cx="332.9" cy="141.1" r="2.2"/><circle cx="338.7" cy="122.6" r="2.9"/><circle cx="314.7" cy="127.8" r="2.3"/><circle cx="325.6" cy="110.0" r="1.7"/><circle cx="304.1" cy="139.7" r="2.4"/><circle cx="292.7" cy="105.8" r="2.9"/><circle cx="342.3" cy="142.8" r="2.3"/><circle cx="316.1" cy="95.3" r="2.2"/><circle cx="335.5" cy="119.2" r="1.6"/><circle cx="294.6" cy="89.2" r="2.8"/><circle cx="300.4" cy="138.1" r="2.3"/><circle cx="294.7" cy="127.1" r="1.7"/><circle cx="330.8" cy="93.5" r="2.3"/><circle cx="324.5" cy="140.8" r="2.5"/><circle cx="307.4" cy="94.2" r="2.7"/><circle cx="297.4" cy="119.8" r="2.6"/><circle cx="291.8" cy="104.4" r="2.6"/><circle cx="289.9" cy="102.8" r="2.4"/><circle cx="333.5" cy="114.8" r="1.6"/><circle cx="288.6" cy="140.0" r="1.9"/><circle cx="317.9" cy="124.0" r="2.9"/><circle cx="338.0" cy="119.5" r="2.8"/><circle cx="297.0" cy="111.3" r="2.7"/><circle cx="341.9" cy="95.6" r="2.8"/><circle cx="337.5" cy="113.6" r="2.4"/><circle cx="348.5" cy="141.9" r="2.7"/><circle cx="314.9" cy="136.7" r="2.6"/><circle cx="309.2" cy="111.7" r="2.7"/><circle cx="312.1" cy="139.0" r="1.9"/><circle cx="292.0" cy="115.3" r="2.8"/><circle cx="339.1" cy="113.2" r="2.8"/><circle cx="311.8" cy="122.6" r="1.9"/><circle cx="331.9" cy="90.7" r="2.1"/><circle cx="329.0" cy="95.8" r="2.9"/></g>
<g filter="url(#bl)" stroke-linecap="round" fill="none"><path d="M348.6,113.5L348.8,111.4M348.6,113.5L350.5,112.9M348.6,113.5L348.7,115.0M348.6,113.5L345.4,113.4" stroke="#bc6832" stroke-width="0.84" opacity="0.77"/><circle cx="348.6" cy="113.5" r="0.52" fill="#bc6832" stroke="none" opacity="0.77"/><path d="M328.8,121.6L327.0,119.8M328.8,121.6L331.2,121.2M328.8,121.6L330.2,122.5M328.8,121.6L327.1,123.5" stroke="#bc6832" stroke-width="0.86" opacity="0.58"/><circle cx="328.8" cy="121.6" r="0.68" fill="#bc6832" stroke="none" opacity="0.58"/><path d="M330.2,137.5L330.7,138.7M330.2,137.5L328.8,137.5M330.2,137.5L329.2,134.7M330.2,137.5L332.0,136.8" stroke="#d07e40" stroke-width="0.91" opacity="0.80"/><circle cx="330.2" cy="137.5" r="0.79" fill="#d07e40" stroke="none" opacity="0.80"/><path d="M289.9,137.9L288.0,137.9M289.9,137.9L290.2,136.2M289.9,137.9L291.4,138.4M289.9,137.9L289.6,139.7" stroke="#c4682e" stroke-width="0.70" opacity="0.72"/><circle cx="289.9" cy="137.9" r="0.60" fill="#c4682e" stroke="none" opacity="0.72"/><path d="M345.5,97.4L346.8,97.6M345.5,97.4L343.7,99.1M345.5,97.4L345.1,96.1" stroke="#bc6832" stroke-width="0.77" opacity="0.57"/><circle cx="345.5" cy="97.4" r="0.66" fill="#bc6832" stroke="none" opacity="0.57"/><path d="M339.4,122.3L340.5,120.2M339.4,122.3L340.3,124.4M339.4,122.3L337.8,123.2" stroke="#bc6832" stroke-width="0.75" opacity="0.47"/><circle cx="339.4" cy="122.3" r="0.51" fill="#bc6832" stroke="none" opacity="0.47"/><path d="M291.1,113.6L292.3,113.7M291.1,113.6L291.3,115.3M291.1,113.6L288.5,113.6M291.1,113.6L291.9,112.1" stroke="#bc6832" stroke-width="0.83" opacity="0.65"/><circle cx="291.1" cy="113.6" r="0.50" fill="#bc6832" stroke="none" opacity="0.65"/><path d="M335.1,118.5L337.4,117.1M335.1,118.5L335.0,120.2M335.1,118.5L333.0,118.8" stroke="#c4682e" stroke-width="0.65" opacity="0.46"/><circle cx="335.1" cy="118.5" r="0.77" fill="#c4682e" stroke="none" opacity="0.46"/><path d="M333.4,120.1L330.4,119.0M333.4,120.1L334.2,118.9M333.4,120.1L335.8,119.7M333.4,120.1L332.8,121.8" stroke="#b8602a" stroke-width="0.92" opacity="0.59"/><circle cx="333.4" cy="120.1" r="0.83" fill="#b8602a" stroke="none" opacity="0.59"/><path d="M346.8,121.5L348.0,122.9M346.8,121.5L344.6,120.0" stroke="#cc7636" stroke-width="0.72" opacity="0.70"/><circle cx="346.8" cy="121.5" r="0.60" fill="#cc7636" stroke="none" opacity="0.70"/><path d="M288.2,110.5L285.9,110.3M288.2,110.5L288.9,108.0M288.2,110.5L289.4,110.6M288.2,110.5L289.5,112.8" stroke="#bc6832" stroke-width="0.65" opacity="0.85"/><circle cx="288.2" cy="110.5" r="0.64" fill="#bc6832" stroke="none" opacity="0.85"/><path d="M347.5,124.3L346.3,126.5M347.5,124.3L346.4,124.9M347.5,124.3L347.4,122.0M347.5,124.3L348.7,124.1" stroke="#ac5826" stroke-width="0.72" opacity="0.45"/><circle cx="347.5" cy="124.3" r="0.59" fill="#ac5826" stroke="none" opacity="0.45"/><path d="M331.2,132.8L332.6,131.8M331.2,132.8L331.4,135.7M331.2,132.8L329.9,130.8" stroke="#bc6832" stroke-width="0.76" opacity="0.47"/><circle cx="331.2" cy="132.8" r="0.80" fill="#bc6832" stroke="none" opacity="0.47"/><path d="M297.6,117.8L298.4,114.7M297.6,117.8L299.3,118.1M297.6,117.8L295.3,118.7" stroke="#bc6832" stroke-width="0.71" opacity="0.79"/><circle cx="297.6" cy="117.8" r="0.72" fill="#bc6832" stroke="none" opacity="0.79"/><path d="M335.0,119.7L332.4,119.4M335.0,119.7L336.1,116.7M335.0,119.7L334.6,122.7" stroke="#b8602a" stroke-width="0.64" opacity="0.42"/><circle cx="335.0" cy="119.7" r="0.82" fill="#b8602a" stroke="none" opacity="0.42"/><path d="M288.5,126.9L288.8,124.9M288.5,126.9L286.8,128.5" stroke="#d07e40" stroke-width="0.65" opacity="0.61"/><circle cx="288.5" cy="126.9" r="0.66" fill="#d07e40" stroke="none" opacity="0.61"/><path d="M311.7,101.8L311.8,104.9M311.7,101.8L310.4,101.2M311.7,101.8L313.5,100.3M311.7,101.8L313.9,102.0" stroke="#cc7636" stroke-width="0.88" opacity="0.47"/><circle cx="311.7" cy="101.8" r="0.63" fill="#cc7636" stroke="none" opacity="0.47"/><path d="M346.1,97.4L344.6,98.0M346.1,97.4L347.7,95.1M346.1,97.4L349.0,96.5M346.1,97.4L347.5,99.6" stroke="#bc6832" stroke-width="0.94" opacity="0.62"/><circle cx="346.1" cy="97.4" r="0.72" fill="#bc6832" stroke="none" opacity="0.62"/><path d="M343.7,128.2L344.6,125.8M343.7,128.2L345.3,129.5M343.7,128.2L344.8,130.9M343.7,128.2L342.0,127.6" stroke="#ac5826" stroke-width="0.84" opacity="0.71"/><circle cx="343.7" cy="128.2" r="0.70" fill="#ac5826" stroke="none" opacity="0.71"/><path d="M343.2,140.8L342.0,139.8M343.2,140.8L343.8,138.9M343.2,140.8L343.4,143.0" stroke="#d07e40" stroke-width="0.82" opacity="0.61"/><circle cx="343.2" cy="140.8" r="0.52" fill="#d07e40" stroke="none" opacity="0.61"/><path d="M292.5,123.2L293.4,122.3M292.5,123.2L290.6,123.7" stroke="#bc6832" stroke-width="0.72" opacity="0.63"/><circle cx="292.5" cy="123.2" r="0.80" fill="#bc6832" stroke="none" opacity="0.63"/><path d="M293.8,141.2L292.6,142.1M293.8,141.2L295.4,140.7" stroke="#c4682e" stroke-width="0.75" opacity="0.43"/><circle cx="293.8" cy="141.2" r="0.54" fill="#c4682e" stroke="none" opacity="0.43"/><path d="M318.1,141.3L316.2,143.0M318.1,141.3L318.7,140.0M318.1,141.3L320.1,143.0" stroke="#b8602a" stroke-width="0.84" opacity="0.79"/><circle cx="318.1" cy="141.3" r="0.60" fill="#b8602a" stroke="none" opacity="0.79"/><path d="M312.9,131.3L312.6,129.3M312.9,131.3L314.9,132.2M312.9,131.3L310.3,131.5" stroke="#b8602a" stroke-width="0.69" opacity="0.61"/><circle cx="312.9" cy="131.3" r="0.55" fill="#b8602a" stroke="none" opacity="0.61"/><path d="M308.3,135.9L307.5,137.2M308.3,135.9L309.2,134.2M308.3,135.9L311.2,136.1" stroke="#d07e40" stroke-width="0.74" opacity="0.63"/><circle cx="308.3" cy="135.9" r="0.68" fill="#d07e40" stroke="none" opacity="0.63"/><path d="M342.8,115.6L341.7,117.8M342.8,115.6L340.1,114.1M342.8,115.6L344.0,115.3M342.8,115.6L343.4,118.6" stroke="#b8602a" stroke-width="0.71" opacity="0.83"/><circle cx="342.8" cy="115.6" r="0.55" fill="#b8602a" stroke="none" opacity="0.83"/><path d="M336.4,110.9L337.3,112.3M336.4,110.9L334.8,110.5" stroke="#ac5826" stroke-width="0.88" opacity="0.52"/><circle cx="336.4" cy="110.9" r="0.84" fill="#ac5826" stroke="none" opacity="0.52"/><path d="M335.2,98.7L336.1,101.2M335.2,98.7L332.9,98.7M335.2,98.7L336.0,96.3M335.2,98.7L338.1,98.5" stroke="#c4682e" stroke-width="0.75" opacity="0.58"/><circle cx="335.2" cy="98.7" r="0.59" fill="#c4682e" stroke="none" opacity="0.58"/><path d="M306.6,94.6L304.0,93.9M306.6,94.6L308.1,93.5M306.6,94.6L309.0,96.1M306.6,94.6L305.5,97.0" stroke="#d07e40" stroke-width="0.80" opacity="0.73"/><circle cx="306.6" cy="94.6" r="0.70" fill="#d07e40" stroke="none" opacity="0.73"/><path d="M338.0,104.0L337.2,105.3M338.0,104.0L337.3,102.9M338.0,104.0L339.8,103.5M338.0,104.0L338.7,105.8" stroke="#ac5826" stroke-width="0.62" opacity="0.56"/><circle cx="338.0" cy="104.0" r="0.64" fill="#ac5826" stroke="none" opacity="0.56"/><path d="M312.8,137.9L311.4,136.9M312.8,137.9L315.0,137.2M312.8,137.9L310.5,139.0" stroke="#bc6832" stroke-width="0.90" opacity="0.74"/><circle cx="312.8" cy="137.9" r="0.82" fill="#bc6832" stroke="none" opacity="0.74"/><path d="M341.8,141.9L340.1,140.8M341.8,141.9L341.8,140.6M341.8,141.9L342.7,142.9M341.8,141.9L339.9,143.0" stroke="#d07e40" stroke-width="0.68" opacity="0.54"/><circle cx="341.8" cy="141.9" r="0.53" fill="#d07e40" stroke="none" opacity="0.54"/><path d="M348.3,124.0L348.8,122.9M348.3,124.0L349.9,126.6M348.3,124.0L345.4,125.1" stroke="#ac5826" stroke-width="0.93" opacity="0.43"/><circle cx="348.3" cy="124.0" r="0.75" fill="#ac5826" stroke="none" opacity="0.43"/><path d="M348.8,98.6L348.2,96.1M348.8,98.6L347.4,100.7" stroke="#c4682e" stroke-width="0.78" opacity="0.40"/><circle cx="348.8" cy="98.6" r="0.74" fill="#c4682e" stroke="none" opacity="0.40"/><path d="M340.9,129.0L343.6,129.4M340.9,129.0L338.7,129.7" stroke="#b8602a" stroke-width="0.74" opacity="0.81"/><circle cx="340.9" cy="129.0" r="0.74" fill="#b8602a" stroke="none" opacity="0.81"/><path d="M300.7,104.0L301.5,105.4M300.7,104.0L299.0,106.2M300.7,104.0L300.1,102.7M300.7,104.0L302.4,102.1" stroke="#cc7636" stroke-width="0.87" opacity="0.45"/><circle cx="300.7" cy="104.0" r="0.73" fill="#cc7636" stroke="none" opacity="0.45"/><path d="M320.6,89.9L319.3,90.5M320.6,89.9L322.8,89.0" stroke="#c4682e" stroke-width="0.93" opacity="0.73"/><circle cx="320.6" cy="89.9" r="0.73" fill="#c4682e" stroke="none" opacity="0.73"/><path d="M299.2,101.3L297.3,98.7M299.2,101.3L301.1,102.5" stroke="#bc6832" stroke-width="0.93" opacity="0.75"/><circle cx="299.2" cy="101.3" r="0.57" fill="#bc6832" stroke="none" opacity="0.75"/><path d="M346.8,140.6L347.8,139.0M346.8,140.6L347.2,142.3M346.8,140.6L344.7,142.0" stroke="#bc6832" stroke-width="0.73" opacity="0.52"/><circle cx="346.8" cy="140.6" r="0.58" fill="#bc6832" stroke="none" opacity="0.52"/><path d="M314.4,89.5L317.3,88.7M314.4,89.5L314.7,92.0M314.4,89.5L311.2,89.2" stroke="#ac5826" stroke-width="0.94" opacity="0.82"/><circle cx="314.4" cy="89.5" r="0.74" fill="#ac5826" stroke="none" opacity="0.82"/><path d="M315.4,140.5L317.7,140.0M315.4,140.5L314.3,143.0M315.4,140.5L313.2,139.0M315.4,140.5L316.2,139.6" stroke="#b8602a" stroke-width="0.63" opacity="0.70"/><circle cx="315.4" cy="140.5" r="0.84" fill="#b8602a" stroke="none" opacity="0.70"/><path d="M327.2,97.5L327.0,99.3M327.2,97.5L325.0,97.8M327.2,97.5L328.2,95.9M327.2,97.5L330.1,98.2" stroke="#c4682e" stroke-width="0.63" opacity="0.74"/><circle cx="327.2" cy="97.5" r="0.74" fill="#c4682e" stroke="none" opacity="0.74"/><path d="M291.6,114.2L291.6,115.6M291.6,114.2L289.1,114.1M291.6,114.2L292.7,112.3M291.6,114.2L292.8,115.0" stroke="#d07e40" stroke-width="0.64" opacity="0.77"/><circle cx="291.6" cy="114.2" r="0.56" fill="#d07e40" stroke="none" opacity="0.77"/><path d="M340.6,104.1L342.1,103.9M340.6,104.1L342.6,106.3M340.6,104.1L337.9,105.4M340.6,104.1L340.7,102.8" stroke="#d07e40" stroke-width="0.84" opacity="0.48"/><circle cx="340.6" cy="104.1" r="0.69" fill="#d07e40" stroke="none" opacity="0.48"/><path d="M285.5,124.7L288.5,124.9M285.5,124.7L283.9,125.9M285.5,124.7L285.9,122.5" stroke="#d07e40" stroke-width="0.80" opacity="0.57"/><circle cx="285.5" cy="124.7" r="0.61" fill="#d07e40" stroke="none" opacity="0.57"/><path d="M326.2,115.8L324.5,114.8M326.2,115.8L328.2,116.0" stroke="#d07e40" stroke-width="0.90" opacity="0.68"/><circle cx="326.2" cy="115.8" r="0.63" fill="#d07e40" stroke="none" opacity="0.68"/><path d="M341.0,123.2L338.5,122.2M341.0,123.2L342.3,121.3M341.0,123.2L342.2,125.2" stroke="#ac5826" stroke-width="0.72" opacity="0.75"/><circle cx="341.0" cy="123.2" r="0.76" fill="#ac5826" stroke="none" opacity="0.75"/><path d="M319.9,94.3L319.2,92.7M319.9,94.3L319.4,97.0" stroke="#ac5826" stroke-width="0.67" opacity="0.74"/><circle cx="319.9" cy="94.3" r="0.67" fill="#ac5826" stroke="none" opacity="0.74"/><path d="M300.1,123.3L301.2,122.2M300.1,123.3L300.0,124.6M300.1,123.3L298.1,124.1" stroke="#bc6832" stroke-width="0.88" opacity="0.63"/><circle cx="300.1" cy="123.3" r="0.63" fill="#bc6832" stroke="none" opacity="0.63"/><path d="M307.4,134.9L308.3,131.9M307.4,134.9L309.7,136.5M307.4,134.9L305.3,137.0M307.4,134.9L305.0,135.0" stroke="#b8602a" stroke-width="0.79" opacity="0.80"/><circle cx="307.4" cy="134.9" r="0.77" fill="#b8602a" stroke="none" opacity="0.80"/><path d="M335.3,108.2L337.1,107.5M335.3,108.2L333.0,110.0" stroke="#b8602a" stroke-width="0.78" opacity="0.48"/><circle cx="335.3" cy="108.2" r="0.65" fill="#b8602a" stroke="none" opacity="0.48"/><path d="M316.2,101.6L316.5,99.1M316.2,101.6L317.7,103.4M316.2,101.6L314.9,101.6" stroke="#bc6832" stroke-width="0.74" opacity="0.81"/><circle cx="316.2" cy="101.6" r="0.76" fill="#bc6832" stroke="none" opacity="0.81"/><path d="M286.0,140.2L287.7,139.2M286.0,140.2L287.1,141.5M286.0,140.2L284.7,139.8" stroke="#cc7636" stroke-width="0.87" opacity="0.82"/><circle cx="286.0" cy="140.2" r="0.51" fill="#cc7636" stroke="none" opacity="0.82"/><path d="M299.1,119.0L300.7,117.4M299.1,119.0L301.8,119.9M299.1,119.0L297.7,119.5M299.1,119.0L298.1,117.9" stroke="#cc7636" stroke-width="0.62" opacity="0.76"/><circle cx="299.1" cy="119.0" r="0.84" fill="#cc7636" stroke="none" opacity="0.76"/><path d="M340.3,117.7L340.9,116.6M340.3,117.7L339.3,119.0" stroke="#b8602a" stroke-width="0.86" opacity="0.68"/><circle cx="340.3" cy="117.7" r="0.57" fill="#b8602a" stroke="none" opacity="0.68"/><path d="M332.5,96.8L330.9,94.9M332.5,96.8L333.5,98.4" stroke="#ac5826" stroke-width="0.71" opacity="0.60"/><circle cx="332.5" cy="96.8" r="0.59" fill="#ac5826" stroke="none" opacity="0.60"/><path d="M306.7,97.0L309.9,97.4M306.7,97.0L305.5,97.6M306.7,97.0L306.0,95.2" stroke="#bc6832" stroke-width="0.78" opacity="0.42"/><circle cx="306.7" cy="97.0" r="0.60" fill="#bc6832" stroke="none" opacity="0.42"/><path d="M289.7,117.1L289.3,118.2M289.7,117.1L287.2,117.0M289.7,117.1L291.1,115.9" stroke="#c4682e" stroke-width="0.85" opacity="0.60"/><circle cx="289.7" cy="117.1" r="0.83" fill="#c4682e" stroke="none" opacity="0.60"/><path d="M331.6,94.5L329.1,93.7M331.6,94.5L334.8,95.0M331.6,94.5L331.8,97.5" stroke="#bc6832" stroke-width="0.94" opacity="0.74"/><circle cx="331.6" cy="94.5" r="0.67" fill="#bc6832" stroke="none" opacity="0.74"/><path d="M331.5,101.0L330.0,100.1M331.5,101.0L333.7,100.7M331.5,101.0L334.2,102.2M331.5,101.0L328.6,102.3" stroke="#b8602a" stroke-width="0.85" opacity="0.70"/><circle cx="331.5" cy="101.0" r="0.66" fill="#b8602a" stroke="none" opacity="0.70"/><path d="M347.6,115.5L348.4,114.0M347.6,115.5L344.9,116.6" stroke="#cc7636" stroke-width="0.92" opacity="0.68"/><circle cx="347.6" cy="115.5" r="0.72" fill="#cc7636" stroke="none" opacity="0.68"/><path d="M340.1,124.9L341.3,125.5M340.1,124.9L340.5,127.8M340.1,124.9L338.3,125.3M340.1,124.9L340.7,122.8" stroke="#c4682e" stroke-width="0.92" opacity="0.41"/><circle cx="340.1" cy="124.9" r="0.57" fill="#c4682e" stroke="none" opacity="0.41"/><path d="M338.2,102.4L339.0,101.1M338.2,102.4L339.6,103.9M338.2,102.4L336.4,104.1" stroke="#bc6832" stroke-width="0.87" opacity="0.82"/><circle cx="338.2" cy="102.4" r="0.79" fill="#bc6832" stroke="none" opacity="0.82"/><path d="M288.7,102.8L288.1,104.5M288.7,102.8L290.3,102.1" stroke="#c4682e" stroke-width="0.82" opacity="0.83"/><circle cx="288.7" cy="102.8" r="0.71" fill="#c4682e" stroke="none" opacity="0.83"/><path d="M339.4,114.1L340.6,114.1M339.4,114.1L337.3,115.1" stroke="#d07e40" stroke-width="0.67" opacity="0.59"/><circle cx="339.4" cy="114.1" r="0.69" fill="#d07e40" stroke="none" opacity="0.59"/><path d="M290.8,129.5L291.6,128.4M290.8,129.5L289.3,131.6" stroke="#cc7636" stroke-width="0.93" opacity="0.46"/><circle cx="290.8" cy="129.5" r="0.58" fill="#cc7636" stroke="none" opacity="0.46"/><path d="M301.5,102.4L301.2,104.4M301.5,102.4L300.9,99.8M301.5,102.4L304.5,101.3" stroke="#c4682e" stroke-width="0.85" opacity="0.44"/><circle cx="301.5" cy="102.4" r="0.73" fill="#c4682e" stroke="none" opacity="0.44"/><path d="M292.3,93.5L292.5,96.5M292.3,93.5L289.2,93.3M292.3,93.5L293.3,91.6" stroke="#bc6832" stroke-width="0.85" opacity="0.72"/><circle cx="292.3" cy="93.5" r="0.79" fill="#bc6832" stroke="none" opacity="0.72"/><path d="M344.1,117.6L342.9,115.0M344.1,117.6L346.4,118.2M344.1,117.6L343.6,119.4" stroke="#cc7636" stroke-width="0.89" opacity="0.55"/><circle cx="344.1" cy="117.6" r="0.80" fill="#cc7636" stroke="none" opacity="0.55"/><path d="M297.4,129.6L295.8,132.3M297.4,129.6L298.4,127.7" stroke="#ac5826" stroke-width="0.73" opacity="0.41"/><circle cx="297.4" cy="129.6" r="0.75" fill="#ac5826" stroke="none" opacity="0.41"/><path d="M322.6,118.0L324.8,117.1M322.6,118.0L323.8,120.3M322.6,118.0L321.5,119.4M322.6,118.0L321.4,116.7" stroke="#c4682e" stroke-width="0.67" opacity="0.50"/><circle cx="322.6" cy="118.0" r="0.54" fill="#c4682e" stroke="none" opacity="0.50"/><path d="M297.3,94.3L298.2,93.2M297.3,94.3L300.1,95.0M297.3,94.3L295.8,96.1" stroke="#ac5826" stroke-width="0.89" opacity="0.72"/><circle cx="297.3" cy="94.3" r="0.84" fill="#ac5826" stroke="none" opacity="0.72"/><path d="M284.6,141.7L281.9,142.2M284.6,141.7L287.1,141.3" stroke="#c4682e" stroke-width="0.78" opacity="0.49"/><circle cx="284.6" cy="141.7" r="0.84" fill="#c4682e" stroke="none" opacity="0.49"/><path d="M338.3,137.2L336.0,139.2M338.3,137.2L338.0,134.2M338.3,137.2L339.9,135.8M338.3,137.2L339.8,139.4" stroke="#bc6832" stroke-width="0.65" opacity="0.65"/><circle cx="338.3" cy="137.2" r="0.60" fill="#bc6832" stroke="none" opacity="0.65"/><path d="M333.3,141.5L331.5,143.0M333.3,141.5L332.7,140.3M333.3,141.5L335.2,140.3" stroke="#d07e40" stroke-width="0.95" opacity="0.50"/><circle cx="333.3" cy="141.5" r="0.79" fill="#d07e40" stroke="none" opacity="0.50"/><path d="M342.0,96.4L341.0,97.2M342.0,96.4L341.4,95.2M342.0,96.4L344.6,94.7M342.0,96.4L342.2,98.2" stroke="#ac5826" stroke-width="0.69" opacity="0.76"/><circle cx="342.0" cy="96.4" r="0.79" fill="#ac5826" stroke="none" opacity="0.76"/><path d="M339.4,123.1L336.9,124.7M339.4,123.1L338.9,120.0M339.4,123.1L341.0,123.7" stroke="#d07e40" stroke-width="0.94" opacity="0.51"/><circle cx="339.4" cy="123.1" r="0.81" fill="#d07e40" stroke="none" opacity="0.51"/><path d="M315.7,127.8L312.8,127.5M315.7,127.8L315.7,124.8M315.7,127.8L316.7,128.6M315.7,127.8L314.7,129.8" stroke="#d07e40" stroke-width="0.72" opacity="0.75"/><circle cx="315.7" cy="127.8" r="0.60" fill="#d07e40" stroke="none" opacity="0.75"/><path d="M325.6,109.9L325.5,111.4M325.6,109.9L326.2,107.2" stroke="#ac5826" stroke-width="0.88" opacity="0.50"/><circle cx="325.6" cy="109.9" r="0.54" fill="#ac5826" stroke="none" opacity="0.50"/><path d="M304.0,139.2L306.6,140.8M304.0,139.2L302.9,137.6" stroke="#d07e40" stroke-width="0.87" opacity="0.56"/><circle cx="304.0" cy="139.2" r="0.67" fill="#d07e40" stroke="none" opacity="0.56"/><path d="M292.3,106.7L291.4,105.0M292.3,106.7L293.3,105.8M292.3,106.7L293.2,108.8M292.3,106.7L290.9,107.7" stroke="#ac5826" stroke-width="0.70" opacity="0.73"/><circle cx="292.3" cy="106.7" r="0.70" fill="#ac5826" stroke="none" opacity="0.73"/><path d="M343.1,142.5L342.2,140.3M343.1,142.5L346.0,142.6M343.1,142.5L343.1,143.0" stroke="#d07e40" stroke-width="0.66" opacity="0.44"/><circle cx="343.1" cy="142.5" r="0.62" fill="#d07e40" stroke="none" opacity="0.44"/><path d="M316.3,94.4L317.3,93.6M316.3,94.4L317.8,96.9M316.3,94.4L314.7,96.7M316.3,94.4L313.9,94.0" stroke="#c4682e" stroke-width="0.62" opacity="0.83"/><circle cx="316.3" cy="94.4" r="0.65" fill="#c4682e" stroke="none" opacity="0.83"/><path d="M335.9,119.7L334.6,120.5M335.9,119.7L335.8,117.8M335.9,119.7L338.4,120.4" stroke="#c4682e" stroke-width="0.69" opacity="0.53"/><circle cx="335.9" cy="119.7" r="0.74" fill="#c4682e" stroke="none" opacity="0.53"/><path d="M295.0,90.0L297.3,89.3M295.0,90.0L294.6,93.2M295.0,90.0L292.4,89.5" stroke="#b8602a" stroke-width="0.60" opacity="0.79"/><circle cx="295.0" cy="90.0" r="0.77" fill="#b8602a" stroke="none" opacity="0.79"/><path d="M301.0,139.0L302.2,139.8M301.0,139.0L299.6,139.4" stroke="#b8602a" stroke-width="0.74" opacity="0.79"/><circle cx="301.0" cy="139.0" r="0.75" fill="#b8602a" stroke="none" opacity="0.79"/><path d="M294.4,126.4L296.6,125.8M294.4,126.4L295.3,128.5M294.4,126.4L292.0,126.9" stroke="#b8602a" stroke-width="0.61" opacity="0.59"/><circle cx="294.4" cy="126.4" r="0.67" fill="#b8602a" stroke="none" opacity="0.59"/><path d="M330.7,92.8L332.1,94.3M330.7,92.8L329.9,91.5" stroke="#b8602a" stroke-width="0.87" opacity="0.64"/><circle cx="330.7" cy="92.8" r="0.69" fill="#b8602a" stroke="none" opacity="0.64"/><path d="M307.0,106.4L306.1,107.5M307.0,106.4L308.4,105.9" stroke="#d07e40" stroke-width="0.76" opacity="0.77"/><circle cx="307.0" cy="106.4" r="0.69" fill="#d07e40" stroke="none" opacity="0.77"/><path d="M328.9,137.7L330.9,138.5M328.9,137.7L326.7,136.2" stroke="#b8602a" stroke-width="0.80" opacity="0.67"/><circle cx="328.9" cy="137.7" r="0.71" fill="#b8602a" stroke="none" opacity="0.67"/><path d="M347.7,140.4L350.0,138.8M347.7,140.4L349.6,141.9M347.7,140.4L345.4,141.5" stroke="#cc7636" stroke-width="0.73" opacity="0.51"/><circle cx="347.7" cy="140.4" r="0.57" fill="#cc7636" stroke="none" opacity="0.51"/><path d="M323.6,141.3L321.8,141.2M323.6,141.3L323.9,139.8M323.6,141.3L324.8,141.8" stroke="#d07e40" stroke-width="0.91" opacity="0.45"/><circle cx="323.6" cy="141.3" r="0.51" fill="#d07e40" stroke="none" opacity="0.45"/><path d="M307.8,93.3L306.5,91.2M307.8,93.3L309.3,94.1M307.8,93.3L306.2,93.8" stroke="#b8602a" stroke-width="0.75" opacity="0.75"/><circle cx="307.8" cy="93.3" r="0.79" fill="#b8602a" stroke="none" opacity="0.75"/><path d="M296.4,119.2L296.4,121.1M296.4,119.2L294.5,118.6M296.4,119.2L297.4,117.1" stroke="#cc7636" stroke-width="0.62" opacity="0.48"/><circle cx="296.4" cy="119.2" r="0.60" fill="#cc7636" stroke="none" opacity="0.48"/><path d="M291.9,104.2L290.4,103.0M291.9,104.2L293.0,101.4M291.9,104.2L294.4,104.8M291.9,104.2L290.4,106.0" stroke="#c4682e" stroke-width="0.82" opacity="0.73"/><circle cx="291.9" cy="104.2" r="0.83" fill="#c4682e" stroke="none" opacity="0.73"/><path d="M298.0,138.9L296.6,138.9M298.0,138.9L300.0,138.7" stroke="#b8602a" stroke-width="0.73" opacity="0.73"/><circle cx="298.0" cy="138.9" r="0.79" fill="#b8602a" stroke="none" opacity="0.73"/><path d="M342.1,127.3L340.8,128.6M342.1,127.3L341.9,126.0M342.1,127.3L344.3,126.7M342.1,127.3L343.9,128.1" stroke="#b8602a" stroke-width="0.67" opacity="0.47"/><circle cx="342.1" cy="127.3" r="0.76" fill="#b8602a" stroke="none" opacity="0.47"/><path d="M289.0,101.9L290.1,102.7M289.0,101.9L288.8,104.0M289.0,101.9L286.3,102.1M289.0,101.9L289.1,99.8" stroke="#bc6832" stroke-width="0.86" opacity="0.66"/><circle cx="289.0" cy="101.9" r="0.80" fill="#bc6832" stroke="none" opacity="0.66"/><path d="M333.8,115.5L332.3,116.0M333.8,115.5L335.5,114.8M333.8,115.5L334.2,118.4" stroke="#cc7636" stroke-width="0.73" opacity="0.74"/><circle cx="333.8" cy="115.5" r="0.53" fill="#cc7636" stroke="none" opacity="0.74"/><path d="M289.6,140.3L290.3,142.4M289.6,140.3L288.5,139.7M289.6,140.3L290.6,138.9" stroke="#bc6832" stroke-width="0.73" opacity="0.44"/><circle cx="289.6" cy="140.3" r="0.51" fill="#bc6832" stroke="none" opacity="0.44"/><path d="M317.8,124.1L318.1,121.6M317.8,124.1L318.7,126.1" stroke="#b8602a" stroke-width="0.89" opacity="0.70"/><circle cx="317.8" cy="124.1" r="0.76" fill="#b8602a" stroke="none" opacity="0.70"/><path d="M337.0,120.5L338.1,121.8M337.0,120.5L336.3,123.0M337.0,120.5L334.9,119.3M337.0,120.5L337.9,118.3" stroke="#c4682e" stroke-width="0.77" opacity="0.59"/><circle cx="337.0" cy="120.5" r="0.70" fill="#c4682e" stroke="none" opacity="0.59"/><path d="M296.4,111.3L297.2,112.8M296.4,111.3L294.9,113.8M296.4,111.3L294.8,109.3M296.4,111.3L297.8,111.2" stroke="#ac5826" stroke-width="0.67" opacity="0.55"/><circle cx="296.4" cy="111.3" r="0.75" fill="#ac5826" stroke="none" opacity="0.55"/><path d="M341.0,94.9L341.8,93.2M341.0,94.9L340.1,97.5" stroke="#c4682e" stroke-width="0.65" opacity="0.54"/><circle cx="341.0" cy="94.9" r="0.75" fill="#c4682e" stroke="none" opacity="0.54"/><path d="M346.5,123.4L347.7,122.3M346.5,123.4L344.6,125.7" stroke="#b8602a" stroke-width="0.90" opacity="0.79"/><circle cx="346.5" cy="123.4" r="0.83" fill="#b8602a" stroke="none" opacity="0.79"/><path d="M349.4,100.6L350.5,102.9M349.4,100.6L349.1,98.6" stroke="#ac5826" stroke-width="0.75" opacity="0.44"/><circle cx="349.4" cy="100.6" r="0.73" fill="#ac5826" stroke="none" opacity="0.44"/><path d="M336.8,114.3L338.9,116.3M336.8,114.3L334.8,112.2" stroke="#c4682e" stroke-width="0.63" opacity="0.54"/><circle cx="336.8" cy="114.3" r="0.59" fill="#c4682e" stroke="none" opacity="0.54"/><path d="M347.9,142.0L350.4,140.8M347.9,142.0L348.9,143.0M347.9,142.0L346.6,142.6M347.9,142.0L347.7,140.8" stroke="#c4682e" stroke-width="0.61" opacity="0.72"/><circle cx="347.9" cy="142.0" r="0.62" fill="#c4682e" stroke="none" opacity="0.72"/><path d="M314.0,137.0L312.7,136.9M314.0,137.0L315.4,135.3M314.0,137.0L315.7,137.6M314.0,137.0L314.1,139.4" stroke="#b8602a" stroke-width="0.74" opacity="0.75"/><circle cx="314.0" cy="137.0" r="0.59" fill="#b8602a" stroke="none" opacity="0.75"/><path d="M309.7,111.9L308.5,110.2M309.7,111.9L312.0,111.7" stroke="#ac5826" stroke-width="0.62" opacity="0.55"/><circle cx="309.7" cy="111.9" r="0.80" fill="#ac5826" stroke="none" opacity="0.55"/><path d="M342.6,94.7L342.2,92.1M342.6,94.7L344.8,92.7M342.6,94.7L343.0,97.8" stroke="#bc6832" stroke-width="0.63" opacity="0.69"/><circle cx="342.6" cy="94.7" r="0.64" fill="#bc6832" stroke="none" opacity="0.69"/><path d="M283.1,141.5L285.1,140.8M283.1,141.5L281.3,143.0" stroke="#bc6832" stroke-width="0.85" opacity="0.46"/><circle cx="283.1" cy="141.5" r="0.80" fill="#bc6832" stroke="none" opacity="0.46"/><path d="M306.8,120.6L308.8,120.7M306.8,120.6L305.1,123.1M306.8,120.6L306.6,118.5" stroke="#ac5826" stroke-width="0.84" opacity="0.57"/><circle cx="306.8" cy="120.6" r="0.68" fill="#ac5826" stroke="none" opacity="0.57"/><path d="M312.7,138.2L312.6,136.9M312.7,138.2L315.6,139.2M312.7,138.2L310.7,138.6" stroke="#bc6832" stroke-width="0.66" opacity="0.80"/><circle cx="312.7" cy="138.2" r="0.57" fill="#bc6832" stroke="none" opacity="0.80"/><path d="M287.5,102.8L285.8,105.3M287.5,102.8L284.9,101.3M287.5,102.8L290.0,101.3" stroke="#b8602a" stroke-width="0.79" opacity="0.81"/><circle cx="287.5" cy="102.8" r="0.83" fill="#b8602a" stroke="none" opacity="0.81"/><path d="M292.0,114.7L293.2,112.1M292.0,114.7L290.1,117.1" stroke="#d07e40" stroke-width="0.69" opacity="0.79"/><circle cx="292.0" cy="114.7" r="0.64" fill="#d07e40" stroke="none" opacity="0.79"/><path d="M339.9,112.3L341.4,112.7M339.9,112.3L338.4,113.5M339.9,112.3L337.3,111.3" stroke="#c4682e" stroke-width="0.69" opacity="0.60"/><circle cx="339.9" cy="112.3" r="0.55" fill="#c4682e" stroke="none" opacity="0.60"/><path d="M312.0,123.3L312.1,121.2M312.0,123.3L314.0,124.9M312.0,123.3L309.7,121.9" stroke="#bc6832" stroke-width="0.60" opacity="0.77"/><circle cx="312.0" cy="123.3" r="0.56" fill="#bc6832" stroke="none" opacity="0.77"/><path d="M331.9,91.2L333.9,92.3M331.9,91.2L332.2,93.5M331.9,91.2L329.8,91.8M331.9,91.2L330.7,88.7" stroke="#c4682e" stroke-width="0.76" opacity="0.59"/><circle cx="331.9" cy="91.2" r="0.80" fill="#c4682e" stroke="none" opacity="0.59"/><path d="M328.1,96.4L326.7,95.3M328.1,96.4L330.3,96.6M328.1,96.4L329.1,98.5M328.1,96.4L326.3,98.2" stroke="#cc7636" stroke-width="0.80" opacity="0.56"/><circle cx="328.1" cy="96.4" r="0.54" fill="#cc7636" stroke="none" opacity="0.56"/><circle cx="298.8" cy="103.8" r="0.72" fill="#d08848" opacity="0.61"/><circle cx="342.9" cy="109.3" r="0.59" fill="#c8783c" opacity="0.77"/><circle cx="281.5" cy="114.4" r="0.73" fill="#c8783c" opacity="0.68"/><circle cx="341.0" cy="100.3" r="0.72" fill="#c8783c" opacity="0.49"/><circle cx="336.5" cy="102.0" r="0.40" fill="#b86430" opacity="0.77"/><circle cx="302.1" cy="117.2" r="0.72" fill="#b86430" opacity="0.62"/><circle cx="330.4" cy="103.6" r="0.62" fill="#c8783c" opacity="0.74"/><circle cx="333.5" cy="131.0" r="0.72" fill="#c8783c" opacity="0.85"/><circle cx="335.4" cy="142.3" r="0.51" fill="#d08848" opacity="0.72"/><circle cx="344.9" cy="141.2" r="0.72" fill="#c06c38" opacity="0.81"/><circle cx="350.0" cy="95.8" r="0.69" fill="#c8783c" opacity="0.62"/><circle cx="302.6" cy="100.4" r="0.52" fill="#c8783c" opacity="0.44"/><circle cx="321.7" cy="100.5" r="0.62" fill="#c06c38" opacity="0.47"/><circle cx="288.3" cy="104.6" r="0.57" fill="#d08848" opacity="0.63"/><circle cx="340.3" cy="111.5" r="0.73" fill="#c06c38" opacity="0.45"/><circle cx="286.0" cy="101.2" r="0.41" fill="#d08848" opacity="0.48"/><circle cx="347.8" cy="95.9" r="0.42" fill="#c06c38" opacity="0.80"/><circle cx="335.6" cy="133.0" r="0.47" fill="#c06c38" opacity="0.84"/><circle cx="347.2" cy="97.8" r="0.75" fill="#c8783c" opacity="0.56"/><circle cx="283.2" cy="91.5" r="0.46" fill="#b86430" opacity="0.56"/><circle cx="333.7" cy="127.4" r="0.42" fill="#b86430" opacity="0.56"/><circle cx="341.0" cy="139.1" r="0.57" fill="#b86430" opacity="0.45"/><circle cx="342.1" cy="100.4" r="0.71" fill="#b86430" opacity="0.48"/><circle cx="317.4" cy="116.5" r="0.53" fill="#d08848" opacity="0.66"/><circle cx="306.6" cy="141.7" r="0.70" fill="#b86430" opacity="0.57"/><circle cx="341.5" cy="93.4" r="0.53" fill="#d08848" opacity="0.52"/><circle cx="343.7" cy="128.5" r="0.48" fill="#c06c38" opacity="0.75"/><circle cx="339.8" cy="100.6" r="0.48" fill="#d08848" opacity="0.48"/><circle cx="314.0" cy="114.7" r="0.52" fill="#c06c38" opacity="0.67"/><circle cx="348.1" cy="115.4" r="0.55" fill="#d08848" opacity="0.43"/><circle cx="344.7" cy="97.3" r="0.69" fill="#c8783c" opacity="0.60"/><circle cx="288.0" cy="136.3" r="0.73" fill="#d08848" opacity="0.58"/><circle cx="347.2" cy="92.8" r="0.77" fill="#c06c38" opacity="0.76"/><circle cx="312.4" cy="91.7" r="0.69" fill="#d08848" opacity="0.80"/><circle cx="299.8" cy="97.1" r="0.71" fill="#c8783c" opacity="0.60"/><circle cx="346.4" cy="130.7" r="0.69" fill="#b86430" opacity="0.68"/><circle cx="289.0" cy="138.6" r="0.55" fill="#b86430" opacity="0.53"/><circle cx="327.7" cy="93.5" r="0.60" fill="#d08848" opacity="0.81"/><circle cx="336.3" cy="121.5" r="0.58" fill="#c8783c" opacity="0.41"/><circle cx="313.8" cy="99.6" r="0.55" fill="#b86430" opacity="0.85"/><circle cx="323.0" cy="103.5" r="0.49" fill="#d08848" opacity="0.73"/><circle cx="323.9" cy="100.2" r="0.51" fill="#c8783c" opacity="0.50"/><circle cx="302.3" cy="135.5" r="0.62" fill="#b86430" opacity="0.55"/><circle cx="348.9" cy="139.6" r="0.54" fill="#c06c38" opacity="0.80"/><circle cx="287.0" cy="130.4" r="0.44" fill="#d08848" opacity="0.58"/><circle cx="341.5" cy="126.4" r="0.48" fill="#c06c38" opacity="0.60"/><circle cx="346.2" cy="99.4" r="0.51" fill="#c8783c" opacity="0.40"/><circle cx="322.8" cy="100.6" r="0.67" fill="#c06c38" opacity="0.48"/><circle cx="311.0" cy="99.5" r="0.57" fill="#b86430" opacity="0.58"/><circle cx="334.6" cy="125.3" r="0.56" fill="#d08848" opacity="0.57"/><circle cx="347.8" cy="93.3" r="0.52" fill="#d08848" opacity="0.68"/><circle cx="308.9" cy="102.9" r="0.49" fill="#c06c38" opacity="0.59"/><circle cx="287.7" cy="117.7" r="0.79" fill="#c8783c" opacity="0.41"/><circle cx="348.2" cy="137.6" r="0.57" fill="#c06c38" opacity="0.57"/><circle cx="287.9" cy="105.2" r="0.68" fill="#b86430" opacity="0.52"/><circle cx="281.8" cy="114.3" r="0.51" fill="#c06c38" opacity="0.41"/><circle cx="313.2" cy="103.7" r="0.45" fill="#c06c38" opacity="0.54"/><circle cx="296.3" cy="92.5" r="0.50" fill="#c8783c" opacity="0.68"/><circle cx="336.3" cy="90.9" r="0.48" fill="#b86430" opacity="0.63"/><circle cx="297.3" cy="140.7" r="0.40" fill="#c06c38" opacity="0.46"/><circle cx="337.0" cy="134.4" r="0.66" fill="#d08848" opacity="0.85"/><circle cx="340.4" cy="94.5" r="0.80" fill="#c8783c" opacity="0.72"/><circle cx="325.6" cy="136.1" r="0.52" fill="#c8783c" opacity="0.73"/><circle cx="346.7" cy="95.5" r="0.67" fill="#b86430" opacity="0.63"/><circle cx="347.4" cy="119.2" r="0.52" fill="#d08848" opacity="0.47"/><circle cx="316.5" cy="136.8" r="0.42" fill="#c8783c" opacity="0.52"/><circle cx="315.4" cy="102.1" r="0.47" fill="#b86430" opacity="0.73"/><circle cx="312.0" cy="113.3" r="0.46" fill="#d08848" opacity="0.77"/><circle cx="307.6" cy="136.8" r="0.63" fill="#b86430" opacity="0.49"/><circle cx="338.6" cy="110.7" r="0.79" fill="#b86430" opacity="0.82"/><circle cx="346.5" cy="96.2" r="0.52" fill="#c8783c" opacity="0.65"/><circle cx="303.6" cy="142.1" r="0.77" fill="#c8783c" opacity="0.82"/><circle cx="300.6" cy="99.0" r="0.43" fill="#b86430" opacity="0.55"/><circle cx="341.2" cy="141.9" r="0.67" fill="#c8783c" opacity="0.68"/><circle cx="299.4" cy="102.1" r="0.77" fill="#c06c38" opacity="0.53"/><circle cx="297.1" cy="118.0" r="0.45" fill="#b86430" opacity="0.44"/><circle cx="329.0" cy="124.2" r="0.65" fill="#c8783c" opacity="0.68"/><circle cx="305.8" cy="139.4" r="0.59" fill="#c06c38" opacity="0.42"/><circle cx="321.5" cy="128.3" r="0.46" fill="#c06c38" opacity="0.50"/><circle cx="289.7" cy="102.5" r="0.43" fill="#c06c38" opacity="0.76"/><circle cx="341.5" cy="132.7" r="0.41" fill="#b86430" opacity="0.77"/><circle cx="344.7" cy="122.5" r="0.50" fill="#d08848" opacity="0.75"/><circle cx="348.9" cy="94.4" r="0.70" fill="#b86430" opacity="0.64"/><circle cx="287.3" cy="103.3" r="0.58" fill="#d08848" opacity="0.55"/><circle cx="341.1" cy="128.9" r="0.56" fill="#b86430" opacity="0.83"/><circle cx="305.4" cy="117.5" r="0.61" fill="#b86430" opacity="0.68"/><circle cx="296.2" cy="101.8" r="0.54" fill="#b86430" opacity="0.62"/><circle cx="320.1" cy="116.3" r="0.55" fill="#d08848" opacity="0.74"/><circle cx="282.7" cy="99.9" r="0.57" fill="#d08848" opacity="0.79"/><circle cx="346.8" cy="91.6" r="0.73" fill="#d08848" opacity="0.77"/><circle cx="300.2" cy="102.4" r="0.40" fill="#c06c38" opacity="0.72"/><circle cx="342.8" cy="127.9" r="0.63" fill="#c06c38" opacity="0.57"/><circle cx="320.3" cy="137.2" r="0.56" fill="#b86430" opacity="0.56"/><circle cx="304.9" cy="93.5" r="0.66" fill="#d08848" opacity="0.41"/><circle cx="293.9" cy="140.1" r="0.63" fill="#c06c38" opacity="0.71"/><circle cx="310.4" cy="102.4" r="0.77" fill="#b86430" opacity="0.72"/><circle cx="316.7" cy="117.6" r="0.75" fill="#b86430" opacity="0.66"/><circle cx="340.4" cy="101.2" r="0.66" fill="#c06c38" opacity="0.71"/><circle cx="340.4" cy="89.3" r="0.55" fill="#c8783c" opacity="0.74"/><circle cx="284.5" cy="136.0" r="0.56" fill="#c06c38" opacity="0.78"/><circle cx="313.6" cy="97.3" r="0.67" fill="#d08848" opacity="0.55"/><circle cx="284.6" cy="97.3" r="0.72" fill="#c06c38" opacity="0.71"/><circle cx="349.9" cy="99.1" r="0.70" fill="#d08848" opacity="0.67"/><circle cx="315.2" cy="101.0" r="0.57" fill="#b86430" opacity="0.74"/><circle cx="287.4" cy="128.1" r="0.50" fill="#c8783c" opacity="0.71"/><circle cx="284.6" cy="117.2" r="0.71" fill="#c8783c" opacity="0.59"/><circle cx="336.2" cy="94.8" r="0.57" fill="#d08848" opacity="0.80"/><circle cx="313.6" cy="98.6" r="0.59" fill="#b86430" opacity="0.55"/><circle cx="326.7" cy="89.9" r="0.40" fill="#b86430" opacity="0.43"/><circle cx="313.2" cy="92.2" r="0.76" fill="#c06c38" opacity="0.66"/><circle cx="336.2" cy="142.3" r="0.48" fill="#c06c38" opacity="0.59"/><circle cx="336.2" cy="104.2" r="0.48" fill="#d08848" opacity="0.43"/><circle cx="317.4" cy="125.9" r="0.53" fill="#d08848" opacity="0.63"/><circle cx="339.3" cy="104.0" r="0.61" fill="#c8783c" opacity="0.70"/><circle cx="295.5" cy="99.2" r="0.75" fill="#c8783c" opacity="0.74"/><circle cx="287.1" cy="98.2" r="0.75" fill="#c8783c" opacity="0.47"/><circle cx="319.8" cy="93.7" r="0.72" fill="#c06c38" opacity="0.58"/><circle cx="296.2" cy="104.3" r="0.69" fill="#d08848" opacity="0.70"/><circle cx="342.1" cy="140.4" r="0.53" fill="#b86430" opacity="0.50"/><circle cx="296.7" cy="120.3" r="0.47" fill="#c8783c" opacity="0.82"/><circle cx="346.0" cy="100.5" r="0.62" fill="#c06c38" opacity="0.54"/><circle cx="290.2" cy="137.7" r="0.63" fill="#d08848" opacity="0.84"/><circle cx="310.7" cy="136.8" r="0.57" fill="#b86430" opacity="0.59"/><circle cx="347.0" cy="142.2" r="0.63" fill="#b86430" opacity="0.47"/><circle cx="335.6" cy="95.7" r="0.49" fill="#c06c38" opacity="0.64"/><circle cx="314.7" cy="122.5" r="0.63" fill="#c8783c" opacity="0.85"/><circle cx="294.0" cy="113.4" r="0.42" fill="#c8783c" opacity="0.51"/><circle cx="323.0" cy="95.8" r="0.60" fill="#c8783c" opacity="0.48"/><circle cx="321.9" cy="92.8" r="0.70" fill="#d08848" opacity="0.53"/><circle cx="347.2" cy="138.8" r="0.73" fill="#c8783c" opacity="0.63"/><circle cx="342.6" cy="113.1" r="0.67" fill="#c06c38" opacity="0.57"/><circle cx="295.6" cy="106.2" r="0.50" fill="#c8783c" opacity="0.53"/><circle cx="335.4" cy="136.2" r="0.47" fill="#c06c38" opacity="0.58"/><circle cx="294.1" cy="96.0" r="0.42" fill="#d08848" opacity="0.83"/><circle cx="305.2" cy="97.7" r="0.70" fill="#b86430" opacity="0.73"/><circle cx="298.5" cy="121.0" r="0.45" fill="#c8783c" opacity="0.80"/><circle cx="324.2" cy="91.2" r="0.56" fill="#c8783c" opacity="0.44"/><circle cx="337.2" cy="104.3" r="0.61" fill="#d08848" opacity="0.78"/><circle cx="317.7" cy="95.7" r="0.60" fill="#d08848" opacity="0.41"/><circle cx="333.7" cy="117.6" r="0.75" fill="#b86430" opacity="0.71"/><circle cx="282.3" cy="102.0" r="0.77" fill="#d08848" opacity="0.55"/><circle cx="339.5" cy="92.4" r="0.62" fill="#b86430" opacity="0.47"/><circle cx="327.5" cy="140.8" r="0.67" fill="#b86430" opacity="0.75"/><circle cx="303.5" cy="93.1" r="0.63" fill="#b86430" opacity="0.60"/><circle cx="313.1" cy="102.0" r="0.52" fill="#b86430" opacity="0.62"/><circle cx="296.4" cy="122.6" r="0.63" fill="#c06c38" opacity="0.56"/><circle cx="322.6" cy="97.7" r="0.65" fill="#c8783c" opacity="0.47"/><circle cx="295.6" cy="136.3" r="0.68" fill="#d08848" opacity="0.79"/><circle cx="337.6" cy="133.8" r="0.79" fill="#d08848" opacity="0.60"/><circle cx="330.9" cy="132.3" r="0.68" fill="#b86430" opacity="0.49"/><path d="M295.5,117.8 L302.7,117.6 L307.5,124.8 M303.5,119.2 L318.6,119.8 L325,127.8" stroke="#8a4a24" stroke-width="2.8" opacity="0.75" fill="none"/><path d="M295.5,117.8 L302.7,117.6 L307.5,124.8 M303.5,119.2 L318.6,119.8 L325,127.8" stroke="#f6dfba" stroke-width="1.9" fill="none"/></g>
<line x1="342.00" y1="140.00" x2="346.50" y2="140.00" stroke="#444" stroke-width="1.1" />
<text x="209.00" y="25.80" font-size="10.2" text-anchor="start" >LLC-Control</text>
<text x="283.80" y="25.80" font-size="10.2" text-anchor="start" >LLC-PLGF</text>
<text transform="translate(201.50,57.90) rotate(-90)" x="0" y="0" font-size="10" text-anchor="middle" >WT</text>
<text transform="translate(200.20,116.70) rotate(-90)" x="0" y="0" font-size="10" text-anchor="middle" ><tspan font-family="Liberation Sans" font-weight="normal" style="stroke-width:0">α</tspan>2KO</text>
<text x="274.10" y="155.80" font-size="10" text-anchor="middle" >CD31</text>
<line x1="413.00" y1="32.90" x2="413.00" y2="132.90" stroke="#2a2a2a" stroke-width="1.0" />
<line x1="412.50" y1="132.40" x2="516.50" y2="132.40" stroke="#2a2a2a" stroke-width="1.0" />
<line x1="407.50" y1="33.40" x2="413.00" y2="33.40" stroke="#2a2a2a" stroke-width="1.0" />
<text transform="translate(404.60,37.30) scale(1,1.06)" font-size="10.0" text-anchor="end">30</text>
<line x1="407.50" y1="66.40" x2="413.00" y2="66.40" stroke="#2a2a2a" stroke-width="1.0" />
<text transform="translate(404.60,70.30) scale(1,1.06)" font-size="10.0" text-anchor="end">20</text>
<line x1="407.50" y1="99.40" x2="413.00" y2="99.40" stroke="#2a2a2a" stroke-width="1.0" />
<text transform="translate(404.60,103.30) scale(1,1.06)" font-size="10.0" text-anchor="end">10</text>
<line x1="407.50" y1="132.40" x2="413.00" y2="132.40" stroke="#2a2a2a" stroke-width="1.0" />
<text transform="translate(404.60,136.30) scale(1,1.06)" font-size="10.0" text-anchor="end">0</text>
<line x1="426.80" y1="90.49" x2="426.80" y2="88.84" stroke="#2a2a2a" stroke-width="1" />
<line x1="424.30" y1="88.84" x2="429.30" y2="88.84" stroke="#2a2a2a" stroke-width="1" />
<rect x="418.90" y="90.49" width="15.80" height="41.91" fill="#fff" stroke="#222" stroke-width="1"/>
<line x1="449.70" y1="85.87" x2="449.70" y2="84.55" stroke="#2a2a2a" stroke-width="1" />
<line x1="447.20" y1="84.55" x2="452.20" y2="84.55" stroke="#2a2a2a" stroke-width="1" />
<rect x="441.70" y="85.87" width="16.00" height="46.53" fill="#000" stroke="#222" stroke-width="1"/>
<line x1="482.80" y1="69.37" x2="482.80" y2="65.08" stroke="#2a2a2a" stroke-width="1" />
<line x1="480.30" y1="65.08" x2="485.30" y2="65.08" stroke="#2a2a2a" stroke-width="1" />
<rect x="474.70" y="69.37" width="16.20" height="63.03" fill="#fff" stroke="#222" stroke-width="1"/>
<line x1="505.75" y1="48.25" x2="505.75" y2="45.28" stroke="#2a2a2a" stroke-width="1" />
<line x1="503.25" y1="45.28" x2="508.25" y2="45.28" stroke="#2a2a2a" stroke-width="1" />
<rect x="497.50" y="48.25" width="16.50" height="84.15" fill="#000" stroke="#222" stroke-width="1"/>
<rect x="416.20" y="27.00" width="7.60" height="7.40" fill="#fff" stroke="#222" stroke-width="1"/>
<rect x="416.20" y="39.20" width="7.60" height="7.00" fill="#000" stroke="#000" stroke-width="0.5"/>
<text x="426.00" y="34.20" font-size="10.25" text-anchor="start" >WT</text>
<text x="426.00" y="46.20" font-size="10.25" text-anchor="start" ><tspan font-family="Liberation Sans" font-weight="normal" style="stroke-width:0">α</tspan>2KO</text>
<polyline points="451.30,30.00 451.30,26.10 505.00,26.10 505.00,30.00" fill="none" stroke="#444" stroke-width="0.95"/>
<polygon points="475.75,18.50 476.51,20.05 478.22,20.30 476.99,21.50 477.28,23.20 475.75,22.40 474.22,23.20 474.51,21.50 473.28,20.30 474.99,20.05" fill="#000"/>
<polygon points="480.65,18.50 481.41,20.05 483.12,20.30 481.89,21.50 482.18,23.20 480.65,22.40 479.12,23.20 479.41,21.50 478.18,20.30 479.89,20.05" fill="#000"/>
<polyline points="483.00,42.70 483.00,38.80 505.00,38.80 505.00,42.70" fill="none" stroke="#444" stroke-width="0.95"/>
<polygon points="494.50,30.70 495.26,32.25 496.97,32.50 495.74,33.70 496.03,35.40 494.50,34.60 492.97,35.40 493.26,33.70 492.03,32.50 493.74,32.25" fill="#000"/>
<polyline points="428.20,63.00 428.20,60.00 482.00,60.00 482.00,64.00" fill="none" stroke="#444" stroke-width="0.95"/>
<polygon points="449.70,50.80 450.46,52.35 452.17,52.60 450.94,53.80 451.23,55.50 449.70,54.70 448.17,55.50 448.46,53.80 447.23,52.60 448.94,52.35" fill="#000"/>
<polygon points="454.60,50.80 455.36,52.35 457.07,52.60 455.84,53.80 456.13,55.50 454.60,54.70 453.07,55.50 453.36,53.80 452.13,52.60 453.84,52.35" fill="#000"/>
<polygon points="459.50,50.80 460.26,52.35 461.97,52.60 460.74,53.80 461.03,55.50 459.50,54.70 457.97,55.50 458.26,53.80 457.03,52.60 458.74,52.35" fill="#000"/>
<text x="438.20" y="144.20" font-size="10" text-anchor="middle" >LLC-</text>
<text x="438.50" y="155.10" font-size="10" text-anchor="middle" >Control</text>
<text x="494.00" y="144.20" font-size="10" text-anchor="middle" >LLC-</text>
<text x="494.30" y="155.10" font-size="10" text-anchor="middle" >PLGF</text>
<text transform="translate(377.80,80.70) rotate(-90)" x="0" y="0" font-size="10.6" text-anchor="middle" >% Vessel occupied</text>
<text transform="translate(389.70,78.10) rotate(-90)" x="0" y="0" font-size="10" text-anchor="middle" >area</text>
<line x1="50.00" y1="200.80" x2="50.00" y2="301.80" stroke="#2a2a2a" stroke-width="1.0" />
<line x1="44.60" y1="301.30" x2="155.50" y2="301.30" stroke="#2a2a2a" stroke-width="1.0" />
<line x1="44.20" y1="201.30" x2="50.00" y2="201.30" stroke="#2a2a2a" stroke-width="1.0" />
<text transform="translate(41.60,205.10) scale(1,1.06)" font-size="10.2" text-anchor="end">400</text>
<line x1="44.20" y1="226.30" x2="50.00" y2="226.30" stroke="#2a2a2a" stroke-width="1.0" />
<text transform="translate(41.60,230.10) scale(1,1.06)" font-size="10.2" text-anchor="end">300</text>
<line x1="44.20" y1="251.30" x2="50.00" y2="251.30" stroke="#2a2a2a" stroke-width="1.0" />
<text transform="translate(41.60,255.10) scale(1,1.06)" font-size="10.2" text-anchor="end">200</text>
<line x1="44.20" y1="276.30" x2="50.00" y2="276.30" stroke="#2a2a2a" stroke-width="1.0" />
<text transform="translate(41.60,280.10) scale(1,1.06)" font-size="10.2" text-anchor="end">100</text>
<line x1="44.20" y1="301.30" x2="50.00" y2="301.30" stroke="#2a2a2a" stroke-width="1.0" />
<text transform="translate(41.60,305.10) scale(1,1.06)" font-size="10.2" text-anchor="end">0</text>
<line x1="63.40" y1="266.55" x2="63.40" y2="264.05" stroke="#2a2a2a" stroke-width="1" />
<line x1="60.90" y1="264.05" x2="65.90" y2="264.05" stroke="#2a2a2a" stroke-width="1" />
<rect x="55.30" y="266.55" width="16.20" height="34.75" fill="#fff" stroke="#222" stroke-width="1"/>
<line x1="86.40" y1="264.05" x2="86.40" y2="260.55" stroke="#2a2a2a" stroke-width="1" />
<line x1="83.90" y1="260.55" x2="88.90" y2="260.55" stroke="#2a2a2a" stroke-width="1" />
<rect x="78.30" y="264.05" width="16.20" height="37.25" fill="#000" stroke="#222" stroke-width="1"/>
<line x1="119.40" y1="255.05" x2="119.40" y2="253.30" stroke="#2a2a2a" stroke-width="1" />
<line x1="116.90" y1="253.30" x2="121.90" y2="253.30" stroke="#2a2a2a" stroke-width="1" />
<rect x="111.50" y="255.05" width="15.80" height="46.25" fill="#fff" stroke="#222" stroke-width="1"/>
<line x1="142.75" y1="224.55" x2="142.75" y2="219.55" stroke="#2a2a2a" stroke-width="1" />
<line x1="140.25" y1="219.55" x2="145.25" y2="219.55" stroke="#2a2a2a" stroke-width="1" />
<rect x="134.50" y="224.55" width="16.50" height="76.75" fill="#000" stroke="#222" stroke-width="1"/>
<rect x="53.40" y="205.00" width="8.20" height="7.60" fill="#fff" stroke="#222" stroke-width="1"/>
<rect x="53.40" y="216.80" width="8.20" height="7.20" fill="#000" stroke="#000" stroke-width="0.5"/>
<text x="63.60" y="212.40" font-size="10.25" text-anchor="start" >WT</text>
<text x="63.60" y="224.20" font-size="10.25" text-anchor="start" ><tspan font-family="Liberation Sans" font-weight="normal" style="stroke-width:0">α</tspan>2KO</text>
<polyline points="88.40,203.00 88.40,199.80 141.60,199.80 141.60,203.00" fill="none" stroke="#444" stroke-width="0.95"/>
<polygon points="112.75,192.10 113.51,193.65 115.22,193.90 113.99,195.10 114.28,196.80 112.75,196.00 111.22,196.80 111.51,195.10 110.28,193.90 111.99,193.65" fill="#000"/>
<polygon points="117.65,192.10 118.41,193.65 120.12,193.90 118.89,195.10 119.18,196.80 117.65,196.00 116.12,196.80 116.41,195.10 115.18,193.90 116.89,193.65" fill="#000"/>
<polyline points="120.00,216.30 120.00,213.30 141.70,213.30 141.70,216.30" fill="none" stroke="#444" stroke-width="0.95"/>
<polygon points="130.80,204.80 131.56,206.35 133.27,206.60 132.04,207.80 132.33,209.50 130.80,208.70 129.27,209.50 129.56,207.80 128.33,206.60 130.04,206.35" fill="#000"/>
<polyline points="64.60,250.00 64.60,246.60 117.50,246.60 117.50,250.00" fill="none" stroke="#444" stroke-width="0.95"/>
<polygon points="86.40,237.60 87.16,239.15 88.87,239.40 87.64,240.60 87.93,242.30 86.40,241.50 84.87,242.30 85.16,240.60 83.93,239.40 85.64,239.15" fill="#000"/>
<polygon points="91.30,237.60 92.06,239.15 93.77,239.40 92.54,240.60 92.83,242.30 91.30,241.50 89.77,242.30 90.06,240.60 88.83,239.40 90.54,239.15" fill="#000"/>
<polygon points="96.20,237.60 96.96,239.15 98.67,239.40 97.44,240.60 97.73,242.30 96.20,241.50 94.67,242.30 94.96,240.60 93.73,239.40 95.44,239.15" fill="#000"/>
<text x="76.20" y="312.60" font-size="10" text-anchor="middle" >LLC-</text>
<text x="76.00" y="323.50" font-size="10" text-anchor="middle" >Control</text>
<text x="131.80" y="312.60" font-size="10" text-anchor="middle" >LLC-</text>
<text x="131.70" y="323.50" font-size="10" text-anchor="middle" >PLGF</text>
<text transform="translate(8.00,251.00) rotate(-90)" x="0" y="0" font-size="10.3" text-anchor="middle" >Average vessel</text>
<text transform="translate(19.20,251.80) rotate(-90)" x="0" y="0" font-size="10" text-anchor="middle" >size (<tspan font-family="Liberation Serif" font-weight="normal" style="stroke-width:0.1px">µ</tspan>m<tspan dy="-3.8" font-size="7">2</tspan><tspan dy="3.8">)</tspan></text>
<line x1="220.50" y1="201.54" x2="220.50" y2="301.90" stroke="#2a2a2a" stroke-width="1.0" />
<line x1="220.00" y1="301.40" x2="356.50" y2="301.40" stroke="#2a2a2a" stroke-width="1.0" />
<line x1="215.00" y1="202.04" x2="220.50" y2="202.04" stroke="#2a2a2a" stroke-width="1.0" />
<text transform="translate(212.60,205.44) scale(1,1.06)" font-size="10.2" text-anchor="end">1200</text>
<line x1="215.00" y1="226.88" x2="220.50" y2="226.88" stroke="#2a2a2a" stroke-width="1.0" />
<text transform="translate(212.60,230.28) scale(1,1.06)" font-size="10.2" text-anchor="end">900</text>
<line x1="215.00" y1="251.72" x2="220.50" y2="251.72" stroke="#2a2a2a" stroke-width="1.0" />
<text transform="translate(212.60,255.12) scale(1,1.06)" font-size="10.2" text-anchor="end">600</text>
<line x1="215.00" y1="276.56" x2="220.50" y2="276.56" stroke="#2a2a2a" stroke-width="1.0" />
<text transform="translate(212.60,279.96) scale(1,1.06)" font-size="10.2" text-anchor="end">300</text>
<line x1="215.00" y1="301.40" x2="220.50" y2="301.40" stroke="#2a2a2a" stroke-width="1.0" />
<text transform="translate(212.60,304.80) scale(1,1.06)" font-size="10.2" text-anchor="end">0</text>
<line x1="220.20" y1="301.40" x2="220.20" y2="303.90" stroke="#2a2a2a" stroke-width="1.0" />
<text transform="translate(220.20,315.20) scale(1,1.06)" font-size="9.9" text-anchor="middle">0</text>
<line x1="239.24" y1="301.40" x2="239.24" y2="303.90" stroke="#2a2a2a" stroke-width="1.0" />
<text transform="translate(239.24,315.20) scale(1,1.06)" font-size="9.9" text-anchor="middle">2</text>
<line x1="258.28" y1="301.40" x2="258.28" y2="303.90" stroke="#2a2a2a" stroke-width="1.0" />
<text transform="translate(258.28,315.20) scale(1,1.06)" font-size="9.9" text-anchor="middle">4</text>
<line x1="277.32" y1="301.40" x2="277.32" y2="303.90" stroke="#2a2a2a" stroke-width="1.0" />
<text transform="translate(277.32,315.20) scale(1,1.06)" font-size="9.9" text-anchor="middle">6</text>
<line x1="296.36" y1="301.40" x2="296.36" y2="303.90" stroke="#2a2a2a" stroke-width="1.0" />
<text transform="translate(296.36,315.20) scale(1,1.06)" font-size="9.9" text-anchor="middle">8</text>
<line x1="315.40" y1="301.40" x2="315.40" y2="303.90" stroke="#2a2a2a" stroke-width="1.0" />
<text transform="translate(315.40,315.20) scale(1,1.06)" font-size="9.9" text-anchor="middle">10</text>
<line x1="334.44" y1="301.40" x2="334.44" y2="303.90" stroke="#2a2a2a" stroke-width="1.0" />
<text transform="translate(334.44,315.20) scale(1,1.06)" font-size="9.9" text-anchor="middle">12</text>
<line x1="353.48" y1="301.40" x2="353.48" y2="303.90" stroke="#2a2a2a" stroke-width="1.0" />
<text transform="translate(353.48,315.20) scale(1,1.06)" font-size="9.9" text-anchor="middle">14</text>
<text x="288.60" y="328.00" font-size="10.2" text-anchor="middle" >Time (days)</text>
<text transform="translate(185.00,251.60) rotate(-90)" x="0" y="0" font-size="10.3" text-anchor="middle" >Tumor volume (mm<tspan dy="-3.5" font-size="6.5">3</tspan><tspan dy="3.5">)</tspan></text>
<polyline points="220.20,301.40 277.32,299.33 296.36,293.95 315.40,284.18 334.44,266.21 353.48,251.31" fill="none" stroke="#111" stroke-width="1.1" stroke-dasharray="3,2"/>
<polyline points="220.20,301.40 277.32,299.33 296.36,292.71 315.40,280.04 334.44,257.10 353.48,235.16" fill="none" stroke="#111" stroke-width="1.1"/>
<line x1="296.36" y1="292.29" x2="296.36" y2="295.60" stroke="#2a2a2a" stroke-width="1" />
<line x1="293.86" y1="295.60" x2="298.86" y2="295.60" stroke="#2a2a2a" stroke-width="1" />
<line x1="293.86" y1="292.29" x2="298.86" y2="292.29" stroke="#2a2a2a" stroke-width="1" />
<line x1="315.40" y1="280.87" x2="315.40" y2="287.49" stroke="#2a2a2a" stroke-width="1" />
<line x1="312.90" y1="287.49" x2="317.90" y2="287.49" stroke="#2a2a2a" stroke-width="1" />
<line x1="312.90" y1="280.87" x2="317.90" y2="280.87" stroke="#2a2a2a" stroke-width="1" />
<line x1="334.44" y1="255.86" x2="334.44" y2="276.56" stroke="#2a2a2a" stroke-width="1" />
<line x1="331.94" y1="276.56" x2="336.94" y2="276.56" stroke="#2a2a2a" stroke-width="1" />
<line x1="331.94" y1="255.86" x2="336.94" y2="255.86" stroke="#2a2a2a" stroke-width="1" />
<line x1="353.48" y1="238.89" x2="353.48" y2="263.73" stroke="#2a2a2a" stroke-width="1" />
<line x1="350.98" y1="263.73" x2="355.98" y2="263.73" stroke="#2a2a2a" stroke-width="1" />
<line x1="350.98" y1="238.89" x2="355.98" y2="238.89" stroke="#2a2a2a" stroke-width="1" />
<line x1="296.36" y1="290.64" x2="296.36" y2="294.78" stroke="#2a2a2a" stroke-width="1" />
<line x1="293.86" y1="294.78" x2="298.86" y2="294.78" stroke="#2a2a2a" stroke-width="1" />
<line x1="293.86" y1="290.64" x2="298.86" y2="290.64" stroke="#2a2a2a" stroke-width="1" />
<line x1="315.40" y1="273.00" x2="315.40" y2="287.08" stroke="#2a2a2a" stroke-width="1" />
<line x1="312.90" y1="287.08" x2="317.90" y2="287.08" stroke="#2a2a2a" stroke-width="1" />
<line x1="312.90" y1="273.00" x2="317.90" y2="273.00" stroke="#2a2a2a" stroke-width="1" />
<line x1="334.44" y1="243.44" x2="334.44" y2="270.76" stroke="#2a2a2a" stroke-width="1" />
<line x1="331.94" y1="270.76" x2="336.94" y2="270.76" stroke="#2a2a2a" stroke-width="1" />
<line x1="331.94" y1="243.44" x2="336.94" y2="243.44" stroke="#2a2a2a" stroke-width="1" />
<line x1="353.48" y1="210.32" x2="353.48" y2="260.00" stroke="#2a2a2a" stroke-width="1" />
<line x1="350.98" y1="260.00" x2="355.98" y2="260.00" stroke="#2a2a2a" stroke-width="1" />
<line x1="350.98" y1="210.32" x2="355.98" y2="210.32" stroke="#2a2a2a" stroke-width="1" />
<polygon points="217.10,304.10 223.30,304.10 220.20,298.70" fill="#000" stroke="#111" stroke-width="0"/>
<polygon points="274.22,302.03 280.42,302.03 277.32,296.63" fill="#000" stroke="#111" stroke-width="0"/>
<polygon points="293.26,295.40 299.46,295.40 296.36,290.01" fill="#000" stroke="#111" stroke-width="0"/>
<polygon points="312.30,282.73 318.50,282.73 315.40,277.34" fill="#000" stroke="#111" stroke-width="0"/>
<polygon points="331.34,259.80 337.54,259.80 334.44,254.40" fill="#000" stroke="#111" stroke-width="0"/>
<polygon points="350.38,237.86 356.58,237.86 353.48,232.46" fill="#000" stroke="#111" stroke-width="0"/>
<rect x="217.60" y="298.80" width="5.20" height="5.20" fill="#fff" stroke="#222" stroke-width="1.1"/>
<rect x="274.72" y="296.73" width="5.20" height="5.20" fill="#fff" stroke="#222" stroke-width="1.1"/>
<rect x="293.76" y="291.35" width="5.20" height="5.20" fill="#fff" stroke="#222" stroke-width="1.1"/>
<rect x="312.80" y="281.58" width="5.20" height="5.20" fill="#fff" stroke="#222" stroke-width="1.1"/>
<rect x="331.84" y="263.61" width="5.20" height="5.20" fill="#fff" stroke="#222" stroke-width="1.1"/>
<rect x="350.88" y="248.71" width="5.20" height="5.20" fill="#fff" stroke="#222" stroke-width="1.1"/>
<rect x="238.70" y="199.40" width="4.80" height="4.80" fill="#fff" stroke="#222" stroke-width="1.1"/>
<text x="247.00" y="204.80" font-size="10.25" text-anchor="start" >WT</text>
<polygon points="237.60,216.86 244.40,216.86 241.00,210.94" fill="#000" stroke="#111" stroke-width="0"/>
<text x="246.60" y="216.50" font-size="10.25" text-anchor="start" ><tspan font-family="Liberation Sans" font-weight="normal" style="stroke-width:0">α</tspan>2KO</text>
<line x1="416.80" y1="200.88" x2="416.80" y2="301.90" stroke="#2a2a2a" stroke-width="1.0" />
<line x1="412.00" y1="301.40" x2="471.00" y2="301.40" stroke="#2a2a2a" stroke-width="1.0" />
<line x1="411.20" y1="301.40" x2="416.80" y2="301.40" stroke="#2a2a2a" stroke-width="1.0" />
<text transform="translate(408.80,305.30) scale(1,1.06)" font-size="10.2" text-anchor="end">0</text>
<line x1="411.20" y1="284.73" x2="416.80" y2="284.73" stroke="#2a2a2a" stroke-width="1.0" />
<line x1="411.20" y1="268.06" x2="416.80" y2="268.06" stroke="#2a2a2a" stroke-width="1.0" />
<text transform="translate(408.80,271.96) scale(1,1.06)" font-size="10.2" text-anchor="end">2</text>
<line x1="411.20" y1="251.39" x2="416.80" y2="251.39" stroke="#2a2a2a" stroke-width="1.0" />
<line x1="411.20" y1="234.72" x2="416.80" y2="234.72" stroke="#2a2a2a" stroke-width="1.0" />
<text transform="translate(408.80,238.62) scale(1,1.06)" font-size="10.2" text-anchor="end">4</text>
<line x1="411.20" y1="218.05" x2="416.80" y2="218.05" stroke="#2a2a2a" stroke-width="1.0" />
<line x1="411.20" y1="201.38" x2="416.80" y2="201.38" stroke="#2a2a2a" stroke-width="1.0" />
<text transform="translate(408.80,205.28) scale(1,1.06)" font-size="10.2" text-anchor="end">6</text>
<line x1="430.15" y1="233.89" x2="430.15" y2="227.72" stroke="#2a2a2a" stroke-width="1" />
<line x1="427.65" y1="227.72" x2="432.65" y2="227.72" stroke="#2a2a2a" stroke-width="1" />
<rect x="421.80" y="233.89" width="16.70" height="67.51" fill="#fff" stroke="#222" stroke-width="1"/>
<line x1="459.35" y1="222.05" x2="459.35" y2="205.38" stroke="#2a2a2a" stroke-width="1" />
<line x1="456.85" y1="205.38" x2="461.85" y2="205.38" stroke="#2a2a2a" stroke-width="1" />
<rect x="450.90" y="222.05" width="16.90" height="79.35" fill="#000" stroke="#222" stroke-width="1"/>
<text x="430.10" y="311.40" font-size="10" text-anchor="middle" >WT</text>
<text x="459.20" y="311.40" font-size="10.5" text-anchor="middle" ><tspan font-family="Liberation Sans" font-weight="normal" style="stroke-width:0">α</tspan>2KO</text>
<text transform="translate(388.00,247.00) rotate(-90)" x="0" y="0" font-size="10.3" text-anchor="middle" >% Vessel occupied</text>
<text transform="translate(399.00,247.30) rotate(-90)" x="0" y="0" font-size="10" text-anchor="middle" >area</text>
</g>
</svg>
</body></html>
